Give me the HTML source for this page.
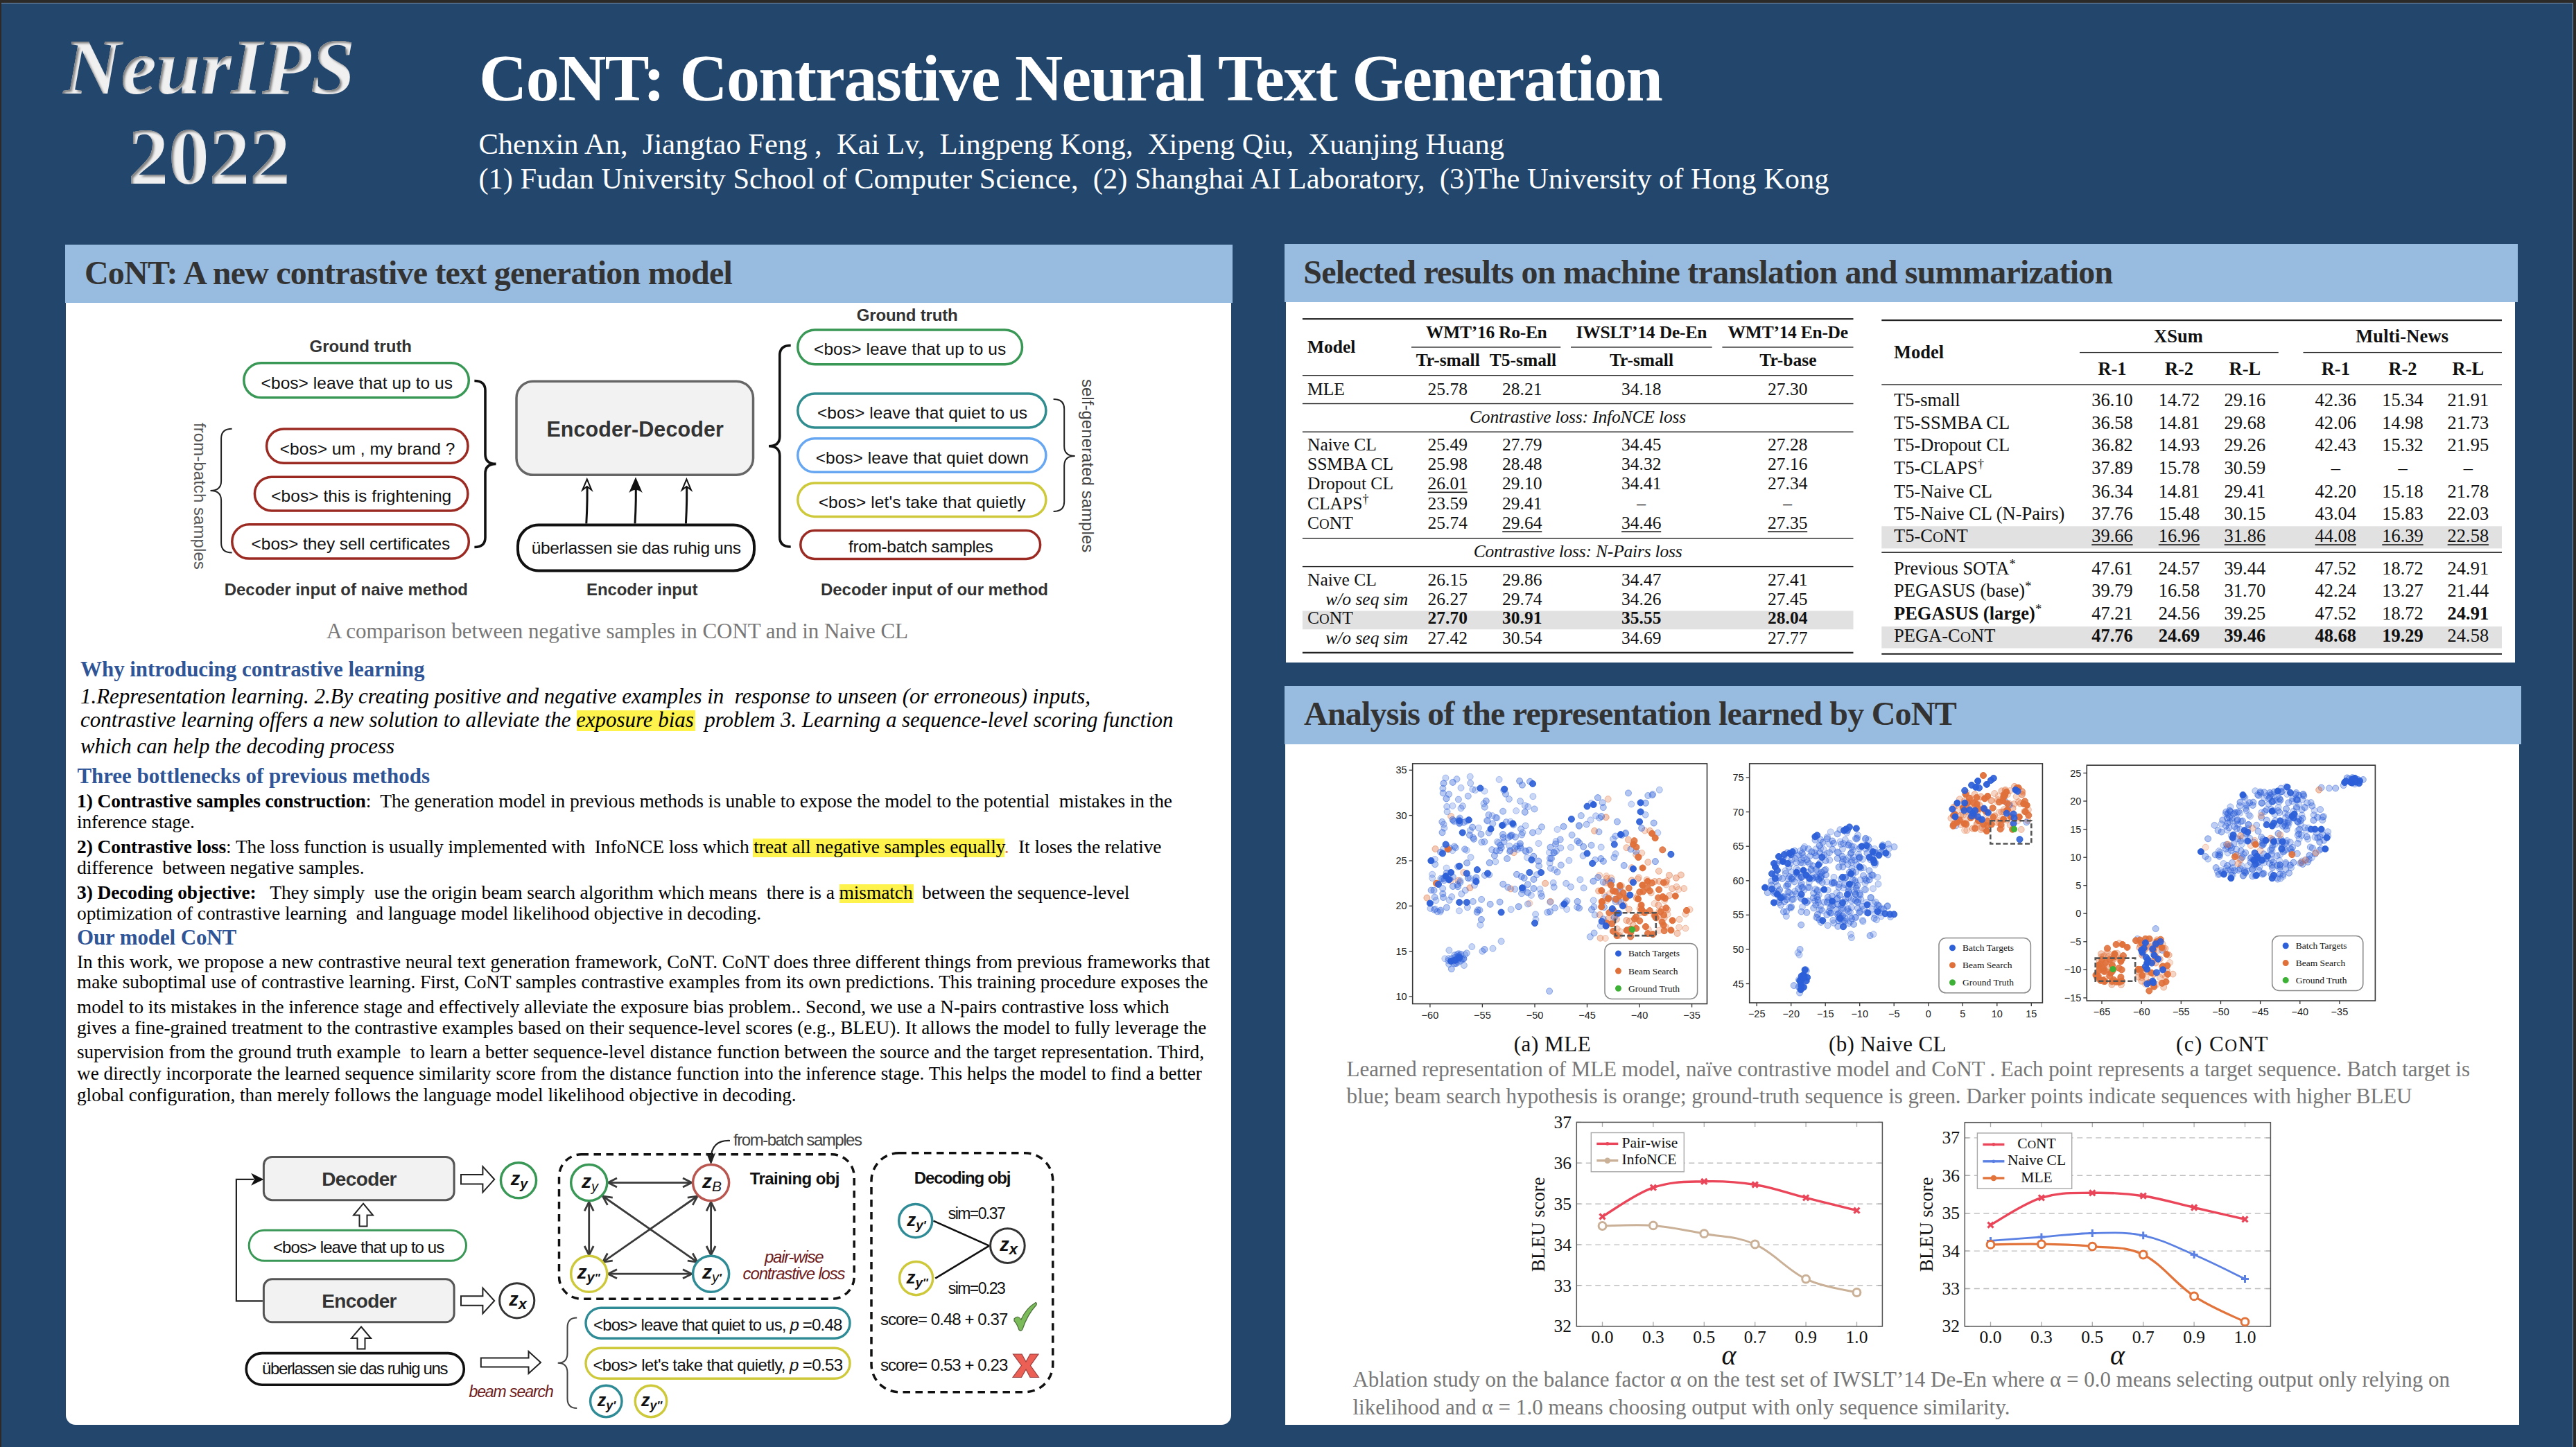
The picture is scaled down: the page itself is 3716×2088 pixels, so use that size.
<!DOCTYPE html><html><head><meta charset="utf-8"><style>
*{margin:0;padding:0;box-sizing:border-box}
html,body{width:3716px;height:2088px;overflow:hidden}
body{background:#22466c;position:relative;font-family:"Liberation Serif",serif}
.t{position:absolute;white-space:pre}
.a{position:absolute}
svg{position:absolute;left:0;top:0;overflow:visible}
</style></head><body>
<div class="a" style="left:0;top:0;width:3716px;height:4px;background:#2b2a29"></div>
<div class="a" style="left:2px;top:4px;width:3710px;height:1px;background:#7d93ab"></div>
<div class="a" style="left:0;top:0;width:2px;height:2088px;background:#2b2a29"></div>
<div class="a" style="left:3711px;top:4px;width:1px;height:2084px;background:#7d93ab"></div>
<div class="a" style="left:3712px;top:0;width:4px;height:2088px;background:#2b2a29"></div>
<svg width="600" height="300" style="left:0;top:0">
<defs><filter id="ins" x="-10%" y="-10%" width="120%" height="120%">
<feOffset dx="3" dy="3" in="SourceAlpha" result="o"/>
<feGaussianBlur in="o" stdDeviation="1.6" result="b"/>
<feComposite operator="out" in="SourceAlpha" in2="b" result="inv"/>
<feFlood flood-color="#000" flood-opacity="0.75"/>
<feComposite operator="in" in2="inv" result="sh"/>
<feMerge><feMergeNode in="SourceGraphic"/><feMergeNode in="sh"/></feMerge>
</filter></defs>
<g filter="url(#ins)" fill="#f0f0f0" font-family="Liberation Serif" font-weight="bold">
<text x="91.4" y="134.7" font-size="115" font-style="italic" letter-spacing="-0.2">NeurIPS</text>
<text x="184.6" y="264.6" font-size="117">2022</text>
</g></svg>
<div class="t" style="left:691.0px;top:65.2px;font-size:96px;line-height:96px;font-family:'Liberation Serif', serif;font-weight:bold;font-style:normal;color:#fff;letter-spacing:-1.693px;">CoNT: Contrastive Neural Text Generation</div>
<div class="t" style="left:690.4px;top:186.8px;font-size:42.5px;line-height:42.5px;font-family:'Liberation Serif', serif;font-weight:normal;font-style:normal;color:#fff;letter-spacing:0.026px;">Chenxin An,  Jiangtao Feng ,  Kai Lv,  Lingpeng Kong,  Xipeng Qiu,  Xuanjing Huang</div>
<div class="t" style="left:690.4px;top:237.4px;font-size:42.5px;line-height:42.5px;font-family:'Liberation Serif', serif;font-weight:normal;font-style:normal;color:#fff;letter-spacing:-0.001px;">(1) Fudan University School of Computer Science,  (2) Shanghai AI Laboratory,  (3)The University of Hong Kong</div>
<div class="a" style="left:95px;top:437px;width:1681px;height:1618.5px;background:#fff;border-radius:0 0 14px 14px"></div>
<div class="a" style="left:94px;top:353px;width:1684px;height:84px;background:#98bbe0"></div>
<div class="a" style="left:1855px;top:436px;width:1773px;height:520.4px;background:#fff"></div>
<div class="a" style="left:1853px;top:352px;width:1779px;height:84px;background:#98bbe0"></div>
<div class="a" style="left:1854px;top:1073.6px;width:1780px;height:982px;background:#fff"></div>
<div class="a" style="left:1853px;top:990px;width:1784px;height:83.6px;background:#98bbe0"></div>
<div class="t" style="left:122.0px;top:370.0px;font-size:48px;line-height:48px;font-family:'Liberation Serif', serif;font-weight:bold;font-style:normal;color:#333;letter-spacing:-0.791px;">CoNT: A new contrastive text generation model</div>
<div class="t" style="left:1880.2px;top:368.5px;font-size:48px;line-height:48px;font-family:'Liberation Serif', serif;font-weight:bold;font-style:normal;color:#333;letter-spacing:-0.746px;">Selected results on machine translation and summarization</div>
<div class="t" style="left:1881.0px;top:1006.0px;font-size:48px;line-height:48px;font-family:'Liberation Serif', serif;font-weight:bold;font-style:normal;color:#333;letter-spacing:-0.782px;">Analysis of the representation learned by CoNT</div>
<svg width="3716" height="2088" style="left:0;top:0">
<text x="446.6" y="507.7" font-family="Liberation Sans" font-size="24" font-weight="bold" font-style="normal" fill="#333" text-anchor="start" textLength="147.4" lengthAdjust="spacing" >Ground truth</text>
<rect x="351.8" y="523.8" width="324.5" height="50.0" rx="25.0" fill="none" stroke="#3a9856" stroke-width="3.5"/>
<text x="376.6" y="560.6" font-family="Liberation Sans" font-size="24.5" font-weight="normal" font-style="normal" fill="#111" text-anchor="start" textLength="276.4" lengthAdjust="spacing" >&lt;bos&gt; leave that up to us</text>
<rect x="384.6" y="619.0" width="290.4" height="49.3" rx="24.6" fill="none" stroke="#9b2a22" stroke-width="3.5"/>
<text x="403.7" y="656.4" font-family="Liberation Sans" font-size="24.5" font-weight="normal" font-style="normal" fill="#111" text-anchor="start" textLength="252.8" lengthAdjust="spacing" >&lt;bos&gt; um , my brand ?</text>
<rect x="367.4" y="688.2" width="307.5" height="48.8" rx="24.4" fill="none" stroke="#9b2a22" stroke-width="3.5"/>
<text x="391.2" y="723.8" font-family="Liberation Sans" font-size="24.5" font-weight="normal" font-style="normal" fill="#111" text-anchor="start" textLength="260.0" lengthAdjust="spacing" >&lt;bos&gt; this is frightening</text>
<rect x="334.8" y="756.8" width="341.5" height="49.3" rx="24.6" fill="none" stroke="#9b2a22" stroke-width="3.5"/>
<text x="362.6" y="793.2" font-family="Liberation Sans" font-size="24.5" font-weight="normal" font-style="normal" fill="#111" text-anchor="start" textLength="286.7" lengthAdjust="spacing" >&lt;bos&gt; they sell certificates</text>
<path d="M684.4,549.5 Q700.0,549.5 700.0,563.5 L700.0,655.4 Q700.0,669.4 715.5,669.4 Q700.0,669.4 700.0,683.4 L700.0,775.5 Q700.0,789.5 684.4,789.5" fill="none" stroke="#111" stroke-width="3.6"/>
<path d="M334.6,618.8 Q319.1,618.8 319.1,632.8 L319.1,694.0 Q319.1,708.0 303.5,708.0 Q319.1,708.0 319.1,722.0 L319.1,783.5 Q319.1,797.5 334.6,797.5" fill="none" stroke="#222" stroke-width="2"/>
<text transform="translate(280.3,610) rotate(90)" x="0" y="0" font-family="Liberation Sans" font-size="24" fill="#555" textLength="211.8" lengthAdjust="spacing">from-batch samples</text>
<rect x="745" y="550.3" width="341.5" height="135" rx="24" fill="#f2f2f2" stroke="#666" stroke-width="3.5"/>
<text x="788.4" y="630.3" font-family="Liberation Sans" font-size="30.5" font-weight="bold" font-style="normal" fill="#333" text-anchor="start" textLength="255.4" lengthAdjust="spacing" >Encoder-Decoder</text>
<path d="M845.8,755.5 Q847.8,720 846.8,693" fill="none" stroke="#111" stroke-width="3"/>
<path d="M840.3,707 L846.8,691.5 L853.3,707 L846.8,702 Z" fill="#fff" stroke="#111" stroke-width="2"/>
<path d="M916.0,755.5 Q918.0,720 917.0,693" fill="none" stroke="#111" stroke-width="3"/>
<path d="M917.0,690.4 L909.0,709 Q917.0,703 925.0,709 Z" fill="#111" stroke="#111" stroke-width="1.5"/>
<path d="M989.4,755.5 Q991.4,720 990.4,693" fill="none" stroke="#111" stroke-width="3"/>
<path d="M983.9,707 L990.4,691.5 L996.9,707 L990.4,702 Z" fill="#fff" stroke="#111" stroke-width="2"/>
<rect x="747" y="757.5" width="341" height="66" rx="30" fill="#fff" stroke="#111" stroke-width="4"/>
<text x="766.7" y="799.0" font-family="Liberation Sans" font-size="24.5" font-weight="normal" font-style="normal" fill="#111" text-anchor="start" textLength="302.2" lengthAdjust="spacing" >überlassen sie das ruhig uns</text>
<text x="323.7" y="859.0" font-family="Liberation Sans" font-size="24" font-weight="bold" font-style="normal" fill="#333" text-anchor="start" textLength="351.3" lengthAdjust="spacing" >Decoder input of naive method</text>
<text x="846.0" y="859.0" font-family="Liberation Sans" font-size="24" font-weight="bold" font-style="normal" fill="#333" text-anchor="start" textLength="160.4" lengthAdjust="spacing" >Encoder input</text>
<text x="1184.0" y="859.0" font-family="Liberation Sans" font-size="24" font-weight="bold" font-style="normal" fill="#333" text-anchor="start" textLength="328.0" lengthAdjust="spacing" >Decoder input of our method</text>
<path d="M1140.7,498.5 Q1124.8,498.5 1124.8,512.5 L1124.8,629.7 Q1124.8,643.7 1109.0,643.7 Q1124.8,643.7 1124.8,657.7 L1124.8,775.0 Q1124.8,789.0 1140.7,789.0" fill="none" stroke="#111" stroke-width="3.6"/>
<text x="1235.8" y="463.4" font-family="Liberation Sans" font-size="24" font-weight="bold" font-style="normal" fill="#333" text-anchor="start" textLength="145.9" lengthAdjust="spacing" >Ground truth</text>
<rect x="1150.8" y="476.1" width="323.7" height="49.6" rx="24.8" fill="none" stroke="#3a9856" stroke-width="3.5"/>
<text x="1174.0" y="511.8" font-family="Liberation Sans" font-size="24.5" font-weight="normal" font-style="normal" fill="#111" text-anchor="start" textLength="277.2" lengthAdjust="spacing" >&lt;bos&gt; leave that up to us</text>
<rect x="1150.8" y="568.0" width="358.1" height="48.9" rx="24.4" fill="none" stroke="#2f8c8f" stroke-width="3.5"/>
<text x="1179.0" y="603.6" font-family="Liberation Sans" font-size="24.5" font-weight="normal" font-style="normal" fill="#111" text-anchor="start" textLength="302.9" lengthAdjust="spacing" >&lt;bos&gt; leave that quiet to us</text>
<rect x="1150.8" y="632.8" width="358.1" height="48.5" rx="24.2" fill="none" stroke="#67a7f2" stroke-width="3.5"/>
<text x="1176.7" y="669.4" font-family="Liberation Sans" font-size="24.5" font-weight="normal" font-style="normal" fill="#111" text-anchor="start" textLength="307.2" lengthAdjust="spacing" >&lt;bos&gt; leave that quiet down</text>
<rect x="1150.8" y="697.1" width="358.1" height="48.3" rx="24.2" fill="none" stroke="#cdc93a" stroke-width="3.5"/>
<text x="1180.7" y="733.2" font-family="Liberation Sans" font-size="24.5" font-weight="normal" font-style="normal" fill="#111" text-anchor="start" textLength="298.9" lengthAdjust="spacing" >&lt;bos&gt; let's take that quietly</text>
<rect x="1154.8" y="765.6" width="345.8" height="40.9" rx="20.4" fill="none" stroke="#9b2a22" stroke-width="3.5"/>
<text x="1224.1" y="797.3" font-family="Liberation Sans" font-size="24.5" font-weight="normal" font-style="normal" fill="#111" text-anchor="start" textLength="208.7" lengthAdjust="spacing" >from-batch samples</text>
<path d="M1519.6,576.0 Q1535.2,576.0 1535.2,590.0 L1535.2,644.0 Q1535.2,658.0 1550.7,658.0 Q1535.2,658.0 1535.2,672.0 L1535.2,724.0 Q1535.2,738.0 1519.6,738.0" fill="none" stroke="#222" stroke-width="2"/>
<text transform="translate(1561,546.9) rotate(90)" x="0" y="0" font-family="Liberation Sans" font-size="24" fill="#444" textLength="250.4" lengthAdjust="spacing">self-generated samples</text>
</svg>
<div class="t" style="left:471.0px;top:895.4px;font-size:31px;line-height:31px;font-family:'Liberation Serif', serif;font-weight:normal;font-style:normal;color:#777;letter-spacing:-0.040px;">A comparison between negative samples in CONT and in Naive CL</div>
<div class="t" style="left:116.0px;top:949.7px;font-size:31px;line-height:31px;font-family:'Liberation Serif', serif;font-weight:bold;font-style:normal;color:#2f5597;letter-spacing:-0.047px;">Why introducing contrastive learning</div>
<div class="a" style="left:832.0px;top:1025.0px;width:170.5px;height:30.0px;background:#fdf34c"></div>
<div class="t" style="left:116.0px;top:988.5px;font-size:31px;line-height:31px;font-family:'Liberation Serif', serif;font-weight:normal;font-style:italic;color:#000;letter-spacing:-0.025px;">1.Representation learning. 2.By creating positive and negative examples in  response to unseen (or erroneous) inputs,</div>
<div class="t" style="left:116.0px;top:1022.7px;font-size:31px;line-height:31px;font-family:'Liberation Serif', serif;font-weight:normal;font-style:italic;color:#000;letter-spacing:-0.035px;">contrastive learning offers a new solution to alleviate the exposure bias  problem 3. Learning a sequence-level scoring function</div>
<div class="t" style="left:116.0px;top:1060.6px;font-size:31px;line-height:31px;font-family:'Liberation Serif', serif;font-weight:normal;font-style:italic;color:#000;letter-spacing:-0.088px;">which can help the decoding process</div>
<div class="t" style="left:111.4px;top:1104.0px;font-size:31px;line-height:31px;font-family:'Liberation Serif', serif;font-weight:bold;font-style:normal;color:#2f5597;letter-spacing:-0.049px;">Three bottlenecks of previous methods</div>
<div class="a" style="left:1085.5px;top:1210.0px;width:363.5px;height:27.0px;background:#fdf34c"></div>
<div class="a" style="left:1211.0px;top:1276.0px;width:106.5px;height:26.5px;background:#fdf34c"></div>
<div class="t" style="left:111.0px;top:1142.3px;font-size:27.5px;line-height:27.5px;font-family:'Liberation Serif', serif;font-weight:normal;font-style:normal;color:#000;letter-spacing:-0.117px;"><b>1) Contrastive samples construction</b>:  The generation model in previous methods is unable to expose the model to the potential  mistakes in the</div>
<div class="t" style="left:111.0px;top:1172.3px;font-size:27.5px;line-height:27.5px;font-family:'Liberation Serif', serif;font-weight:normal;font-style:normal;color:#000;letter-spacing:-0.170px;">inference stage.</div>
<div class="t" style="left:111.0px;top:1207.5px;font-size:27.5px;line-height:27.5px;font-family:'Liberation Serif', serif;font-weight:normal;font-style:normal;color:#000;letter-spacing:-0.098px;"><b>2) Contrastive loss</b>: The loss function is usually implemented with  InfoNCE loss which treat all negative samples equally<span style="color:#e07a3a">.</span>  It loses the relative</div>
<div class="t" style="left:111.0px;top:1238.2px;font-size:27.5px;line-height:27.5px;font-family:'Liberation Serif', serif;font-weight:normal;font-style:normal;color:#000;letter-spacing:-0.116px;">difference  between negative samples.</div>
<div class="t" style="left:111.0px;top:1274.0px;font-size:27.5px;line-height:27.5px;font-family:'Liberation Serif', serif;font-weight:normal;font-style:normal;color:#000;letter-spacing:-0.120px;"><b>3) Decoding objective:</b>   They simply  use the origin beam search algorithm which means  there is a mismatch  between the sequence-level</div>
<div class="t" style="left:111.0px;top:1304.4px;font-size:27.5px;line-height:27.5px;font-family:'Liberation Serif', serif;font-weight:normal;font-style:normal;color:#000;letter-spacing:-0.116px;">optimization of contrastive learning  and language model likelihood objective in decoding.</div>
<div class="t" style="left:111.0px;top:1336.7px;font-size:31px;line-height:31px;font-family:'Liberation Serif', serif;font-weight:bold;font-style:normal;color:#2f5597;letter-spacing:-0.127px;">Our model CoNT</div>
<div class="t" style="left:111.0px;top:1374.8px;font-size:27.2px;line-height:27.2px;font-family:'Liberation Serif', serif;font-weight:normal;font-style:normal;color:#000;letter-spacing:0.014px;">In this work, we propose a new contrastive neural text generation framework, CoNT. CoNT does three different things from previous frameworks that</div>
<div class="t" style="left:111.0px;top:1404.2px;font-size:27.2px;line-height:27.2px;font-family:'Liberation Serif', serif;font-weight:normal;font-style:normal;color:#000;letter-spacing:0.012px;">make suboptimal use of contrastive learning. First, CoNT samples contrastive examples from its own predictions. This training procedure exposes the</div>
<div class="t" style="left:111.0px;top:1440.0px;font-size:27.2px;line-height:27.2px;font-family:'Liberation Serif', serif;font-weight:normal;font-style:normal;color:#000;letter-spacing:0.014px;">model to its mistakes in the inference stage and effectively alleviate the exposure bias problem.. Second, we use a N-pairs contrastive loss which</div>
<div class="t" style="left:111.0px;top:1470.2px;font-size:27.2px;line-height:27.2px;font-family:'Liberation Serif', serif;font-weight:normal;font-style:normal;color:#000;letter-spacing:0.012px;">gives a fine-grained treatment to the contrastive examples based on their sequence-level scores (e.g., BLEU). It allows the model to fully leverage the</div>
<div class="t" style="left:111.0px;top:1505.2px;font-size:27.2px;line-height:27.2px;font-family:'Liberation Serif', serif;font-weight:normal;font-style:normal;color:#000;letter-spacing:0.031px;">supervision from the ground truth example  to learn a better sequence-level distance function between the source and the target representation. Third,</div>
<div class="t" style="left:111.0px;top:1536.2px;font-size:27.2px;line-height:27.2px;font-family:'Liberation Serif', serif;font-weight:normal;font-style:normal;color:#000;letter-spacing:0.022px;">we directly incorporate the learned sequence similarity score from the distance function into the inference stage. This helps the model to find a better</div>
<div class="t" style="left:111.0px;top:1567.2px;font-size:27.2px;line-height:27.2px;font-family:'Liberation Serif', serif;font-weight:normal;font-style:normal;color:#000;letter-spacing:0.011px;">global configuration, than merely follows the language model likelihood objective in decoding.</div>
<svg width="3716" height="2088" style="left:0;top:0">
<rect x="380.4" y="1669.4" width="274.7" height="62.3" rx="12" fill="#f2f2f2" stroke="#555" stroke-width="3"/>
<text x="464.2" y="1711.4" font-family="Liberation Sans" font-size="28" font-weight="bold" font-style="normal" fill="#333" text-anchor="start" textLength="108.3" lengthAdjust="spacing" >Decoder</text>
<path d="M665,1695.0 L696.4,1695.0 L696.4,1683.3 L713.2,1701.8 L696.4,1720.3 L696.4,1708.6 L665,1708.6 Z" fill="#fff" stroke="#222" stroke-width="2" stroke-linejoin="miter"/>
<circle cx="748" cy="1703.3" r="25.55" fill="#fff" stroke="#3a9856" stroke-width="3.5"/>
<text x="749" y="1710.3" text-anchor="middle" font-family="Liberation Sans" font-style="italic" fill="#111"><tspan font-size="27" font-weight="bold">z</tspan><tspan font-size="20" font-weight="bold" dy="5">y</tspan></text>
<path d="M378.9,1877.4 L340.9,1877.4 L340.9,1701.8 L366,1701.8" fill="none" stroke="#222" stroke-width="2.2"/>
<path d="M378.9,1701.8 L364,1694.5 L368,1701.8 L364,1709 Z" fill="#111" stroke="#111" stroke-width="1.5"/>
<path d="M524,1736.7 L538,1753.5 L529.5,1753.5 L529.5,1769.4 L518.5,1769.4 L518.5,1753.5 L510,1753.5 Z" fill="#fff" stroke="#222" stroke-width="2"/>
<rect x="359.2" y="1775.3" width="313.3" height="44" rx="22" fill="#fff" stroke="#3a9856" stroke-width="3"/>
<text x="394.0" y="1808.0" font-family="Liberation Sans" font-size="24" font-weight="normal" font-style="normal" fill="#111" text-anchor="start" textLength="247.2" lengthAdjust="spacing" >&lt;bos&gt; leave that up to us</text>
<rect x="380.4" y="1845.8" width="274.7" height="62" rx="12" fill="#f2f2f2" stroke="#555" stroke-width="3"/>
<text x="464.2" y="1887.0" font-family="Liberation Sans" font-size="28" font-weight="bold" font-style="normal" fill="#333" text-anchor="start" textLength="108.3" lengthAdjust="spacing" >Encoder</text>
<path d="M665,1870.2 L696.4,1870.2 L696.4,1858.5 L713.2,1877 L696.4,1895.5 L696.4,1883.8 L665,1883.8 Z" fill="#fff" stroke="#222" stroke-width="2" stroke-linejoin="miter"/>
<circle cx="745.7" cy="1876.8" r="25.1" fill="#fff" stroke="#333" stroke-width="3"/>
<text x="747" y="1883.8" text-anchor="middle" font-family="Liberation Sans" font-style="italic" fill="#111"><tspan font-size="27" font-weight="bold">z</tspan><tspan font-size="22" font-weight="bold" dy="5">x</tspan></text>
<path d="M521,1914.5 L535,1931 L526.5,1931 L526.5,1946.5 L515.5,1946.5 L515.5,1931 L507,1931 Z" fill="#fff" stroke="#222" stroke-width="2"/>
<rect x="355.2" y="1952.6" width="314.1" height="45.6" rx="22.8" fill="#fff" stroke="#111" stroke-width="3.6"/>
<text x="378.0" y="1982.7" font-family="Liberation Sans" font-size="24" font-weight="normal" font-style="normal" fill="#111" text-anchor="start" textLength="268.5" lengthAdjust="spacing" >überlassen sie das ruhig uns</text>
<path d="M693.8,1959.5 L762.5,1959.5 L762.5,1950 L780,1966 L762.5,1982 L762.5,1972.5 L693.8,1972.5 Z" fill="#fff" stroke="#222" stroke-width="2" stroke-linejoin="miter"/>
<text x="676.4" y="2016.0" font-family="Liberation Sans" font-size="23" font-weight="normal" font-style="italic" fill="#6e1c1c" text-anchor="start" textLength="122.4" lengthAdjust="spacing" >beam search</text>
<rect x="806.5" y="1665.8" width="425.7" height="208.4" rx="32" fill="none" stroke="#111" stroke-width="3.5" stroke-dasharray="10.5,7.5"/>
<text x="1058.0" y="1652.5" font-family="Liberation Sans" font-size="24" font-weight="normal" font-style="normal" fill="#444" text-anchor="start" textLength="186.0" lengthAdjust="spacing" >from-batch samples</text>
<path d="M1053,1646 Q1026,1645 1025.6,1672" fill="none" stroke="#222" stroke-width="2.2"/>
<path d="M1025.6,1679 L1020,1665 L1025.6,1669 L1031,1665 Z" fill="#222" stroke="#222" stroke-width="1.2"/>
<line x1="877.0" y1="1706.6" x2="998.0" y2="1706.6" stroke="#3a3a3a" stroke-width="2.8"/>
<path d="M985.0,1713.1 L998.0,1706.6 L985.0,1700.1" fill="none" stroke="#3a3a3a" stroke-width="2.8" stroke-linejoin="miter"/>
<path d="M890.0,1713.1 L877.0,1706.6 L890.0,1700.1" fill="none" stroke="#3a3a3a" stroke-width="2.8" stroke-linejoin="miter"/>
<line x1="877.0" y1="1838.2" x2="998.0" y2="1838.2" stroke="#3a3a3a" stroke-width="2.8"/>
<path d="M985.0,1844.7 L998.0,1838.2 L985.0,1831.7" fill="none" stroke="#3a3a3a" stroke-width="2.8" stroke-linejoin="miter"/>
<path d="M890.0,1844.7 L877.0,1838.2 L890.0,1831.7" fill="none" stroke="#3a3a3a" stroke-width="2.8" stroke-linejoin="miter"/>
<line x1="849.7" y1="1734.3" x2="849.7" y2="1811.0" stroke="#3a3a3a" stroke-width="2.8"/>
<path d="M843.2,1798.0 L849.7,1811.0 L856.2,1798.0" fill="none" stroke="#3a3a3a" stroke-width="2.8" stroke-linejoin="miter"/>
<path d="M843.2,1747.3 L849.7,1734.3 L856.2,1747.3" fill="none" stroke="#3a3a3a" stroke-width="2.8" stroke-linejoin="miter"/>
<line x1="1025.6" y1="1734.3" x2="1025.6" y2="1811.0" stroke="#3a3a3a" stroke-width="2.8"/>
<path d="M1019.1,1798.0 L1025.6,1811.0 L1032.1,1798.0" fill="none" stroke="#3a3a3a" stroke-width="2.8" stroke-linejoin="miter"/>
<path d="M1019.1,1747.3 L1025.6,1734.3 L1032.1,1747.3" fill="none" stroke="#3a3a3a" stroke-width="2.8" stroke-linejoin="miter"/>
<line x1="869.4" y1="1726.0" x2="1006.2" y2="1821.3" stroke="#3a3a3a" stroke-width="2.8"/>
<path d="M991.8,1819.2 L1006.2,1821.3 L999.2,1808.5" fill="none" stroke="#3a3a3a" stroke-width="2.8" stroke-linejoin="miter"/>
<path d="M876.4,1738.8 L869.4,1726.0 L883.8,1728.1" fill="none" stroke="#3a3a3a" stroke-width="2.8" stroke-linejoin="miter"/>
<line x1="1006.2" y1="1726.0" x2="869.4" y2="1821.3" stroke="#3a3a3a" stroke-width="2.8"/>
<path d="M876.4,1808.5 L869.4,1821.3 L883.8,1819.2" fill="none" stroke="#3a3a3a" stroke-width="2.8" stroke-linejoin="miter"/>
<path d="M991.8,1728.1 L1006.2,1726.0 L999.2,1738.8" fill="none" stroke="#3a3a3a" stroke-width="2.8" stroke-linejoin="miter"/>
<circle cx="849.7" cy="1706.6" r="26.05" fill="#fff" stroke="#3a9856" stroke-width="3.5"/>
<circle cx="1025.6" cy="1706.6" r="26.05" fill="#fff" stroke="#b9564f" stroke-width="3.5"/>
<circle cx="849.7" cy="1838.2" r="26.05" fill="#fff" stroke="#cdc93a" stroke-width="3.5"/>
<circle cx="1025.6" cy="1838.2" r="26.05" fill="#fff" stroke="#2f8c96" stroke-width="3.5"/>
<text x="851" y="1713.6" text-anchor="middle" font-family="Liberation Sans" font-style="italic" fill="#111"><tspan font-size="28" font-weight="bold">z</tspan><tspan font-size="20" font-weight="normal" dy="5">y</tspan></text>
<text x="1027" y="1713.6" text-anchor="middle" font-family="Liberation Sans" font-style="italic" fill="#111"><tspan font-size="28" font-weight="bold">z</tspan><tspan font-size="21" font-weight="normal" dy="5">B</tspan></text>
<text x="849" y="1845.2" text-anchor="middle" font-family="Liberation Sans" font-style="italic" fill="#111"><tspan font-size="28" font-weight="bold">z</tspan><tspan font-size="20" font-weight="bold" dy="5">y</tspan><tspan font-weight="bold">″</tspan></text>
<text x="1027" y="1845.2" text-anchor="middle" font-family="Liberation Sans" font-style="italic" fill="#111"><tspan font-size="28" font-weight="bold">z</tspan><tspan font-size="20" font-weight="normal" dy="5">y</tspan><tspan font-weight="bold">′</tspan></text>
<text x="1081.8" y="1708.5" font-family="Liberation Sans" font-size="24" font-weight="bold" font-style="normal" fill="#111" text-anchor="start" textLength="129.7" lengthAdjust="spacing" >Training obj</text>
<text x="1103.0" y="1821.7" font-family="Liberation Sans" font-size="24" font-weight="normal" font-style="italic" fill="#6e1c1c" text-anchor="start" textLength="85.6" lengthAdjust="spacing" >pair-wise</text>
<text x="1071.6" y="1846.4" font-family="Liberation Sans" font-size="24" font-weight="normal" font-style="italic" fill="#6e1c1c" text-anchor="start" textLength="148.0" lengthAdjust="spacing" >contrastive loss</text>
<rect x="845" y="1887.2" width="381" height="44" rx="22" fill="#fff" stroke="#2f8c96" stroke-width="3.4"/>
<text x="856.0" y="1919.5" font-family="Liberation Sans" font-size="24" font-weight="normal" font-style="normal" fill="#111" text-anchor="start" textLength="359.3" lengthAdjust="spacing" >&lt;bos&gt; leave that quiet to us, <tspan font-style="italic">p</tspan> =0.48</text>
<rect x="845" y="1945.3" width="381" height="44" rx="22" fill="#fff" stroke="#cdc93a" stroke-width="3.4"/>
<text x="855.4" y="1977.5" font-family="Liberation Sans" font-size="24" font-weight="normal" font-style="normal" fill="#111" text-anchor="start" textLength="360.8" lengthAdjust="spacing" >&lt;bos&gt; let's take that quietly,  <tspan font-style="italic">p</tspan> =0.53</text>
<circle cx="874.3" cy="2022" r="22.75" fill="#fff" stroke="#2f8c96" stroke-width="3.5"/>
<circle cx="939" cy="2022" r="22.75" fill="#fff" stroke="#cdc93a" stroke-width="3.5"/>
<text x="875" y="2029" text-anchor="middle" font-family="Liberation Sans" font-style="italic" fill="#111"><tspan font-size="25" font-weight="bold">z</tspan><tspan font-size="18" font-weight="bold" dy="5">y</tspan><tspan font-weight="bold">′</tspan></text>
<text x="940" y="2029" text-anchor="middle" font-family="Liberation Sans" font-style="italic" fill="#111"><tspan font-size="25" font-weight="bold">z</tspan><tspan font-size="18" font-weight="bold" dy="5">y</tspan><tspan font-weight="bold">″</tspan></text>
<path d="M832.2,1901.5 Q818.5,1901.5 818.5,1915.5 L818.5,1952.8 Q818.5,1966.8 804.7,1966.8 Q818.5,1966.8 818.5,1980.8 L818.5,2018.0 Q818.5,2032.0 832.2,2032.0" fill="none" stroke="#444" stroke-width="2"/>
<rect x="1257" y="1663.8" width="261.8" height="344.9" rx="40" fill="none" stroke="#111" stroke-width="3.5" stroke-dasharray="10.5,7.5"/>
<text x="1318.8" y="1707.7" font-family="Liberation Sans" font-size="24" font-weight="bold" font-style="normal" fill="#111" text-anchor="start" textLength="139.6" lengthAdjust="spacing" >Decoding obj</text>
<line x1="1346.4" y1="1761.6" x2="1427" y2="1797.6" stroke="#111" stroke-width="2.6"/>
<line x1="1349.2" y1="1844.6" x2="1427" y2="1797.6" stroke="#111" stroke-width="2.6"/>
<circle cx="1320.7" cy="1761.6" r="24.05" fill="#fff" stroke="#2f8c96" stroke-width="3.5"/>
<circle cx="1321.6" cy="1844.6" r="24.05" fill="#fff" stroke="#cdc93a" stroke-width="3.5"/>
<circle cx="1453.4" cy="1797.6" r="24.8" fill="#fff" stroke="#333" stroke-width="3"/>
<text x="1322" y="1768.6" text-anchor="middle" font-family="Liberation Sans" font-style="italic" fill="#111"><tspan font-size="26" font-weight="bold">z</tspan><tspan font-size="19" font-weight="bold" dy="5">y</tspan><tspan font-weight="bold">′</tspan></text>
<text x="1323" y="1851.6" text-anchor="middle" font-family="Liberation Sans" font-style="italic" fill="#111"><tspan font-size="26" font-weight="bold">z</tspan><tspan font-size="19" font-weight="bold" dy="5">y</tspan><tspan font-weight="bold">″</tspan></text>
<text x="1455" y="1804.6" text-anchor="middle" font-family="Liberation Sans" font-style="italic" fill="#111"><tspan font-size="27" font-weight="bold">z</tspan><tspan font-size="22" font-weight="bold" dy="5">x</tspan></text>
<text x="1367.7" y="1759.4" font-family="Liberation Sans" font-size="23" font-weight="normal" font-style="normal" fill="#111" text-anchor="start" textLength="83.0" lengthAdjust="spacing" >sim=0.37</text>
<text x="1367.7" y="1866.7" font-family="Liberation Sans" font-size="23" font-weight="normal" font-style="normal" fill="#111" text-anchor="start" textLength="83.0" lengthAdjust="spacing" >sim=0.23</text>
<text x="1269.9" y="1912.3" font-family="Liberation Sans" font-size="24" font-weight="normal" font-style="normal" fill="#111" text-anchor="start" textLength="184.4" lengthAdjust="spacing" >score= 0.48 + 0.37</text>
<text x="1269.9" y="1977.8" font-family="Liberation Sans" font-size="24" font-weight="normal" font-style="normal" fill="#111" text-anchor="start" textLength="184.4" lengthAdjust="spacing" >score= 0.53 + 0.23</text>
<path d="M1463,1903 Q1468,1897 1473,1904 Q1480,1888 1494,1879.5 Q1496,1880 1495,1883 Q1482,1897 1475,1918 Q1473,1922 1470,1919 Q1467,1910 1463,1906 Z" fill="#7cbb5a" stroke="#4a6e3a" stroke-width="1.2"/>
<path d="M1461.5,1954 L1474,1954 L1480,1965 L1486,1954 L1498,1954 L1486.5,1970.5 L1498.5,1987.5 L1486,1987.5 L1480,1976 L1473.5,1987.5 L1461,1987.5 L1473.5,1970.5 Z" fill="#ec5f55" stroke="#9a4040" stroke-width="1.2"/>
</svg>
<svg width="3716" height="2088" style="left:0;top:0">
<rect x="1878.9" y="881.5" width="794.6" height="26.7" fill="#e1e1e1"/>
<rect x="1878.9" y="459.10" width="794.6" height="2.2" fill="#222"/>
<text x="2057.1" y="488.3" font-family="Liberation Serif" font-size="25.5" font-weight="bold" font-style="normal" fill="#111" text-anchor="start" textLength="174.7" lengthAdjust="spacing" >WMT’16 Ro-En</text>
<text x="2273.4" y="488.3" font-family="Liberation Serif" font-size="25.5" font-weight="bold" font-style="normal" fill="#111" text-anchor="start" textLength="189.1" lengthAdjust="spacing" >IWSLT’14 De-En</text>
<text x="2492.6" y="488.3" font-family="Liberation Serif" font-size="25.5" font-weight="bold" font-style="normal" fill="#111" text-anchor="start" textLength="173.5" lengthAdjust="spacing" >WMT’14 En-De</text>
<rect x="2036" y="500.35" width="215.3" height="1.3" fill="#222"/>
<rect x="2266" y="500.35" width="203.7" height="1.3" fill="#222"/>
<rect x="2484.4" y="500.35" width="189.1" height="1.3" fill="#222"/>
<text x="1886.0" y="509.0" font-family="Liberation Serif" font-size="25.5" font-weight="bold" font-style="normal" fill="#111" text-anchor="start" >Model</text>
<text x="2088.7" y="528" font-family="Liberation Serif" font-size="25.5" font-weight="bold" text-anchor="middle" fill="#111">Tr-small</text>
<text x="2197" y="528" font-family="Liberation Serif" font-size="25.5" font-weight="bold" text-anchor="middle" fill="#111">T5-small</text>
<text x="2368" y="528" font-family="Liberation Serif" font-size="25.5" font-weight="bold" text-anchor="middle" fill="#111">Tr-small</text>
<text x="2579.4" y="528" font-family="Liberation Serif" font-size="25.5" font-weight="bold" text-anchor="middle" fill="#111">Tr-base</text>
<rect x="1878.9" y="541.00" width="794.6" height="1.4" fill="#222"/>
<text x="1886" y="569.8" font-family="Liberation Serif" font-size="25.5" fill="#111">MLE</text>
<text x="2088.3" y="569.8" font-family="Liberation Serif" font-size="25.5" font-weight="normal" text-anchor="middle" fill="#111">25.78</text>
<text x="2195.8" y="569.8" font-family="Liberation Serif" font-size="25.5" font-weight="normal" text-anchor="middle" fill="#111">28.21</text>
<text x="2367.7" y="569.8" font-family="Liberation Serif" font-size="25.5" font-weight="normal" text-anchor="middle" fill="#111">34.18</text>
<text x="2578.7" y="569.8" font-family="Liberation Serif" font-size="25.5" font-weight="normal" text-anchor="middle" fill="#111">27.30</text>
<text x="1886" y="650.3" font-family="Liberation Serif" font-size="25.5" fill="#111">Naive CL</text>
<text x="2088.3" y="650.3" font-family="Liberation Serif" font-size="25.5" font-weight="normal" text-anchor="middle" fill="#111">25.49</text>
<text x="2195.8" y="650.3" font-family="Liberation Serif" font-size="25.5" font-weight="normal" text-anchor="middle" fill="#111">27.79</text>
<text x="2367.7" y="650.3" font-family="Liberation Serif" font-size="25.5" font-weight="normal" text-anchor="middle" fill="#111">34.45</text>
<text x="2578.7" y="650.3" font-family="Liberation Serif" font-size="25.5" font-weight="normal" text-anchor="middle" fill="#111">27.28</text>
<text x="1886" y="678.0" font-family="Liberation Serif" font-size="25.5" fill="#111">SSMBA CL</text>
<text x="2088.3" y="678.0" font-family="Liberation Serif" font-size="25.5" font-weight="normal" text-anchor="middle" fill="#111">25.98</text>
<text x="2195.8" y="678.0" font-family="Liberation Serif" font-size="25.5" font-weight="normal" text-anchor="middle" fill="#111">28.48</text>
<text x="2367.7" y="678.0" font-family="Liberation Serif" font-size="25.5" font-weight="normal" text-anchor="middle" fill="#111">34.32</text>
<text x="2578.7" y="678.0" font-family="Liberation Serif" font-size="25.5" font-weight="normal" text-anchor="middle" fill="#111">27.16</text>
<text x="1886" y="706.0" font-family="Liberation Serif" font-size="25.5" fill="#111">Dropout CL</text>
<text x="2088.3" y="706.0" font-family="Liberation Serif" font-size="25.5" font-weight="normal" text-anchor="middle" fill="#111">26.01</text>
<rect x="2059.7" y="709.5" width="57.1" height="1.6" fill="#111"/>
<text x="2195.8" y="706.0" font-family="Liberation Serif" font-size="25.5" font-weight="normal" text-anchor="middle" fill="#111">29.10</text>
<text x="2367.7" y="706.0" font-family="Liberation Serif" font-size="25.5" font-weight="normal" text-anchor="middle" fill="#111">34.41</text>
<text x="2578.7" y="706.0" font-family="Liberation Serif" font-size="25.5" font-weight="normal" text-anchor="middle" fill="#111">27.34</text>
<text x="1886" y="734.5" font-family="Liberation Serif" font-size="25.5" fill="#111">CLAPS<tspan font-size="0.7em" dy="-9">†</tspan></text>
<text x="2088.3" y="734.5" font-family="Liberation Serif" font-size="25.5" font-weight="normal" text-anchor="middle" fill="#111">23.59</text>
<text x="2195.8" y="734.5" font-family="Liberation Serif" font-size="25.5" font-weight="normal" text-anchor="middle" fill="#111">29.41</text>
<text x="2367.7" y="734.5" font-family="Liberation Serif" font-size="25.5" font-weight="normal" text-anchor="middle" fill="#111">–</text>
<text x="2578.7" y="734.5" font-family="Liberation Serif" font-size="25.5" font-weight="normal" text-anchor="middle" fill="#111">–</text>
<text x="1886" y="763.0" font-family="Liberation Serif" font-size="25.5" fill="#111">C<tspan font-size="0.8em">O</tspan>NT</text>
<text x="2088.3" y="763.0" font-family="Liberation Serif" font-size="25.5" font-weight="normal" text-anchor="middle" fill="#111">25.74</text>
<text x="2195.8" y="763.0" font-family="Liberation Serif" font-size="25.5" font-weight="normal" text-anchor="middle" fill="#111">29.64</text>
<rect x="2167.2" y="766.5" width="57.1" height="1.6" fill="#111"/>
<text x="2367.7" y="763.0" font-family="Liberation Serif" font-size="25.5" font-weight="normal" text-anchor="middle" fill="#111">34.46</text>
<rect x="2339.1" y="766.5" width="57.1" height="1.6" fill="#111"/>
<text x="2578.7" y="763.0" font-family="Liberation Serif" font-size="25.5" font-weight="normal" text-anchor="middle" fill="#111">27.35</text>
<rect x="2550.1" y="766.5" width="57.1" height="1.6" fill="#111"/>
<text x="1886" y="844.7" font-family="Liberation Serif" font-size="25.5" fill="#111">Naive CL</text>
<text x="2088.3" y="844.7" font-family="Liberation Serif" font-size="25.5" font-weight="normal" text-anchor="middle" fill="#111">26.15</text>
<text x="2195.8" y="844.7" font-family="Liberation Serif" font-size="25.5" font-weight="normal" text-anchor="middle" fill="#111">29.86</text>
<text x="2367.7" y="844.7" font-family="Liberation Serif" font-size="25.5" font-weight="normal" text-anchor="middle" fill="#111">34.47</text>
<text x="2578.7" y="844.7" font-family="Liberation Serif" font-size="25.5" font-weight="normal" text-anchor="middle" fill="#111">27.41</text>
<text x="1886" y="873.0" font-family="Liberation Serif" font-size="25.5" fill="#111"><tspan font-style="italic" x="1912.2">w/o seq sim</tspan></text>
<text x="2088.3" y="873.0" font-family="Liberation Serif" font-size="25.5" font-weight="normal" text-anchor="middle" fill="#111">26.27</text>
<text x="2195.8" y="873.0" font-family="Liberation Serif" font-size="25.5" font-weight="normal" text-anchor="middle" fill="#111">29.74</text>
<text x="2367.7" y="873.0" font-family="Liberation Serif" font-size="25.5" font-weight="normal" text-anchor="middle" fill="#111">34.26</text>
<text x="2578.7" y="873.0" font-family="Liberation Serif" font-size="25.5" font-weight="normal" text-anchor="middle" fill="#111">27.45</text>
<text x="1886" y="900.0" font-family="Liberation Serif" font-size="25.5" fill="#111">C<tspan font-size="0.8em">O</tspan>NT</text>
<text x="2088.3" y="900.0" font-family="Liberation Serif" font-size="25.5" font-weight="bold" text-anchor="middle" fill="#111">27.70</text>
<text x="2195.8" y="900.0" font-family="Liberation Serif" font-size="25.5" font-weight="bold" text-anchor="middle" fill="#111">30.91</text>
<text x="2367.7" y="900.0" font-family="Liberation Serif" font-size="25.5" font-weight="bold" text-anchor="middle" fill="#111">35.55</text>
<text x="2578.7" y="900.0" font-family="Liberation Serif" font-size="25.5" font-weight="bold" text-anchor="middle" fill="#111">28.04</text>
<text x="1886" y="928.5" font-family="Liberation Serif" font-size="25.5" fill="#111"><tspan font-style="italic" x="1912.2">w/o seq sim</tspan></text>
<text x="2088.3" y="928.5" font-family="Liberation Serif" font-size="25.5" font-weight="normal" text-anchor="middle" fill="#111">27.42</text>
<text x="2195.8" y="928.5" font-family="Liberation Serif" font-size="25.5" font-weight="normal" text-anchor="middle" fill="#111">30.54</text>
<text x="2367.7" y="928.5" font-family="Liberation Serif" font-size="25.5" font-weight="normal" text-anchor="middle" fill="#111">34.69</text>
<text x="2578.7" y="928.5" font-family="Liberation Serif" font-size="25.5" font-weight="normal" text-anchor="middle" fill="#111">27.77</text>
<rect x="1878.9" y="581.80" width="794.6" height="1.4" fill="#222"/>
<text x="2120.0" y="610.2" font-family="Liberation Serif" font-size="25.5" font-weight="normal" font-style="italic" fill="#111" text-anchor="start" textLength="312.2" lengthAdjust="spacing" >Contrastive loss: InfoNCE loss</text>
<rect x="1878.9" y="622.50" width="794.6" height="1.4" fill="#222"/>
<rect x="1878.9" y="776.10" width="794.6" height="1.4" fill="#222"/>
<text x="2125.7" y="803.9" font-family="Liberation Serif" font-size="25.5" font-weight="normal" font-style="italic" fill="#111" text-anchor="start" textLength="301.0" lengthAdjust="spacing" >Contrastive loss: N-Pairs loss</text>
<rect x="1878.9" y="816.90" width="794.6" height="1.4" fill="#222"/>
<rect x="1878.9" y="940.70" width="794.6" height="2.2" fill="#222"/>
<rect x="2714.3" y="759.3" width="894.7" height="32.1" fill="#e1e1e1"/>
<rect x="2714.3" y="904" width="894.7" height="31.4" fill="#e1e1e1"/>
<rect x="2714.3" y="461.00" width="894.7" height="2.2" fill="#222"/>
<text x="3107.0" y="494.3" font-family="Liberation Serif" font-size="26.5" font-weight="bold" font-style="normal" fill="#111" text-anchor="start" textLength="70.9" lengthAdjust="spacing" >XSum</text>
<text x="3398.2" y="494.3" font-family="Liberation Serif" font-size="26.5" font-weight="bold" font-style="normal" fill="#111" text-anchor="start" textLength="133.9" lengthAdjust="spacing" >Multi-News</text>
<rect x="3000" y="507.95" width="286.8" height="1.3" fill="#222"/>
<rect x="3322.5" y="507.95" width="286.5" height="1.3" fill="#222"/>
<text x="2732.0" y="516.8" font-family="Liberation Serif" font-size="26.5" font-weight="bold" font-style="normal" fill="#111" text-anchor="start" >Model</text>
<text x="3047" y="540.7" font-family="Liberation Serif" font-size="26.5" font-weight="bold" text-anchor="middle" fill="#111">R-1</text>
<text x="3143.5" y="540.7" font-family="Liberation Serif" font-size="26.5" font-weight="bold" text-anchor="middle" fill="#111">R-2</text>
<text x="3238.4" y="540.7" font-family="Liberation Serif" font-size="26.5" font-weight="bold" text-anchor="middle" fill="#111">R-L</text>
<text x="3369.3" y="540.7" font-family="Liberation Serif" font-size="26.5" font-weight="bold" text-anchor="middle" fill="#111">R-1</text>
<text x="3466" y="540.7" font-family="Liberation Serif" font-size="26.5" font-weight="bold" text-anchor="middle" fill="#111">R-2</text>
<text x="3560.4" y="540.7" font-family="Liberation Serif" font-size="26.5" font-weight="bold" text-anchor="middle" fill="#111">R-L</text>
<rect x="2714.3" y="554.30" width="894.7" height="1.4" fill="#222"/>
<text x="2732" y="585.7" font-family="Liberation Serif" font-size="26.5" fill="#111">T5-small</text>
<text x="3047" y="585.7" font-family="Liberation Serif" font-size="26.5" font-weight="normal" text-anchor="middle" fill="#111">36.10</text>
<text x="3143.5" y="585.7" font-family="Liberation Serif" font-size="26.5" font-weight="normal" text-anchor="middle" fill="#111">14.72</text>
<text x="3238.4" y="585.7" font-family="Liberation Serif" font-size="26.5" font-weight="normal" text-anchor="middle" fill="#111">29.16</text>
<text x="3369.3" y="585.7" font-family="Liberation Serif" font-size="26.5" font-weight="normal" text-anchor="middle" fill="#111">42.36</text>
<text x="3466" y="585.7" font-family="Liberation Serif" font-size="26.5" font-weight="normal" text-anchor="middle" fill="#111">15.34</text>
<text x="3560.4" y="585.7" font-family="Liberation Serif" font-size="26.5" font-weight="normal" text-anchor="middle" fill="#111">21.91</text>
<text x="2732" y="618.6" font-family="Liberation Serif" font-size="26.5" fill="#111">T5-SSMBA CL</text>
<text x="3047" y="618.6" font-family="Liberation Serif" font-size="26.5" font-weight="normal" text-anchor="middle" fill="#111">36.58</text>
<text x="3143.5" y="618.6" font-family="Liberation Serif" font-size="26.5" font-weight="normal" text-anchor="middle" fill="#111">14.81</text>
<text x="3238.4" y="618.6" font-family="Liberation Serif" font-size="26.5" font-weight="normal" text-anchor="middle" fill="#111">29.68</text>
<text x="3369.3" y="618.6" font-family="Liberation Serif" font-size="26.5" font-weight="normal" text-anchor="middle" fill="#111">42.06</text>
<text x="3466" y="618.6" font-family="Liberation Serif" font-size="26.5" font-weight="normal" text-anchor="middle" fill="#111">14.98</text>
<text x="3560.4" y="618.6" font-family="Liberation Serif" font-size="26.5" font-weight="normal" text-anchor="middle" fill="#111">21.73</text>
<text x="2732" y="650.7" font-family="Liberation Serif" font-size="26.5" fill="#111">T5-Dropout CL</text>
<text x="3047" y="650.7" font-family="Liberation Serif" font-size="26.5" font-weight="normal" text-anchor="middle" fill="#111">36.82</text>
<text x="3143.5" y="650.7" font-family="Liberation Serif" font-size="26.5" font-weight="normal" text-anchor="middle" fill="#111">14.93</text>
<text x="3238.4" y="650.7" font-family="Liberation Serif" font-size="26.5" font-weight="normal" text-anchor="middle" fill="#111">29.26</text>
<text x="3369.3" y="650.7" font-family="Liberation Serif" font-size="26.5" font-weight="normal" text-anchor="middle" fill="#111">42.43</text>
<text x="3466" y="650.7" font-family="Liberation Serif" font-size="26.5" font-weight="normal" text-anchor="middle" fill="#111">15.32</text>
<text x="3560.4" y="650.7" font-family="Liberation Serif" font-size="26.5" font-weight="normal" text-anchor="middle" fill="#111">21.95</text>
<text x="2732" y="683.6" font-family="Liberation Serif" font-size="26.5" fill="#111">T5-CLAPS<tspan font-size="0.7em" dy="-9">†</tspan></text>
<text x="3047" y="683.6" font-family="Liberation Serif" font-size="26.5" font-weight="normal" text-anchor="middle" fill="#111">37.89</text>
<text x="3143.5" y="683.6" font-family="Liberation Serif" font-size="26.5" font-weight="normal" text-anchor="middle" fill="#111">15.78</text>
<text x="3238.4" y="683.6" font-family="Liberation Serif" font-size="26.5" font-weight="normal" text-anchor="middle" fill="#111">30.59</text>
<text x="3369.3" y="683.6" font-family="Liberation Serif" font-size="26.5" font-weight="normal" text-anchor="middle" fill="#111">–</text>
<text x="3466" y="683.6" font-family="Liberation Serif" font-size="26.5" font-weight="normal" text-anchor="middle" fill="#111">–</text>
<text x="3560.4" y="683.6" font-family="Liberation Serif" font-size="26.5" font-weight="normal" text-anchor="middle" fill="#111">–</text>
<text x="2732" y="717.5" font-family="Liberation Serif" font-size="26.5" fill="#111">T5-Naive CL</text>
<text x="3047" y="717.5" font-family="Liberation Serif" font-size="26.5" font-weight="normal" text-anchor="middle" fill="#111">36.34</text>
<text x="3143.5" y="717.5" font-family="Liberation Serif" font-size="26.5" font-weight="normal" text-anchor="middle" fill="#111">14.81</text>
<text x="3238.4" y="717.5" font-family="Liberation Serif" font-size="26.5" font-weight="normal" text-anchor="middle" fill="#111">29.41</text>
<text x="3369.3" y="717.5" font-family="Liberation Serif" font-size="26.5" font-weight="normal" text-anchor="middle" fill="#111">42.20</text>
<text x="3466" y="717.5" font-family="Liberation Serif" font-size="26.5" font-weight="normal" text-anchor="middle" fill="#111">15.18</text>
<text x="3560.4" y="717.5" font-family="Liberation Serif" font-size="26.5" font-weight="normal" text-anchor="middle" fill="#111">21.78</text>
<text x="2732" y="749.6" font-family="Liberation Serif" font-size="26.5" fill="#111">T5-Naive CL (N-Pairs)</text>
<text x="3047" y="749.6" font-family="Liberation Serif" font-size="26.5" font-weight="normal" text-anchor="middle" fill="#111">37.76</text>
<text x="3143.5" y="749.6" font-family="Liberation Serif" font-size="26.5" font-weight="normal" text-anchor="middle" fill="#111">15.48</text>
<text x="3238.4" y="749.6" font-family="Liberation Serif" font-size="26.5" font-weight="normal" text-anchor="middle" fill="#111">30.15</text>
<text x="3369.3" y="749.6" font-family="Liberation Serif" font-size="26.5" font-weight="normal" text-anchor="middle" fill="#111">43.04</text>
<text x="3466" y="749.6" font-family="Liberation Serif" font-size="26.5" font-weight="normal" text-anchor="middle" fill="#111">15.83</text>
<text x="3560.4" y="749.6" font-family="Liberation Serif" font-size="26.5" font-weight="normal" text-anchor="middle" fill="#111">22.03</text>
<text x="2732" y="781.8" font-family="Liberation Serif" font-size="26.5" fill="#111">T5-C<tspan font-size="0.8em">O</tspan>NT</text>
<text x="3047" y="781.8" font-family="Liberation Serif" font-size="26.5" font-weight="normal" text-anchor="middle" fill="#111">39.66</text>
<rect x="3017.3" y="785.3" width="59.4" height="1.6" fill="#111"/>
<text x="3143.5" y="781.8" font-family="Liberation Serif" font-size="26.5" font-weight="normal" text-anchor="middle" fill="#111">16.96</text>
<rect x="3113.8" y="785.3" width="59.4" height="1.6" fill="#111"/>
<text x="3238.4" y="781.8" font-family="Liberation Serif" font-size="26.5" font-weight="normal" text-anchor="middle" fill="#111">31.86</text>
<rect x="3208.7" y="785.3" width="59.4" height="1.6" fill="#111"/>
<text x="3369.3" y="781.8" font-family="Liberation Serif" font-size="26.5" font-weight="normal" text-anchor="middle" fill="#111">44.08</text>
<rect x="3339.6" y="785.3" width="59.4" height="1.6" fill="#111"/>
<text x="3466" y="781.8" font-family="Liberation Serif" font-size="26.5" font-weight="normal" text-anchor="middle" fill="#111">16.39</text>
<rect x="3436.3" y="785.3" width="59.4" height="1.6" fill="#111"/>
<text x="3560.4" y="781.8" font-family="Liberation Serif" font-size="26.5" font-weight="normal" text-anchor="middle" fill="#111">22.58</text>
<rect x="3530.7" y="785.3" width="59.4" height="1.6" fill="#111"/>
<text x="2732" y="829.3" font-family="Liberation Serif" font-size="26.5" fill="#111">Previous SOTA<tspan font-size="0.7em" dy="-9">*</tspan></text>
<text x="3047" y="829.3" font-family="Liberation Serif" font-size="26.5" font-weight="normal" text-anchor="middle" fill="#111">47.61</text>
<text x="3143.5" y="829.3" font-family="Liberation Serif" font-size="26.5" font-weight="normal" text-anchor="middle" fill="#111">24.57</text>
<text x="3238.4" y="829.3" font-family="Liberation Serif" font-size="26.5" font-weight="normal" text-anchor="middle" fill="#111">39.44</text>
<text x="3369.3" y="829.3" font-family="Liberation Serif" font-size="26.5" font-weight="normal" text-anchor="middle" fill="#111">47.52</text>
<text x="3466" y="829.3" font-family="Liberation Serif" font-size="26.5" font-weight="normal" text-anchor="middle" fill="#111">18.72</text>
<text x="3560.4" y="829.3" font-family="Liberation Serif" font-size="26.5" font-weight="normal" text-anchor="middle" fill="#111">24.91</text>
<text x="2732" y="861.4" font-family="Liberation Serif" font-size="26.5" fill="#111">PEGASUS (base)<tspan font-size="0.7em" dy="-9">*</tspan></text>
<text x="3047" y="861.4" font-family="Liberation Serif" font-size="26.5" font-weight="normal" text-anchor="middle" fill="#111">39.79</text>
<text x="3143.5" y="861.4" font-family="Liberation Serif" font-size="26.5" font-weight="normal" text-anchor="middle" fill="#111">16.58</text>
<text x="3238.4" y="861.4" font-family="Liberation Serif" font-size="26.5" font-weight="normal" text-anchor="middle" fill="#111">31.70</text>
<text x="3369.3" y="861.4" font-family="Liberation Serif" font-size="26.5" font-weight="normal" text-anchor="middle" fill="#111">42.24</text>
<text x="3466" y="861.4" font-family="Liberation Serif" font-size="26.5" font-weight="normal" text-anchor="middle" fill="#111">13.27</text>
<text x="3560.4" y="861.4" font-family="Liberation Serif" font-size="26.5" font-weight="normal" text-anchor="middle" fill="#111">21.44</text>
<text x="2732" y="893.6" font-family="Liberation Serif" font-size="26.5" fill="#111"><tspan font-weight="bold">PEGASUS (large)</tspan><tspan font-size="0.7em" dy="-9">*</tspan></text>
<text x="3047" y="893.6" font-family="Liberation Serif" font-size="26.5" font-weight="normal" text-anchor="middle" fill="#111">47.21</text>
<text x="3143.5" y="893.6" font-family="Liberation Serif" font-size="26.5" font-weight="normal" text-anchor="middle" fill="#111">24.56</text>
<text x="3238.4" y="893.6" font-family="Liberation Serif" font-size="26.5" font-weight="normal" text-anchor="middle" fill="#111">39.25</text>
<text x="3369.3" y="893.6" font-family="Liberation Serif" font-size="26.5" font-weight="normal" text-anchor="middle" fill="#111">47.52</text>
<text x="3466" y="893.6" font-family="Liberation Serif" font-size="26.5" font-weight="normal" text-anchor="middle" fill="#111">18.72</text>
<text x="3560.4" y="893.6" font-family="Liberation Serif" font-size="26.5" font-weight="bold" text-anchor="middle" fill="#111">24.91</text>
<text x="2732" y="925.7" font-family="Liberation Serif" font-size="26.5" fill="#111">PEGA-C<tspan font-size="0.8em">O</tspan>NT</text>
<text x="3047" y="925.7" font-family="Liberation Serif" font-size="26.5" font-weight="bold" text-anchor="middle" fill="#111">47.76</text>
<text x="3143.5" y="925.7" font-family="Liberation Serif" font-size="26.5" font-weight="bold" text-anchor="middle" fill="#111">24.69</text>
<text x="3238.4" y="925.7" font-family="Liberation Serif" font-size="26.5" font-weight="bold" text-anchor="middle" fill="#111">39.46</text>
<text x="3369.3" y="925.7" font-family="Liberation Serif" font-size="26.5" font-weight="bold" text-anchor="middle" fill="#111">48.68</text>
<text x="3466" y="925.7" font-family="Liberation Serif" font-size="26.5" font-weight="bold" text-anchor="middle" fill="#111">19.29</text>
<text x="3560.4" y="925.7" font-family="Liberation Serif" font-size="26.5" font-weight="normal" text-anchor="middle" fill="#111">24.58</text>
<rect x="2714.3" y="796.30" width="894.7" height="1.6" fill="#222"/>
<rect x="2714.3" y="942.50" width="894.7" height="2.2" fill="#222"/>
</svg>
<svg width="3716" height="2088" style="left:0;top:0">
<g fill="#e0703a" stroke="#e0703a" stroke-width="1"><circle cx="2375.7" cy="1269.4" r="4.5" fill-opacity="0.31" stroke-opacity="0.42"/><circle cx="2342.7" cy="1306.4" r="4.5" fill-opacity="0.39" stroke-opacity="0.52"/><circle cx="2332.7" cy="1340.3" r="4.5" fill-opacity="0.30" stroke-opacity="0.41"/><circle cx="2355.9" cy="1335.2" r="4.5" fill-opacity="0.38" stroke-opacity="0.51"/><circle cx="2393.2" cy="1342.5" r="4.5" fill-opacity="0.24" stroke-opacity="0.32"/><circle cx="2321.9" cy="1289.7" r="4.5" fill-opacity="0.26" stroke-opacity="0.35"/><circle cx="2386.3" cy="1321.5" r="4.5" fill-opacity="0.25" stroke-opacity="0.34"/><circle cx="2307.3" cy="1263.2" r="4.5" fill-opacity="0.25" stroke-opacity="0.34"/><circle cx="2328.2" cy="1323.6" r="4.5" fill-opacity="0.33" stroke-opacity="0.44"/><circle cx="2390.6" cy="1324.6" r="4.5" fill-opacity="0.24" stroke-opacity="0.32"/><circle cx="2408.4" cy="1292.0" r="4.5" fill-opacity="0.34" stroke-opacity="0.46"/><circle cx="2403.2" cy="1273.0" r="4.5" fill-opacity="0.38" stroke-opacity="0.51"/><circle cx="2392.4" cy="1306.1" r="4.5" fill-opacity="0.39" stroke-opacity="0.52"/><circle cx="2337.3" cy="1344.2" r="4.5" fill-opacity="0.23" stroke-opacity="0.31"/><circle cx="2431.5" cy="1339.6" r="4.5" fill-opacity="0.26" stroke-opacity="0.36"/><circle cx="2381.8" cy="1288.4" r="4.5" fill-opacity="0.30" stroke-opacity="0.40"/><circle cx="2421.5" cy="1283.6" r="4.5" fill-opacity="0.22" stroke-opacity="0.30"/><circle cx="2424.9" cy="1262.5" r="4.5" fill-opacity="0.34" stroke-opacity="0.46"/><circle cx="2335.3" cy="1301.7" r="4.5" fill-opacity="0.30" stroke-opacity="0.41"/><circle cx="2429.2" cy="1282.1" r="4.5" fill-opacity="0.30" stroke-opacity="0.40"/><circle cx="2315.1" cy="1292.2" r="4.5" fill-opacity="0.25" stroke-opacity="0.33"/><circle cx="2386.5" cy="1303.9" r="4.5" fill-opacity="0.23" stroke-opacity="0.31"/><circle cx="2337.6" cy="1279.6" r="4.5" fill-opacity="0.38" stroke-opacity="0.51"/><circle cx="2316.7" cy="1336.5" r="4.5" fill-opacity="0.33" stroke-opacity="0.44"/><circle cx="2377.8" cy="1341.3" r="4.5" fill-opacity="0.28" stroke-opacity="0.38"/><circle cx="2331.9" cy="1326.5" r="4.5" fill-opacity="0.38" stroke-opacity="0.51"/><circle cx="2405.6" cy="1319.4" r="4.5" fill-opacity="0.24" stroke-opacity="0.33"/><circle cx="2363.9" cy="1266.3" r="4.5" fill-opacity="0.29" stroke-opacity="0.39"/><circle cx="2339.3" cy="1278.1" r="4.5" fill-opacity="0.23" stroke-opacity="0.31"/><circle cx="2306.1" cy="1285.6" r="4.5" fill-opacity="0.36" stroke-opacity="0.49"/><circle cx="2393.5" cy="1271.8" r="4.5" fill-opacity="0.38" stroke-opacity="0.51"/><circle cx="2386.4" cy="1319.6" r="4.5" fill-opacity="0.27" stroke-opacity="0.37"/><circle cx="2408.0" cy="1263.0" r="4.5" fill-opacity="0.37" stroke-opacity="0.50"/><circle cx="2353.8" cy="1270.3" r="4.5" fill-opacity="0.39" stroke-opacity="0.53"/><circle cx="2422.1" cy="1338.2" r="4.5" fill-opacity="0.26" stroke-opacity="0.35"/><circle cx="2307.7" cy="1320.1" r="4.5" fill-opacity="0.39" stroke-opacity="0.53"/><circle cx="2422.6" cy="1326.7" r="4.5" fill-opacity="0.28" stroke-opacity="0.38"/><circle cx="2402.8" cy="1337.5" r="4.5" fill-opacity="0.35" stroke-opacity="0.47"/><circle cx="2317.8" cy="1267.5" r="4.5" fill-opacity="0.32" stroke-opacity="0.43"/><circle cx="2431.4" cy="1318.9" r="4.5" fill-opacity="0.28" stroke-opacity="0.38"/><circle cx="2316.2" cy="1273.9" r="4.5" fill-opacity="0.33" stroke-opacity="0.44"/><circle cx="2401.1" cy="1299.5" r="4.5" fill-opacity="0.22" stroke-opacity="0.30"/><circle cx="2336.0" cy="1350.0" r="4.5" fill-opacity="0.31" stroke-opacity="0.42"/><circle cx="2393.4" cy="1314.9" r="4.5" fill-opacity="0.31" stroke-opacity="0.42"/><circle cx="2412.1" cy="1282.3" r="4.5" fill-opacity="0.33" stroke-opacity="0.45"/><circle cx="2319.8" cy="1325.7" r="4.5" fill-opacity="0.36" stroke-opacity="0.48"/><circle cx="2346.3" cy="1328.1" r="4.5" fill-opacity="0.38" stroke-opacity="0.51"/><circle cx="2419.6" cy="1346.9" r="4.5" fill-opacity="0.36" stroke-opacity="0.49"/><circle cx="2365.9" cy="1311.1" r="4.5" fill-opacity="0.38" stroke-opacity="0.51"/><circle cx="2324.3" cy="1267.0" r="4.5" fill-opacity="0.29" stroke-opacity="0.39"/><circle cx="2315.8" cy="1353.9" r="4.5" fill-opacity="0.24" stroke-opacity="0.32"/><circle cx="2320.4" cy="1272.2" r="4.5" fill-opacity="0.34" stroke-opacity="0.46"/><circle cx="2318.2" cy="1299.2" r="4.5" fill-opacity="0.23" stroke-opacity="0.31"/><circle cx="2350.5" cy="1329.3" r="4.5" fill-opacity="0.39" stroke-opacity="0.53"/><circle cx="2404.4" cy="1271.1" r="4.5" fill-opacity="0.31" stroke-opacity="0.41"/><circle cx="2362.8" cy="1268.4" r="4.5" fill-opacity="0.27" stroke-opacity="0.36"/><circle cx="2317.3" cy="1264.1" r="4.5" fill-opacity="0.23" stroke-opacity="0.30"/><circle cx="2349.9" cy="1312.1" r="4.5" fill-opacity="0.37" stroke-opacity="0.50"/><circle cx="2366.7" cy="1316.7" r="4.5" fill-opacity="0.37" stroke-opacity="0.50"/><circle cx="2362.2" cy="1293.1" r="4.5" fill-opacity="0.24" stroke-opacity="0.33"/><circle cx="2387.0" cy="1272.0" r="4.5" fill-opacity="0.36" stroke-opacity="0.48"/><circle cx="2392.0" cy="1322.7" r="4.5" fill-opacity="0.24" stroke-opacity="0.32"/><circle cx="2400.7" cy="1324.4" r="4.5" fill-opacity="0.35" stroke-opacity="0.47"/><circle cx="2373.4" cy="1317.2" r="4.5" fill-opacity="0.32" stroke-opacity="0.43"/><circle cx="2308.5" cy="1353.7" r="4.5" fill-opacity="0.34" stroke-opacity="0.45"/><circle cx="2403.5" cy="1276.6" r="4.5" fill-opacity="0.24" stroke-opacity="0.33"/><circle cx="2405.2" cy="1312.6" r="4.5" fill-opacity="0.36" stroke-opacity="0.49"/><circle cx="2398.3" cy="1311.8" r="4.5" fill-opacity="0.36" stroke-opacity="0.49"/><circle cx="2360.8" cy="1296.1" r="4.5" fill-opacity="0.37" stroke-opacity="0.50"/><circle cx="2418.5" cy="1279.6" r="4.5" fill-opacity="0.29" stroke-opacity="0.39"/><circle cx="2372.7" cy="1198.6" r="4.5" fill-opacity="0.27" stroke-opacity="0.36"/><circle cx="2346.4" cy="1223.2" r="4.5" fill-opacity="0.32" stroke-opacity="0.43"/><circle cx="2380.1" cy="1198.9" r="4.5" fill-opacity="0.35" stroke-opacity="0.47"/><circle cx="2363.3" cy="1237.2" r="4.5" fill-opacity="0.36" stroke-opacity="0.48"/><circle cx="2353.9" cy="1252.1" r="4.5" fill-opacity="0.30" stroke-opacity="0.41"/><circle cx="2392.9" cy="1257.0" r="4.5" fill-opacity="0.33" stroke-opacity="0.44"/><circle cx="2377.3" cy="1244.1" r="4.5" fill-opacity="0.34" stroke-opacity="0.45"/><circle cx="2360.2" cy="1233.3" r="4.5" fill-opacity="0.33" stroke-opacity="0.44"/><circle cx="2348.9" cy="1211.7" r="4.5" fill-opacity="0.35" stroke-opacity="0.47"/><circle cx="2368.3" cy="1230.9" r="4.5" fill-opacity="0.28" stroke-opacity="0.37"/><circle cx="2073.5" cy="1274.7" r="4.5" fill-opacity="0.26" stroke-opacity="0.35"/><circle cx="2093.1" cy="1270.7" r="4.5" fill-opacity="0.27" stroke-opacity="0.37"/><circle cx="2103.7" cy="1270.7" r="4.5" fill-opacity="0.36" stroke-opacity="0.49"/><circle cx="2120.3" cy="1281.2" r="4.5" fill-opacity="0.39" stroke-opacity="0.53"/><circle cx="2111.2" cy="1259.0" r="4.5" fill-opacity="0.28" stroke-opacity="0.37"/><circle cx="2179.2" cy="1282.5" r="4.5" fill-opacity="0.34" stroke-opacity="0.46"/><circle cx="2183.8" cy="1230.2" r="4.5" fill-opacity="0.32" stroke-opacity="0.44"/><circle cx="2229.1" cy="1274.7" r="4.5" fill-opacity="0.38" stroke-opacity="0.51"/><circle cx="2206.4" cy="1303.4" r="4.5" fill-opacity="0.22" stroke-opacity="0.30"/><circle cx="2236.6" cy="1300.8" r="4.5" fill-opacity="0.33" stroke-opacity="0.45"/><circle cx="2300.1" cy="1198.9" r="4.5" fill-opacity="0.38" stroke-opacity="0.51"/><circle cx="2316.7" cy="1179.3" r="4.5" fill-opacity="0.39" stroke-opacity="0.53"/><circle cx="2319.7" cy="1153.1" r="4.5" fill-opacity="0.29" stroke-opacity="0.40"/><circle cx="2093.1" cy="1177.9" r="4.5" fill-opacity="0.31" stroke-opacity="0.41"/><circle cx="2070.5" cy="1225.0" r="4.5" fill-opacity="0.37" stroke-opacity="0.50"/><circle cx="2417.9" cy="1266.8" r="4.5" fill-opacity="0.39" stroke-opacity="0.52"/><circle cx="2437.6" cy="1312.5" r="4.5" fill-opacity="0.26" stroke-opacity="0.35"/><circle cx="2058.4" cy="1295.6" r="4.5" fill-opacity="0.38" stroke-opacity="0.51"/></g>
<g fill="#2c5fd8" stroke="#2c5fd8" stroke-width="1"><circle cx="2095.5" cy="1162.9" r="4.5" fill-opacity="0.24" stroke-opacity="0.33"/><circle cx="2145.9" cy="1184.6" r="4.5" fill-opacity="0.23" stroke-opacity="0.31"/><circle cx="2159.8" cy="1214.8" r="4.5" fill-opacity="0.23" stroke-opacity="0.30"/><circle cx="2081.9" cy="1225.3" r="4.5" fill-opacity="0.23" stroke-opacity="0.32"/><circle cx="2098.1" cy="1185.4" r="4.5" fill-opacity="0.24" stroke-opacity="0.32"/><circle cx="2204.2" cy="1164.1" r="4.5" fill-opacity="0.26" stroke-opacity="0.35"/><circle cx="2087.6" cy="1171.3" r="4.5" fill-opacity="0.27" stroke-opacity="0.37"/><circle cx="2095.7" cy="1128.9" r="4.5" fill-opacity="0.39" stroke-opacity="0.53"/><circle cx="2207.0" cy="1127.7" r="4.5" fill-opacity="0.36" stroke-opacity="0.49"/><circle cx="2162.6" cy="1124.9" r="4.5" fill-opacity="0.24" stroke-opacity="0.32"/><circle cx="2128.2" cy="1140.1" r="4.5" fill-opacity="0.25" stroke-opacity="0.34"/><circle cx="2147.5" cy="1175.9" r="4.5" fill-opacity="0.34" stroke-opacity="0.47"/><circle cx="2168.1" cy="1170.7" r="4.5" fill-opacity="0.33" stroke-opacity="0.44"/><circle cx="2115.4" cy="1184.8" r="4.5" fill-opacity="0.30" stroke-opacity="0.41"/><circle cx="2096.8" cy="1184.5" r="4.5" fill-opacity="0.30" stroke-opacity="0.40"/><circle cx="2185.2" cy="1224.3" r="4.5" fill-opacity="0.35" stroke-opacity="0.48"/><circle cx="2169.2" cy="1140.2" r="4.5" fill-opacity="0.31" stroke-opacity="0.42"/><circle cx="2147.7" cy="1201.6" r="4.5" fill-opacity="0.35" stroke-opacity="0.47"/><circle cx="2189.1" cy="1225.7" r="4.5" fill-opacity="0.22" stroke-opacity="0.30"/><circle cx="2152.7" cy="1177.1" r="4.5" fill-opacity="0.24" stroke-opacity="0.32"/><circle cx="2211.4" cy="1149.2" r="4.5" fill-opacity="0.25" stroke-opacity="0.34"/><circle cx="2105.8" cy="1180.5" r="4.5" fill-opacity="0.33" stroke-opacity="0.44"/><circle cx="2153.3" cy="1188.5" r="4.5" fill-opacity="0.32" stroke-opacity="0.44"/><circle cx="2143.8" cy="1155.8" r="4.5" fill-opacity="0.38" stroke-opacity="0.51"/><circle cx="2126.0" cy="1210.8" r="4.5" fill-opacity="0.38" stroke-opacity="0.51"/><circle cx="2158.4" cy="1227.7" r="4.5" fill-opacity="0.37" stroke-opacity="0.49"/><circle cx="2110.0" cy="1163.1" r="4.5" fill-opacity="0.28" stroke-opacity="0.38"/><circle cx="2187.1" cy="1170.0" r="4.5" fill-opacity="0.23" stroke-opacity="0.31"/><circle cx="2195.9" cy="1132.7" r="4.5" fill-opacity="0.38" stroke-opacity="0.51"/><circle cx="2095.5" cy="1182.7" r="4.5" fill-opacity="0.39" stroke-opacity="0.52"/><circle cx="2141.5" cy="1141.6" r="4.5" fill-opacity="0.22" stroke-opacity="0.30"/><circle cx="2115.7" cy="1226.9" r="4.5" fill-opacity="0.22" stroke-opacity="0.30"/><circle cx="2089.3" cy="1225.9" r="4.5" fill-opacity="0.25" stroke-opacity="0.34"/><circle cx="2199.8" cy="1162.4" r="4.5" fill-opacity="0.28" stroke-opacity="0.38"/><circle cx="2136.5" cy="1203.8" r="4.5" fill-opacity="0.35" stroke-opacity="0.47"/><circle cx="2098.1" cy="1221.4" r="4.5" fill-opacity="0.30" stroke-opacity="0.41"/><circle cx="2169.6" cy="1214.7" r="4.5" fill-opacity="0.34" stroke-opacity="0.46"/><circle cx="2105.5" cy="1187.3" r="4.5" fill-opacity="0.37" stroke-opacity="0.49"/><circle cx="2200.6" cy="1191.5" r="4.5" fill-opacity="0.25" stroke-opacity="0.34"/><circle cx="2107.5" cy="1166.3" r="4.5" fill-opacity="0.28" stroke-opacity="0.37"/><circle cx="2082.5" cy="1130.3" r="4.5" fill-opacity="0.39" stroke-opacity="0.53"/><circle cx="2105.3" cy="1188.3" r="4.5" fill-opacity="0.32" stroke-opacity="0.43"/><circle cx="2125.0" cy="1208.5" r="4.5" fill-opacity="0.31" stroke-opacity="0.42"/><circle cx="2141.8" cy="1164.7" r="4.5" fill-opacity="0.32" stroke-opacity="0.43"/><circle cx="2201.2" cy="1228.7" r="4.5" fill-opacity="0.32" stroke-opacity="0.43"/><circle cx="2172.8" cy="1186.2" r="4.5" fill-opacity="0.35" stroke-opacity="0.47"/><circle cx="2124.1" cy="1193.7" r="4.5" fill-opacity="0.38" stroke-opacity="0.51"/><circle cx="2080.3" cy="1185.9" r="4.5" fill-opacity="0.33" stroke-opacity="0.45"/><circle cx="2099.7" cy="1223.3" r="4.5" fill-opacity="0.33" stroke-opacity="0.45"/><circle cx="2213.5" cy="1167.4" r="4.5" fill-opacity="0.32" stroke-opacity="0.44"/><circle cx="2140.5" cy="1159.6" r="4.5" fill-opacity="0.26" stroke-opacity="0.36"/><circle cx="2172.0" cy="1145.7" r="4.5" fill-opacity="0.36" stroke-opacity="0.48"/><circle cx="2085.4" cy="1122.6" r="4.5" fill-opacity="0.26" stroke-opacity="0.35"/><circle cx="2082.6" cy="1189.5" r="4.5" fill-opacity="0.27" stroke-opacity="0.36"/><circle cx="2193.0" cy="1156.0" r="4.5" fill-opacity="0.28" stroke-opacity="0.38"/><circle cx="2157.9" cy="1179.8" r="4.5" fill-opacity="0.31" stroke-opacity="0.42"/><circle cx="2120.0" cy="1205.0" r="4.5" fill-opacity="0.37" stroke-opacity="0.50"/><circle cx="2121.2" cy="1130.1" r="4.5" fill-opacity="0.28" stroke-opacity="0.38"/><circle cx="2090.1" cy="1146.1" r="4.5" fill-opacity="0.33" stroke-opacity="0.44"/><circle cx="2101.5" cy="1124.2" r="4.5" fill-opacity="0.30" stroke-opacity="0.40"/><circle cx="2081.4" cy="1137.7" r="4.5" fill-opacity="0.30" stroke-opacity="0.41"/><circle cx="2192.1" cy="1127.0" r="4.5" fill-opacity="0.39" stroke-opacity="0.53"/><circle cx="2141.4" cy="1214.7" r="4.5" fill-opacity="0.34" stroke-opacity="0.45"/><circle cx="2095.3" cy="1227.2" r="4.5" fill-opacity="0.22" stroke-opacity="0.30"/><circle cx="2178.5" cy="1206.9" r="4.5" fill-opacity="0.38" stroke-opacity="0.51"/><circle cx="2104.6" cy="1183.1" r="4.5" fill-opacity="0.31" stroke-opacity="0.42"/><circle cx="2086.4" cy="1152.5" r="4.5" fill-opacity="0.39" stroke-opacity="0.53"/><circle cx="2159.4" cy="1180.2" r="4.5" fill-opacity="0.24" stroke-opacity="0.33"/><circle cx="2199.8" cy="1171.9" r="4.5" fill-opacity="0.39" stroke-opacity="0.53"/><circle cx="2081.7" cy="1144.4" r="4.5" fill-opacity="0.34" stroke-opacity="0.46"/><circle cx="2187.5" cy="1221.1" r="4.5" fill-opacity="0.33" stroke-opacity="0.45"/><circle cx="2103.9" cy="1153.6" r="4.5" fill-opacity="0.31" stroke-opacity="0.42"/><circle cx="2090.6" cy="1223.5" r="4.5" fill-opacity="0.39" stroke-opacity="0.53"/><circle cx="2080.5" cy="1201.3" r="4.5" fill-opacity="0.37" stroke-opacity="0.50"/><circle cx="2117.8" cy="1148.7" r="4.5" fill-opacity="0.31" stroke-opacity="0.42"/><circle cx="2176.9" cy="1153.0" r="4.5" fill-opacity="0.29" stroke-opacity="0.39"/><circle cx="2145.1" cy="1183.9" r="4.5" fill-opacity="0.29" stroke-opacity="0.39"/><circle cx="2194.0" cy="1196.2" r="4.5" fill-opacity="0.31" stroke-opacity="0.41"/><circle cx="2107.5" cy="1136.9" r="4.5" fill-opacity="0.25" stroke-opacity="0.34"/><circle cx="2120.9" cy="1198.4" r="4.5" fill-opacity="0.26" stroke-opacity="0.35"/><circle cx="2113.1" cy="1225.4" r="4.5" fill-opacity="0.34" stroke-opacity="0.46"/><circle cx="2211.0" cy="1201.4" r="4.5" fill-opacity="0.36" stroke-opacity="0.48"/><circle cx="2206.0" cy="1226.6" r="4.5" fill-opacity="0.38" stroke-opacity="0.52"/><circle cx="2124.3" cy="1138.9" r="4.5" fill-opacity="0.25" stroke-opacity="0.34"/><circle cx="2137.3" cy="1215.3" r="4.5" fill-opacity="0.28" stroke-opacity="0.37"/><circle cx="2120.7" cy="1120.7" r="4.5" fill-opacity="0.25" stroke-opacity="0.34"/><circle cx="2179.5" cy="1205.3" r="4.5" fill-opacity="0.33" stroke-opacity="0.45"/><circle cx="2083.4" cy="1194.9" r="4.5" fill-opacity="0.27" stroke-opacity="0.37"/><circle cx="2087.2" cy="1163.9" r="4.5" fill-opacity="0.28" stroke-opacity="0.37"/><circle cx="2132.9" cy="1194.7" r="4.5" fill-opacity="0.23" stroke-opacity="0.31"/><circle cx="2111.3" cy="1186.8" r="4.5" fill-opacity="0.36" stroke-opacity="0.48"/><circle cx="2192.9" cy="1217.3" r="4.5" fill-opacity="0.39" stroke-opacity="0.52"/><circle cx="2178.9" cy="1185.7" r="4.5" fill-opacity="0.24" stroke-opacity="0.33"/><circle cx="2152.2" cy="1226.1" r="4.5" fill-opacity="0.31" stroke-opacity="0.42"/><circle cx="2168.0" cy="1204.0" r="4.5" fill-opacity="0.36" stroke-opacity="0.49"/><circle cx="2091.2" cy="1268.7" r="4.5" fill-opacity="0.38" stroke-opacity="0.51"/><circle cx="2108.3" cy="1289.9" r="4.5" fill-opacity="0.28" stroke-opacity="0.38"/><circle cx="2066.1" cy="1267.1" r="4.5" fill-opacity="0.23" stroke-opacity="0.31"/><circle cx="2064.6" cy="1284.6" r="4.5" fill-opacity="0.36" stroke-opacity="0.48"/><circle cx="2086.9" cy="1309.5" r="4.5" fill-opacity="0.35" stroke-opacity="0.47"/><circle cx="2116.9" cy="1309.2" r="4.5" fill-opacity="0.29" stroke-opacity="0.39"/><circle cx="2130.8" cy="1316.2" r="4.5" fill-opacity="0.40" stroke-opacity="0.54"/><circle cx="2149.7" cy="1304.8" r="4.5" fill-opacity="0.35" stroke-opacity="0.47"/><circle cx="2137.1" cy="1297.9" r="4.5" fill-opacity="0.32" stroke-opacity="0.44"/><circle cx="2148.2" cy="1262.3" r="4.5" fill-opacity="0.33" stroke-opacity="0.44"/><circle cx="2120.6" cy="1267.3" r="4.5" fill-opacity="0.23" stroke-opacity="0.32"/><circle cx="2129.4" cy="1266.4" r="4.5" fill-opacity="0.39" stroke-opacity="0.53"/><circle cx="2116.1" cy="1245.2" r="4.5" fill-opacity="0.40" stroke-opacity="0.54"/><circle cx="2070.3" cy="1311.7" r="4.5" fill-opacity="0.25" stroke-opacity="0.34"/><circle cx="2068.5" cy="1284.8" r="4.5" fill-opacity="0.36" stroke-opacity="0.48"/><circle cx="2131.8" cy="1313.1" r="4.5" fill-opacity="0.32" stroke-opacity="0.44"/><circle cx="2081.2" cy="1282.1" r="4.5" fill-opacity="0.29" stroke-opacity="0.39"/><circle cx="2134.5" cy="1313.2" r="4.5" fill-opacity="0.33" stroke-opacity="0.44"/><circle cx="2105.0" cy="1314.3" r="4.5" fill-opacity="0.24" stroke-opacity="0.33"/><circle cx="2063.5" cy="1310.9" r="4.5" fill-opacity="0.28" stroke-opacity="0.38"/><circle cx="2113.8" cy="1284.7" r="4.5" fill-opacity="0.28" stroke-opacity="0.38"/><circle cx="2103.1" cy="1250.6" r="4.5" fill-opacity="0.34" stroke-opacity="0.46"/><circle cx="2069.6" cy="1294.6" r="4.5" fill-opacity="0.32" stroke-opacity="0.43"/><circle cx="2086.6" cy="1252.5" r="4.5" fill-opacity="0.22" stroke-opacity="0.30"/><circle cx="2090.7" cy="1299.0" r="4.5" fill-opacity="0.27" stroke-opacity="0.37"/><circle cx="2094.2" cy="1294.1" r="4.5" fill-opacity="0.29" stroke-opacity="0.39"/><circle cx="2127.0" cy="1277.3" r="4.5" fill-opacity="0.29" stroke-opacity="0.39"/><circle cx="2078.1" cy="1313.5" r="4.5" fill-opacity="0.36" stroke-opacity="0.49"/><circle cx="2103.1" cy="1279.3" r="4.5" fill-opacity="0.37" stroke-opacity="0.50"/><circle cx="2117.9" cy="1267.0" r="4.5" fill-opacity="0.39" stroke-opacity="0.53"/><circle cx="2148.7" cy="1245.0" r="4.5" fill-opacity="0.39" stroke-opacity="0.53"/><circle cx="2073.3" cy="1315.3" r="4.5" fill-opacity="0.31" stroke-opacity="0.42"/><circle cx="2070.1" cy="1247.2" r="4.5" fill-opacity="0.32" stroke-opacity="0.43"/><circle cx="2080.3" cy="1268.3" r="4.5" fill-opacity="0.33" stroke-opacity="0.44"/><circle cx="2082.9" cy="1267.5" r="4.5" fill-opacity="0.31" stroke-opacity="0.42"/><circle cx="2077.7" cy="1315.7" r="4.5" fill-opacity="0.23" stroke-opacity="0.31"/><circle cx="2069.8" cy="1239.9" r="4.5" fill-opacity="0.24" stroke-opacity="0.32"/><circle cx="2081.9" cy="1295.0" r="4.5" fill-opacity="0.36" stroke-opacity="0.49"/><circle cx="2083.1" cy="1270.4" r="4.5" fill-opacity="0.36" stroke-opacity="0.48"/><circle cx="2106.4" cy="1271.1" r="4.5" fill-opacity="0.28" stroke-opacity="0.37"/><circle cx="2121.6" cy="1237.1" r="4.5" fill-opacity="0.26" stroke-opacity="0.35"/><circle cx="2095.9" cy="1265.4" r="4.5" fill-opacity="0.32" stroke-opacity="0.44"/><circle cx="2078.1" cy="1229.7" r="4.5" fill-opacity="0.37" stroke-opacity="0.50"/><circle cx="2071.5" cy="1299.2" r="4.5" fill-opacity="0.23" stroke-opacity="0.31"/><circle cx="2086.7" cy="1259.8" r="4.5" fill-opacity="0.34" stroke-opacity="0.46"/><circle cx="2078.4" cy="1267.6" r="4.5" fill-opacity="0.26" stroke-opacity="0.35"/><circle cx="2106.5" cy="1273.4" r="4.5" fill-opacity="0.27" stroke-opacity="0.36"/><circle cx="2141.9" cy="1263.0" r="4.5" fill-opacity="0.30" stroke-opacity="0.40"/><circle cx="2127.8" cy="1270.0" r="4.5" fill-opacity="0.25" stroke-opacity="0.34"/><circle cx="2081.3" cy="1289.6" r="4.5" fill-opacity="0.35" stroke-opacity="0.48"/><circle cx="2066.1" cy="1261.7" r="4.5" fill-opacity="0.24" stroke-opacity="0.32"/><circle cx="2069.0" cy="1312.8" r="4.5" fill-opacity="0.31" stroke-opacity="0.42"/><circle cx="2102.4" cy="1276.6" r="4.5" fill-opacity="0.34" stroke-opacity="0.46"/><circle cx="2095.9" cy="1279.0" r="4.5" fill-opacity="0.37" stroke-opacity="0.50"/><circle cx="2124.8" cy="1300.9" r="4.5" fill-opacity="0.32" stroke-opacity="0.43"/><circle cx="2219.5" cy="1217.0" r="4.5" fill-opacity="0.24" stroke-opacity="0.33"/><circle cx="2174.1" cy="1239.0" r="4.5" fill-opacity="0.37" stroke-opacity="0.49"/><circle cx="2244.0" cy="1217.9" r="4.5" fill-opacity="0.39" stroke-opacity="0.53"/><circle cx="2169.0" cy="1190.2" r="4.5" fill-opacity="0.23" stroke-opacity="0.30"/><circle cx="2178.6" cy="1227.2" r="4.5" fill-opacity="0.38" stroke-opacity="0.52"/><circle cx="2186.0" cy="1207.8" r="4.5" fill-opacity="0.33" stroke-opacity="0.45"/><circle cx="2224.0" cy="1193.3" r="4.5" fill-opacity="0.33" stroke-opacity="0.44"/><circle cx="2251.3" cy="1223.6" r="4.5" fill-opacity="0.29" stroke-opacity="0.39"/><circle cx="2244.6" cy="1214.1" r="4.5" fill-opacity="0.25" stroke-opacity="0.34"/><circle cx="2243.1" cy="1310.1" r="4.5" fill-opacity="0.33" stroke-opacity="0.44"/><circle cx="2235.9" cy="1315.6" r="4.5" fill-opacity="0.38" stroke-opacity="0.51"/><circle cx="2219.2" cy="1199.7" r="4.5" fill-opacity="0.22" stroke-opacity="0.30"/><circle cx="2195.0" cy="1289.3" r="4.5" fill-opacity="0.32" stroke-opacity="0.43"/><circle cx="2175.3" cy="1280.5" r="4.5" fill-opacity="0.33" stroke-opacity="0.45"/><circle cx="2257.9" cy="1302.7" r="4.5" fill-opacity="0.39" stroke-opacity="0.52"/><circle cx="2203.0" cy="1237.5" r="4.5" fill-opacity="0.22" stroke-opacity="0.30"/><circle cx="2232.1" cy="1316.5" r="4.5" fill-opacity="0.29" stroke-opacity="0.39"/><circle cx="2161.8" cy="1216.0" r="4.5" fill-opacity="0.24" stroke-opacity="0.33"/><circle cx="2197.2" cy="1281.4" r="4.5" fill-opacity="0.28" stroke-opacity="0.37"/><circle cx="2165.7" cy="1223.2" r="4.5" fill-opacity="0.38" stroke-opacity="0.52"/><circle cx="2196.4" cy="1201.4" r="4.5" fill-opacity="0.25" stroke-opacity="0.34"/><circle cx="2242.2" cy="1230.2" r="4.5" fill-opacity="0.28" stroke-opacity="0.38"/><circle cx="2194.8" cy="1264.9" r="4.5" fill-opacity="0.37" stroke-opacity="0.50"/><circle cx="2236.0" cy="1238.7" r="4.5" fill-opacity="0.35" stroke-opacity="0.48"/><circle cx="2168.4" cy="1208.6" r="4.5" fill-opacity="0.39" stroke-opacity="0.52"/><circle cx="2200.1" cy="1227.4" r="4.5" fill-opacity="0.24" stroke-opacity="0.33"/><circle cx="2203.1" cy="1287.4" r="4.5" fill-opacity="0.23" stroke-opacity="0.31"/><circle cx="2215.1" cy="1319.4" r="4.5" fill-opacity="0.26" stroke-opacity="0.35"/><circle cx="2181.2" cy="1205.4" r="4.5" fill-opacity="0.31" stroke-opacity="0.42"/><circle cx="2238.0" cy="1238.9" r="4.5" fill-opacity="0.34" stroke-opacity="0.46"/><circle cx="2260.2" cy="1312.1" r="4.5" fill-opacity="0.24" stroke-opacity="0.33"/><circle cx="2251.8" cy="1248.4" r="4.5" fill-opacity="0.33" stroke-opacity="0.45"/><circle cx="2157.3" cy="1243.4" r="4.5" fill-opacity="0.26" stroke-opacity="0.35"/><circle cx="2212.5" cy="1282.1" r="4.5" fill-opacity="0.39" stroke-opacity="0.53"/><circle cx="2195.1" cy="1204.6" r="4.5" fill-opacity="0.32" stroke-opacity="0.43"/><circle cx="2222.8" cy="1289.1" r="4.5" fill-opacity="0.25" stroke-opacity="0.33"/><circle cx="2163.6" cy="1301.6" r="4.5" fill-opacity="0.37" stroke-opacity="0.50"/><circle cx="2241.7" cy="1280.0" r="4.5" fill-opacity="0.31" stroke-opacity="0.42"/><circle cx="2203.9" cy="1276.2" r="4.5" fill-opacity="0.36" stroke-opacity="0.48"/><circle cx="2267.6" cy="1204.9" r="4.5" fill-opacity="0.32" stroke-opacity="0.43"/><circle cx="2155.9" cy="1234.5" r="4.5" fill-opacity="0.38" stroke-opacity="0.51"/><circle cx="2204.0" cy="1304.5" r="4.5" fill-opacity="0.27" stroke-opacity="0.37"/><circle cx="2212.4" cy="1268.9" r="4.5" fill-opacity="0.39" stroke-opacity="0.53"/><circle cx="2254.0" cy="1307.0" r="4.5" fill-opacity="0.22" stroke-opacity="0.30"/><circle cx="2245.0" cy="1228.2" r="4.5" fill-opacity="0.29" stroke-opacity="0.39"/><circle cx="2175.5" cy="1208.7" r="4.5" fill-opacity="0.25" stroke-opacity="0.34"/><circle cx="2190.7" cy="1308.2" r="4.5" fill-opacity="0.40" stroke-opacity="0.54"/><circle cx="2242.5" cy="1255.1" r="4.5" fill-opacity="0.22" stroke-opacity="0.30"/><circle cx="2204.3" cy="1288.4" r="4.5" fill-opacity="0.27" stroke-opacity="0.37"/><circle cx="2185.3" cy="1283.1" r="4.5" fill-opacity="0.29" stroke-opacity="0.39"/><circle cx="2266.0" cy="1222.8" r="4.5" fill-opacity="0.23" stroke-opacity="0.32"/><circle cx="2255.5" cy="1192.7" r="4.5" fill-opacity="0.39" stroke-opacity="0.52"/><circle cx="2196.5" cy="1283.9" r="4.5" fill-opacity="0.36" stroke-opacity="0.48"/><circle cx="2220.0" cy="1249.5" r="4.5" fill-opacity="0.32" stroke-opacity="0.43"/><circle cx="2265.9" cy="1279.8" r="4.5" fill-opacity="0.29" stroke-opacity="0.40"/><circle cx="2179.7" cy="1312.3" r="4.5" fill-opacity="0.25" stroke-opacity="0.34"/><circle cx="2263.4" cy="1241.7" r="4.5" fill-opacity="0.25" stroke-opacity="0.34"/><circle cx="2260.4" cy="1300.1" r="4.5" fill-opacity="0.29" stroke-opacity="0.40"/><circle cx="2241.4" cy="1230.5" r="4.5" fill-opacity="0.33" stroke-opacity="0.45"/><circle cx="2236.5" cy="1222.7" r="4.5" fill-opacity="0.37" stroke-opacity="0.50"/><circle cx="2236.3" cy="1301.8" r="4.5" fill-opacity="0.26" stroke-opacity="0.36"/><circle cx="2219.3" cy="1242.5" r="4.5" fill-opacity="0.38" stroke-opacity="0.51"/><circle cx="2223.9" cy="1293.2" r="4.5" fill-opacity="0.34" stroke-opacity="0.46"/><circle cx="2177.4" cy="1220.7" r="4.5" fill-opacity="0.25" stroke-opacity="0.34"/><circle cx="2221.5" cy="1283.0" r="4.5" fill-opacity="0.23" stroke-opacity="0.30"/><circle cx="2234.9" cy="1230.3" r="4.5" fill-opacity="0.22" stroke-opacity="0.30"/><circle cx="2212.2" cy="1235.7" r="4.5" fill-opacity="0.39" stroke-opacity="0.53"/><circle cx="2235.6" cy="1245.2" r="4.5" fill-opacity="0.26" stroke-opacity="0.36"/><circle cx="2208.9" cy="1291.9" r="4.5" fill-opacity="0.23" stroke-opacity="0.31"/><circle cx="2250.7" cy="1211.4" r="4.5" fill-opacity="0.34" stroke-opacity="0.46"/><circle cx="2240.7" cy="1274.0" r="4.5" fill-opacity="0.27" stroke-opacity="0.36"/><circle cx="2164.3" cy="1219.7" r="4.5" fill-opacity="0.39" stroke-opacity="0.53"/><circle cx="2246.5" cy="1258.3" r="4.5" fill-opacity="0.34" stroke-opacity="0.46"/><circle cx="2188.0" cy="1261.8" r="4.5" fill-opacity="0.38" stroke-opacity="0.51"/><circle cx="2163.4" cy="1227.3" r="4.5" fill-opacity="0.34" stroke-opacity="0.46"/><circle cx="2168.2" cy="1275.8" r="4.5" fill-opacity="0.35" stroke-opacity="0.47"/><circle cx="2192.7" cy="1220.6" r="4.5" fill-opacity="0.30" stroke-opacity="0.41"/><circle cx="2217.0" cy="1262.2" r="4.5" fill-opacity="0.30" stroke-opacity="0.40"/><circle cx="2193.5" cy="1223.6" r="4.5" fill-opacity="0.36" stroke-opacity="0.49"/><circle cx="2178.1" cy="1229.2" r="4.5" fill-opacity="0.25" stroke-opacity="0.34"/><circle cx="2246.5" cy="1196.9" r="4.5" fill-opacity="0.23" stroke-opacity="0.31"/><circle cx="2198.7" cy="1267.0" r="4.5" fill-opacity="0.38" stroke-opacity="0.52"/><circle cx="2259.2" cy="1274.8" r="4.5" fill-opacity="0.29" stroke-opacity="0.39"/><circle cx="2183.1" cy="1190.4" r="4.5" fill-opacity="0.32" stroke-opacity="0.43"/><circle cx="2236.9" cy="1252.9" r="4.5" fill-opacity="0.29" stroke-opacity="0.39"/><circle cx="2352.5" cy="1225.4" r="4.5" fill-opacity="0.35" stroke-opacity="0.48"/><circle cx="2310.1" cy="1178.1" r="4.5" fill-opacity="0.36" stroke-opacity="0.49"/><circle cx="2302.1" cy="1177.3" r="4.5" fill-opacity="0.25" stroke-opacity="0.34"/><circle cx="2332.9" cy="1185.7" r="4.5" fill-opacity="0.36" stroke-opacity="0.48"/><circle cx="2327.1" cy="1210.7" r="4.5" fill-opacity="0.28" stroke-opacity="0.37"/><circle cx="2328.4" cy="1237.2" r="4.5" fill-opacity="0.32" stroke-opacity="0.44"/><circle cx="2288.6" cy="1189.6" r="4.5" fill-opacity="0.31" stroke-opacity="0.41"/><circle cx="2342.7" cy="1248.9" r="4.5" fill-opacity="0.37" stroke-opacity="0.50"/><circle cx="2383.4" cy="1147.3" r="4.5" fill-opacity="0.30" stroke-opacity="0.40"/><circle cx="2275.5" cy="1213.6" r="4.5" fill-opacity="0.37" stroke-opacity="0.50"/><circle cx="2284.2" cy="1221.8" r="4.5" fill-opacity="0.39" stroke-opacity="0.53"/><circle cx="2345.2" cy="1202.0" r="4.5" fill-opacity="0.32" stroke-opacity="0.44"/><circle cx="2312.9" cy="1242.8" r="4.5" fill-opacity="0.37" stroke-opacity="0.50"/><circle cx="2304.9" cy="1151.1" r="4.5" fill-opacity="0.38" stroke-opacity="0.51"/><circle cx="2393.8" cy="1139.8" r="4.5" fill-opacity="0.26" stroke-opacity="0.35"/><circle cx="2311.7" cy="1158.2" r="4.5" fill-opacity="0.30" stroke-opacity="0.41"/><circle cx="2385.7" cy="1187.6" r="4.5" fill-opacity="0.38" stroke-opacity="0.52"/><circle cx="2349.0" cy="1144.4" r="4.5" fill-opacity="0.36" stroke-opacity="0.48"/><circle cx="2278.1" cy="1216.2" r="4.5" fill-opacity="0.37" stroke-opacity="0.50"/><circle cx="2306.5" cy="1200.3" r="4.5" fill-opacity="0.33" stroke-opacity="0.44"/><circle cx="2283.6" cy="1234.9" r="4.5" fill-opacity="0.29" stroke-opacity="0.39"/><circle cx="2339.4" cy="1205.1" r="4.5" fill-opacity="0.36" stroke-opacity="0.49"/><circle cx="2384.2" cy="1146.0" r="4.5" fill-opacity="0.28" stroke-opacity="0.38"/><circle cx="2280.8" cy="1177.0" r="4.5" fill-opacity="0.32" stroke-opacity="0.44"/><circle cx="2277.8" cy="1190.9" r="4.5" fill-opacity="0.26" stroke-opacity="0.35"/><circle cx="2278.0" cy="1192.0" r="4.5" fill-opacity="0.29" stroke-opacity="0.39"/><circle cx="2307.4" cy="1180.4" r="4.5" fill-opacity="0.30" stroke-opacity="0.41"/><circle cx="2294.5" cy="1183.3" r="4.5" fill-opacity="0.24" stroke-opacity="0.32"/><circle cx="2391.4" cy="1201.8" r="4.5" fill-opacity="0.24" stroke-opacity="0.32"/><circle cx="2368.1" cy="1195.0" r="4.5" fill-opacity="0.38" stroke-opacity="0.51"/><circle cx="2387.9" cy="1243.1" r="4.5" fill-opacity="0.40" stroke-opacity="0.54"/><circle cx="2344.5" cy="1202.9" r="4.5" fill-opacity="0.25" stroke-opacity="0.34"/><circle cx="2373.6" cy="1175.7" r="4.5" fill-opacity="0.29" stroke-opacity="0.39"/><circle cx="2360.1" cy="1228.8" r="4.5" fill-opacity="0.34" stroke-opacity="0.46"/><circle cx="2309.7" cy="1222.5" r="4.5" fill-opacity="0.25" stroke-opacity="0.33"/><circle cx="2353.3" cy="1160.4" r="4.5" fill-opacity="0.23" stroke-opacity="0.31"/><circle cx="2309.4" cy="1239.1" r="4.5" fill-opacity="0.38" stroke-opacity="0.52"/><circle cx="2330.5" cy="1232.1" r="4.5" fill-opacity="0.27" stroke-opacity="0.37"/><circle cx="2373.8" cy="1158.8" r="4.5" fill-opacity="0.39" stroke-opacity="0.53"/><circle cx="2301.1" cy="1240.8" r="4.5" fill-opacity="0.31" stroke-opacity="0.42"/><circle cx="2295.6" cy="1219.7" r="4.5" fill-opacity="0.33" stroke-opacity="0.44"/><circle cx="2377.3" cy="1148.0" r="4.5" fill-opacity="0.32" stroke-opacity="0.43"/><circle cx="2330.4" cy="1206.5" r="4.5" fill-opacity="0.31" stroke-opacity="0.42"/><circle cx="2295.4" cy="1158.9" r="4.5" fill-opacity="0.27" stroke-opacity="0.36"/><circle cx="2312.8" cy="1165.1" r="4.5" fill-opacity="0.33" stroke-opacity="0.45"/><circle cx="2293.8" cy="1351.8" r="4.5" fill-opacity="0.30" stroke-opacity="0.40"/><circle cx="2278.0" cy="1310.4" r="4.5" fill-opacity="0.37" stroke-opacity="0.50"/><circle cx="2330.5" cy="1301.2" r="4.5" fill-opacity="0.27" stroke-opacity="0.37"/><circle cx="2298.6" cy="1299.3" r="4.5" fill-opacity="0.25" stroke-opacity="0.34"/><circle cx="2305.2" cy="1266.0" r="4.5" fill-opacity="0.37" stroke-opacity="0.51"/><circle cx="2299.6" cy="1346.4" r="4.5" fill-opacity="0.32" stroke-opacity="0.43"/><circle cx="2279.4" cy="1269.3" r="4.5" fill-opacity="0.26" stroke-opacity="0.35"/><circle cx="2338.2" cy="1301.9" r="4.5" fill-opacity="0.36" stroke-opacity="0.49"/><circle cx="2284.6" cy="1281.3" r="4.5" fill-opacity="0.27" stroke-opacity="0.37"/><circle cx="2296.0" cy="1312.5" r="4.5" fill-opacity="0.35" stroke-opacity="0.47"/><circle cx="2328.9" cy="1324.0" r="4.5" fill-opacity="0.34" stroke-opacity="0.46"/><circle cx="2300.7" cy="1320.2" r="4.5" fill-opacity="0.27" stroke-opacity="0.37"/><circle cx="2312.7" cy="1326.2" r="4.5" fill-opacity="0.34" stroke-opacity="0.45"/><circle cx="2299.4" cy="1308.6" r="4.5" fill-opacity="0.31" stroke-opacity="0.42"/><circle cx="2316.7" cy="1294.5" r="4.5" fill-opacity="0.23" stroke-opacity="0.30"/><circle cx="2298.4" cy="1271.6" r="4.5" fill-opacity="0.40" stroke-opacity="0.53"/><circle cx="2308.9" cy="1336.0" r="4.5" fill-opacity="0.27" stroke-opacity="0.36"/><circle cx="2275.1" cy="1308.9" r="4.5" fill-opacity="0.29" stroke-opacity="0.39"/><circle cx="2275.6" cy="1300.9" r="4.5" fill-opacity="0.38" stroke-opacity="0.51"/><circle cx="2312.7" cy="1272.9" r="4.5" fill-opacity="0.34" stroke-opacity="0.46"/><circle cx="2336.1" cy="1283.5" r="4.5" fill-opacity="0.25" stroke-opacity="0.34"/><circle cx="2349.8" cy="1292.0" r="4.5" fill-opacity="0.34" stroke-opacity="0.45"/><circle cx="2335.1" cy="1287.0" r="4.5" fill-opacity="0.22" stroke-opacity="0.30"/><circle cx="2314.0" cy="1309.1" r="4.5" fill-opacity="0.35" stroke-opacity="0.48"/><circle cx="2323.1" cy="1274.0" r="4.5" fill-opacity="0.33" stroke-opacity="0.44"/><circle cx="2325.1" cy="1271.0" r="4.5" fill-opacity="0.34" stroke-opacity="0.46"/><circle cx="2329.5" cy="1297.6" r="4.5" fill-opacity="0.32" stroke-opacity="0.43"/><circle cx="2349.3" cy="1341.6" r="4.5" fill-opacity="0.28" stroke-opacity="0.38"/><circle cx="2093.8" cy="1398.2" r="4.5" fill-opacity="0.34" stroke-opacity="0.46"/><circle cx="2090.2" cy="1391.3" r="4.5" fill-opacity="0.30" stroke-opacity="0.41"/><circle cx="2098.7" cy="1381.8" r="4.5" fill-opacity="0.35" stroke-opacity="0.48"/><circle cx="2111.6" cy="1383.6" r="4.5" fill-opacity="0.23" stroke-opacity="0.31"/><circle cx="2090.4" cy="1371.2" r="4.5" fill-opacity="0.27" stroke-opacity="0.36"/><circle cx="2102.6" cy="1384.9" r="4.5" fill-opacity="0.25" stroke-opacity="0.33"/><circle cx="2097.9" cy="1390.6" r="4.5" fill-opacity="0.31" stroke-opacity="0.42"/><circle cx="2105.3" cy="1381.5" r="4.5" fill-opacity="0.33" stroke-opacity="0.45"/><circle cx="2113.3" cy="1377.7" r="4.5" fill-opacity="0.26" stroke-opacity="0.35"/><circle cx="2107.3" cy="1376.9" r="4.5" fill-opacity="0.39" stroke-opacity="0.53"/><circle cx="2097.7" cy="1385.8" r="4.5" fill-opacity="0.29" stroke-opacity="0.39"/><circle cx="2099.7" cy="1390.0" r="4.5" fill-opacity="0.22" stroke-opacity="0.30"/><circle cx="2098.9" cy="1385.2" r="4.5" fill-opacity="0.35" stroke-opacity="0.47"/><circle cx="2105.7" cy="1383.5" r="4.5" fill-opacity="0.24" stroke-opacity="0.32"/><circle cx="2084.3" cy="1383.3" r="4.5" fill-opacity="0.22" stroke-opacity="0.30"/><circle cx="2111.9" cy="1393.0" r="4.5" fill-opacity="0.27" stroke-opacity="0.37"/><circle cx="2093.9" cy="1383.3" r="4.5" fill-opacity="0.30" stroke-opacity="0.41"/><circle cx="2089.2" cy="1386.3" r="4.5" fill-opacity="0.26" stroke-opacity="0.36"/><circle cx="2100.7" cy="1390.3" r="4.5" fill-opacity="0.28" stroke-opacity="0.38"/><circle cx="2102.7" cy="1381.2" r="4.5" fill-opacity="0.24" stroke-opacity="0.33"/><circle cx="2089.7" cy="1383.2" r="4.5" fill-opacity="0.28" stroke-opacity="0.38"/><circle cx="2109.2" cy="1384.3" r="4.5" fill-opacity="0.36" stroke-opacity="0.49"/><circle cx="2103.9" cy="1380.0" r="4.5" fill-opacity="0.28" stroke-opacity="0.37"/><circle cx="2098.3" cy="1378.2" r="4.5" fill-opacity="0.32" stroke-opacity="0.44"/><circle cx="2103.5" cy="1388.5" r="4.5" fill-opacity="0.26" stroke-opacity="0.35"/><circle cx="2104.7" cy="1378.8" r="4.5" fill-opacity="0.24" stroke-opacity="0.33"/><circle cx="2107.0" cy="1386.7" r="4.5" fill-opacity="0.28" stroke-opacity="0.37"/><circle cx="2104.2" cy="1376.1" r="4.5" fill-opacity="0.23" stroke-opacity="0.31"/><circle cx="2102.3" cy="1377.1" r="4.5" fill-opacity="0.31" stroke-opacity="0.41"/><circle cx="2111.2" cy="1383.5" r="4.5" fill-opacity="0.35" stroke-opacity="0.47"/><circle cx="2115.8" cy="1375.3" r="4.5" fill-opacity="0.30" stroke-opacity="0.40"/><circle cx="2123.3" cy="1366.1" r="4.5" fill-opacity="0.26" stroke-opacity="0.35"/><circle cx="2138.4" cy="1372.7" r="4.5" fill-opacity="0.28" stroke-opacity="0.38"/><circle cx="2141.5" cy="1370.0" r="4.5" fill-opacity="0.37" stroke-opacity="0.50"/><circle cx="2153.5" cy="1368.7" r="4.5" fill-opacity="0.26" stroke-opacity="0.36"/><circle cx="2165.6" cy="1358.3" r="4.5" fill-opacity="0.28" stroke-opacity="0.38"/><circle cx="2235.1" cy="1430.2" r="4.5" fill-opacity="0.34" stroke-opacity="0.46"/><circle cx="2135.4" cy="1334.8" r="4.5" fill-opacity="0.26" stroke-opacity="0.36"/><circle cx="2136.9" cy="1326.9" r="4.5" fill-opacity="0.39" stroke-opacity="0.52"/><circle cx="2215.5" cy="1326.9" r="4.5" fill-opacity="0.25" stroke-opacity="0.34"/></g>
<g fill="#e0703a" stroke="#e0703a" stroke-width="1"><circle cx="2379.8" cy="1314.1" r="4.5" fill-opacity="0.85" stroke-opacity="1.00"/><circle cx="2331.1" cy="1297.6" r="4.5" fill-opacity="0.91" stroke-opacity="1.00"/><circle cx="2401.9" cy="1296.3" r="4.5" fill-opacity="0.93" stroke-opacity="1.00"/><circle cx="2373.9" cy="1337.1" r="4.5" fill-opacity="0.94" stroke-opacity="1.00"/><circle cx="2372.1" cy="1316.9" r="4.5" fill-opacity="0.90" stroke-opacity="1.00"/><circle cx="2412.6" cy="1328.3" r="4.5" fill-opacity="0.97" stroke-opacity="1.00"/><circle cx="2368.0" cy="1312.0" r="4.5" fill-opacity="0.98" stroke-opacity="1.00"/><circle cx="2341.5" cy="1288.3" r="4.5" fill-opacity="0.92" stroke-opacity="1.00"/><circle cx="2352.5" cy="1340.7" r="4.5" fill-opacity="0.97" stroke-opacity="1.00"/><circle cx="2367.6" cy="1306.1" r="4.5" fill-opacity="0.97" stroke-opacity="1.00"/><circle cx="2403.4" cy="1310.2" r="4.5" fill-opacity="0.88" stroke-opacity="1.00"/><circle cx="2400.1" cy="1320.4" r="4.5" fill-opacity="0.87" stroke-opacity="1.00"/><circle cx="2349.7" cy="1281.6" r="4.5" fill-opacity="0.87" stroke-opacity="1.00"/><circle cx="2360.0" cy="1323.3" r="4.5" fill-opacity="0.86" stroke-opacity="1.00"/><circle cx="2310.3" cy="1285.1" r="4.5" fill-opacity="0.97" stroke-opacity="1.00"/><circle cx="2377.0" cy="1347.1" r="4.5" fill-opacity="0.91" stroke-opacity="1.00"/><circle cx="2395.6" cy="1315.7" r="4.5" fill-opacity="0.87" stroke-opacity="1.00"/><circle cx="2327.0" cy="1343.8" r="4.5" fill-opacity="0.93" stroke-opacity="1.00"/><circle cx="2376.7" cy="1281.1" r="4.5" fill-opacity="0.89" stroke-opacity="1.00"/><circle cx="2320.5" cy="1296.6" r="4.5" fill-opacity="0.86" stroke-opacity="1.00"/><circle cx="2399.7" cy="1335.0" r="4.5" fill-opacity="0.91" stroke-opacity="1.00"/><circle cx="2387.4" cy="1321.4" r="4.5" fill-opacity="0.97" stroke-opacity="1.00"/><circle cx="2410.5" cy="1342.3" r="4.5" fill-opacity="0.96" stroke-opacity="1.00"/><circle cx="2336.8" cy="1277.9" r="4.5" fill-opacity="1.00" stroke-opacity="1.00"/><circle cx="2323.9" cy="1277.2" r="4.5" fill-opacity="0.92" stroke-opacity="1.00"/><circle cx="2369.3" cy="1277.3" r="4.5" fill-opacity="0.99" stroke-opacity="1.00"/><circle cx="2311.2" cy="1301.6" r="4.5" fill-opacity="0.91" stroke-opacity="1.00"/><circle cx="2397.6" cy="1330.6" r="4.5" fill-opacity="0.92" stroke-opacity="1.00"/><circle cx="2327.8" cy="1314.3" r="4.5" fill-opacity="0.96" stroke-opacity="1.00"/><circle cx="2319.7" cy="1296.6" r="4.5" fill-opacity="0.92" stroke-opacity="1.00"/><circle cx="2321.4" cy="1316.9" r="4.5" fill-opacity="0.88" stroke-opacity="1.00"/><circle cx="2384.3" cy="1348.1" r="4.5" fill-opacity="0.96" stroke-opacity="1.00"/><circle cx="2310.2" cy="1308.5" r="4.5" fill-opacity="0.99" stroke-opacity="1.00"/><circle cx="2352.4" cy="1345.6" r="4.5" fill-opacity="0.90" stroke-opacity="1.00"/><circle cx="2325.2" cy="1333.1" r="4.5" fill-opacity="0.91" stroke-opacity="1.00"/><circle cx="2393.1" cy="1283.7" r="4.5" fill-opacity="0.90" stroke-opacity="1.00"/><circle cx="2310.8" cy="1300.9" r="4.5" fill-opacity="0.95" stroke-opacity="1.00"/><circle cx="2326.9" cy="1285.4" r="4.5" fill-opacity="0.92" stroke-opacity="1.00"/><circle cx="2392.1" cy="1295.4" r="4.5" fill-opacity="0.88" stroke-opacity="1.00"/><circle cx="2363.1" cy="1297.2" r="4.5" fill-opacity="0.98" stroke-opacity="1.00"/><circle cx="2317.7" cy="1332.1" r="4.5" fill-opacity="0.85" stroke-opacity="1.00"/><circle cx="2416.8" cy="1292.9" r="4.5" fill-opacity="0.98" stroke-opacity="1.00"/><circle cx="2346.7" cy="1342.3" r="4.5" fill-opacity="0.98" stroke-opacity="1.00"/><circle cx="2352.2" cy="1351.5" r="4.5" fill-opacity="0.86" stroke-opacity="1.00"/><circle cx="2388.7" cy="1324.3" r="4.5" fill-opacity="0.85" stroke-opacity="1.00"/><circle cx="2360.4" cy="1339.7" r="4.5" fill-opacity="0.95" stroke-opacity="1.00"/><circle cx="2398.6" cy="1294.0" r="4.5" fill-opacity="0.94" stroke-opacity="1.00"/><circle cx="2365.3" cy="1328.8" r="4.5" fill-opacity="0.88" stroke-opacity="1.00"/><circle cx="2332.5" cy="1350.1" r="4.5" fill-opacity="0.91" stroke-opacity="1.00"/><circle cx="2365.3" cy="1287.2" r="4.5" fill-opacity="0.86" stroke-opacity="1.00"/><circle cx="2399.7" cy="1273.6" r="4.5" fill-opacity="0.91" stroke-opacity="1.00"/><circle cx="2336.4" cy="1292.7" r="4.5" fill-opacity="0.93" stroke-opacity="1.00"/><circle cx="2376.7" cy="1271.9" r="4.5" fill-opacity="0.98" stroke-opacity="1.00"/><circle cx="2370.3" cy="1286.5" r="4.5" fill-opacity="0.91" stroke-opacity="1.00"/><circle cx="2383.1" cy="1274.1" r="4.5" fill-opacity="0.87" stroke-opacity="1.00"/><circle cx="2345.4" cy="1295.9" r="4.5" fill-opacity="0.99" stroke-opacity="1.00"/><circle cx="2330.3" cy="1286.4" r="4.5" fill-opacity="0.95" stroke-opacity="1.00"/><circle cx="2379.9" cy="1285.5" r="4.5" fill-opacity="0.87" stroke-opacity="1.00"/><circle cx="2400.7" cy="1343.1" r="4.5" fill-opacity="0.86" stroke-opacity="1.00"/><circle cx="2358.0" cy="1325.9" r="4.5" fill-opacity="0.91" stroke-opacity="1.00"/><circle cx="2357.5" cy="1213.2" r="4.5" fill-opacity="0.89" stroke-opacity="1.00"/><circle cx="2360.5" cy="1222.4" r="4.5" fill-opacity="0.91" stroke-opacity="1.00"/><circle cx="2363.5" cy="1236.8" r="4.5" fill-opacity="0.89" stroke-opacity="1.00"/><circle cx="2369.6" cy="1252.4" r="4.5" fill-opacity="0.99" stroke-opacity="1.00"/><circle cx="2383.2" cy="1202.8" r="4.5" fill-opacity="0.97" stroke-opacity="1.00"/><circle cx="2387.7" cy="1209.3" r="4.5" fill-opacity="0.95" stroke-opacity="1.00"/><circle cx="2398.3" cy="1226.3" r="4.5" fill-opacity="0.86" stroke-opacity="1.00"/><circle cx="2356.0" cy="1218.5" r="4.5" fill-opacity="0.97" stroke-opacity="1.00"/><circle cx="2433.0" cy="1313.9" r="4.5" fill-opacity="0.91" stroke-opacity="1.00"/><circle cx="2088.6" cy="1225.0" r="4.5" fill-opacity="0.98" stroke-opacity="1.00"/><circle cx="2072.0" cy="1274.7" r="4.5" fill-opacity="0.86" stroke-opacity="1.00"/></g>
<g fill="#2c5fd8" stroke="#2c5fd8" stroke-width="1"><circle cx="2085.6" cy="1218.5" r="4.5" fill-opacity="0.90" stroke-opacity="1.00"/><circle cx="2081.0" cy="1231.5" r="4.5" fill-opacity="0.90" stroke-opacity="1.00"/><circle cx="2064.4" cy="1242.0" r="4.5" fill-opacity="0.98" stroke-opacity="1.00"/><circle cx="2085.6" cy="1264.2" r="4.5" fill-opacity="0.99" stroke-opacity="1.00"/><circle cx="2093.1" cy="1259.0" r="4.5" fill-opacity="0.97" stroke-opacity="1.00"/><circle cx="2105.2" cy="1249.8" r="4.5" fill-opacity="0.92" stroke-opacity="1.00"/><circle cx="2115.8" cy="1260.3" r="4.5" fill-opacity="0.89" stroke-opacity="1.00"/><circle cx="2090.1" cy="1269.4" r="4.5" fill-opacity="1.00" stroke-opacity="1.00"/><circle cx="2075.0" cy="1276.0" r="4.5" fill-opacity="0.90" stroke-opacity="1.00"/><circle cx="2062.9" cy="1303.4" r="4.5" fill-opacity="0.98" stroke-opacity="1.00"/><circle cx="2105.2" cy="1302.1" r="4.5" fill-opacity="0.94" stroke-opacity="1.00"/><circle cx="2115.8" cy="1302.1" r="4.5" fill-opacity="0.92" stroke-opacity="1.00"/><circle cx="2129.4" cy="1272.0" r="4.5" fill-opacity="0.93" stroke-opacity="1.00"/><circle cx="2146.0" cy="1260.3" r="4.5" fill-opacity="0.89" stroke-opacity="1.00"/><circle cx="2206.4" cy="1259.0" r="4.5" fill-opacity="0.89" stroke-opacity="1.00"/><circle cx="2195.9" cy="1281.2" r="4.5" fill-opacity="0.98" stroke-opacity="1.00"/><circle cx="2223.0" cy="1259.0" r="4.5" fill-opacity="0.93" stroke-opacity="1.00"/><circle cx="2256.3" cy="1304.7" r="4.5" fill-opacity="0.96" stroke-opacity="1.00"/><circle cx="2214.0" cy="1332.1" r="4.5" fill-opacity="0.92" stroke-opacity="1.00"/><circle cx="2165.6" cy="1316.5" r="4.5" fill-opacity="0.94" stroke-opacity="1.00"/><circle cx="2298.6" cy="1161.0" r="4.5" fill-opacity="0.98" stroke-opacity="1.00"/><circle cx="2366.6" cy="1158.3" r="4.5" fill-opacity="0.96" stroke-opacity="1.00"/><circle cx="2366.6" cy="1171.4" r="4.5" fill-opacity="0.93" stroke-opacity="1.00"/><circle cx="2365.1" cy="1185.8" r="4.5" fill-opacity="0.94" stroke-opacity="1.00"/><circle cx="2337.9" cy="1204.1" r="4.5" fill-opacity="1.00" stroke-opacity="1.00"/><circle cx="2328.8" cy="1218.5" r="4.5" fill-opacity="0.88" stroke-opacity="1.00"/><circle cx="2289.5" cy="1231.5" r="4.5" fill-opacity="0.93" stroke-opacity="1.00"/><circle cx="2297.1" cy="1245.9" r="4.5" fill-opacity="0.90" stroke-opacity="1.00"/><circle cx="2410.4" cy="1232.8" r="4.5" fill-opacity="0.89" stroke-opacity="1.00"/><circle cx="2310.7" cy="1329.5" r="4.5" fill-opacity="0.89" stroke-opacity="1.00"/><circle cx="2316.7" cy="1336.1" r="4.5" fill-opacity="0.97" stroke-opacity="1.00"/><circle cx="2325.8" cy="1311.2" r="4.5" fill-opacity="0.93" stroke-opacity="1.00"/><circle cx="2340.9" cy="1307.3" r="4.5" fill-opacity="0.95" stroke-opacity="1.00"/><circle cx="2351.5" cy="1291.6" r="4.5" fill-opacity="0.92" stroke-opacity="1.00"/><circle cx="2356.0" cy="1273.3" r="4.5" fill-opacity="0.93" stroke-opacity="1.00"/><circle cx="2334.8" cy="1317.8" r="4.5" fill-opacity="0.93" stroke-opacity="1.00"/><circle cx="2356.0" cy="1253.7" r="4.5" fill-opacity="0.98" stroke-opacity="1.00"/><circle cx="2135.4" cy="1137.4" r="4.5" fill-opacity="0.89" stroke-opacity="1.00"/><circle cx="2170.2" cy="1138.7" r="4.5" fill-opacity="0.90" stroke-opacity="1.00"/><circle cx="2211.0" cy="1130.9" r="4.5" fill-opacity="0.90" stroke-opacity="1.00"/><circle cx="2105.2" cy="1184.5" r="4.5" fill-opacity="0.94" stroke-opacity="1.00"/><circle cx="2109.7" cy="1201.5" r="4.5" fill-opacity="0.94" stroke-opacity="1.00"/><circle cx="2150.5" cy="1196.2" r="4.5" fill-opacity="0.96" stroke-opacity="1.00"/><circle cx="2167.1" cy="1191.0" r="4.5" fill-opacity="1.00" stroke-opacity="1.00"/><circle cx="2182.3" cy="1188.4" r="4.5" fill-opacity="0.99" stroke-opacity="1.00"/><circle cx="2266.9" cy="1181.9" r="4.5" fill-opacity="0.91" stroke-opacity="1.00"/><circle cx="2099.2" cy="1385.7" r="4.5" fill-opacity="0.93" stroke-opacity="1.00"/><circle cx="2105.2" cy="1381.8" r="4.5" fill-opacity="0.94" stroke-opacity="1.00"/><circle cx="2093.1" cy="1387.0" r="4.5" fill-opacity="0.97" stroke-opacity="1.00"/><circle cx="2118.8" cy="1183.2" r="4.5" fill-opacity="0.94" stroke-opacity="1.00"/><circle cx="2130.9" cy="1255.0" r="4.5" fill-opacity="0.90" stroke-opacity="1.00"/><circle cx="2209.4" cy="1240.7" r="4.5" fill-opacity="0.89" stroke-opacity="1.00"/><circle cx="2289.5" cy="1163.6" r="4.5" fill-opacity="0.92" stroke-opacity="1.00"/></g>
<circle cx="2354.5" cy="1341.3" r="4.6" fill="#3db135"/>
<rect x="2037.7" y="1101.9" width="424.8" height="346.6" fill="none" stroke="#333" stroke-width="1.6"/>
<line x1="2062.9" y1="1448.5" x2="2062.9" y2="1453.5" stroke="#333" stroke-width="1.3"/>
<text x="2062.9" y="1469.5" font-family="Liberation Sans" font-size="14.5" text-anchor="middle" fill="#222">−60</text>
<line x1="2138.4" y1="1448.5" x2="2138.4" y2="1453.5" stroke="#333" stroke-width="1.3"/>
<text x="2138.4" y="1469.5" font-family="Liberation Sans" font-size="14.5" text-anchor="middle" fill="#222">−55</text>
<line x1="2214.0" y1="1448.5" x2="2214.0" y2="1453.5" stroke="#333" stroke-width="1.3"/>
<text x="2214.0" y="1469.5" font-family="Liberation Sans" font-size="14.5" text-anchor="middle" fill="#222">−50</text>
<line x1="2289.5" y1="1448.5" x2="2289.5" y2="1453.5" stroke="#333" stroke-width="1.3"/>
<text x="2289.5" y="1469.5" font-family="Liberation Sans" font-size="14.5" text-anchor="middle" fill="#222">−45</text>
<line x1="2365.1" y1="1448.5" x2="2365.1" y2="1453.5" stroke="#333" stroke-width="1.3"/>
<text x="2365.1" y="1469.5" font-family="Liberation Sans" font-size="14.5" text-anchor="middle" fill="#222">−40</text>
<line x1="2440.6" y1="1448.5" x2="2440.6" y2="1453.5" stroke="#333" stroke-width="1.3"/>
<text x="2440.6" y="1469.5" font-family="Liberation Sans" font-size="14.5" text-anchor="middle" fill="#222">−35</text>
<line x1="2032.7" y1="1438.0" x2="2037.7" y2="1438.0" stroke="#333" stroke-width="1.3"/>
<text x="2029.7" y="1443.0" font-family="Liberation Sans" font-size="14.5" text-anchor="end" fill="#222">10</text>
<line x1="2032.7" y1="1372.7" x2="2037.7" y2="1372.7" stroke="#333" stroke-width="1.3"/>
<text x="2029.7" y="1377.7" font-family="Liberation Sans" font-size="14.5" text-anchor="end" fill="#222">15</text>
<line x1="2032.7" y1="1307.3" x2="2037.7" y2="1307.3" stroke="#333" stroke-width="1.3"/>
<text x="2029.7" y="1312.3" font-family="Liberation Sans" font-size="14.5" text-anchor="end" fill="#222">20</text>
<line x1="2032.7" y1="1242.0" x2="2037.7" y2="1242.0" stroke="#333" stroke-width="1.3"/>
<text x="2029.7" y="1247.0" font-family="Liberation Sans" font-size="14.5" text-anchor="end" fill="#222">25</text>
<line x1="2032.7" y1="1176.6" x2="2037.7" y2="1176.6" stroke="#333" stroke-width="1.3"/>
<text x="2029.7" y="1181.6" font-family="Liberation Sans" font-size="14.5" text-anchor="end" fill="#222">30</text>
<line x1="2032.7" y1="1111.3" x2="2037.7" y2="1111.3" stroke="#333" stroke-width="1.3"/>
<text x="2029.7" y="1116.3" font-family="Liberation Sans" font-size="14.5" text-anchor="end" fill="#222">35</text>
<rect x="2315" y="1361.5" width="133.6" height="79.9" rx="10" fill="#fff" fill-opacity="0.85" stroke="#888" stroke-width="1.5"/>
<circle cx="2334.5" cy="1375.9" r="4.5" fill="#2c5fd8"/>
<text x="2349.0" y="1380.4" font-family="Liberation Serif" font-size="13.5" fill="#111">Batch Targets</text>
<circle cx="2334.5" cy="1401.1" r="4.5" fill="#e0703a"/>
<text x="2349.0" y="1405.6" font-family="Liberation Serif" font-size="13.5" fill="#111">Beam Search</text>
<circle cx="2334.5" cy="1426.2" r="4.5" fill="#3db135"/>
<text x="2349.0" y="1430.7" font-family="Liberation Serif" font-size="13.5" fill="#111">Ground Truth</text>
<rect x="2330" y="1317.3" width="58.8" height="32.8" fill="none" stroke="#555" stroke-width="2.6" stroke-dasharray="7,3.5"/>
<g fill="#e0703a" stroke="#e0703a" stroke-width="1"><circle cx="2850.1" cy="1170.3" r="4.5" fill-opacity="0.25" stroke-opacity="0.33"/><circle cx="2828.5" cy="1190.2" r="4.5" fill-opacity="0.28" stroke-opacity="0.38"/><circle cx="2916.4" cy="1141.5" r="4.5" fill-opacity="0.36" stroke-opacity="0.49"/><circle cx="2836.5" cy="1143.7" r="4.5" fill-opacity="0.32" stroke-opacity="0.43"/><circle cx="2814.4" cy="1180.7" r="4.5" fill-opacity="0.31" stroke-opacity="0.41"/><circle cx="2892.9" cy="1139.8" r="4.5" fill-opacity="0.32" stroke-opacity="0.44"/><circle cx="2848.6" cy="1146.1" r="4.5" fill-opacity="0.35" stroke-opacity="0.47"/><circle cx="2877.2" cy="1177.3" r="4.5" fill-opacity="0.40" stroke-opacity="0.53"/><circle cx="2866.2" cy="1175.3" r="4.5" fill-opacity="0.25" stroke-opacity="0.33"/><circle cx="2903.5" cy="1166.6" r="4.5" fill-opacity="0.39" stroke-opacity="0.52"/><circle cx="2836.5" cy="1166.6" r="4.5" fill-opacity="0.30" stroke-opacity="0.41"/><circle cx="2835.1" cy="1171.7" r="4.5" fill-opacity="0.33" stroke-opacity="0.45"/><circle cx="2857.5" cy="1197.1" r="4.5" fill-opacity="0.30" stroke-opacity="0.40"/><circle cx="2912.4" cy="1178.8" r="4.5" fill-opacity="0.30" stroke-opacity="0.41"/><circle cx="2925.9" cy="1168.5" r="4.5" fill-opacity="0.29" stroke-opacity="0.39"/><circle cx="2833.6" cy="1168.3" r="4.5" fill-opacity="0.36" stroke-opacity="0.48"/><circle cx="2835.8" cy="1187.8" r="4.5" fill-opacity="0.31" stroke-opacity="0.41"/><circle cx="2845.6" cy="1195.4" r="4.5" fill-opacity="0.36" stroke-opacity="0.48"/><circle cx="2881.6" cy="1157.3" r="4.5" fill-opacity="0.24" stroke-opacity="0.32"/><circle cx="2910.7" cy="1184.5" r="4.5" fill-opacity="0.22" stroke-opacity="0.30"/><circle cx="2871.9" cy="1155.3" r="4.5" fill-opacity="0.26" stroke-opacity="0.36"/><circle cx="2892.5" cy="1141.0" r="4.5" fill-opacity="0.26" stroke-opacity="0.35"/><circle cx="2885.1" cy="1183.1" r="4.5" fill-opacity="0.27" stroke-opacity="0.36"/><circle cx="2840.0" cy="1167.0" r="4.5" fill-opacity="0.30" stroke-opacity="0.40"/><circle cx="2847.1" cy="1177.2" r="4.5" fill-opacity="0.34" stroke-opacity="0.46"/><circle cx="2881.2" cy="1186.8" r="4.5" fill-opacity="0.38" stroke-opacity="0.52"/><circle cx="2855.5" cy="1161.9" r="4.5" fill-opacity="0.40" stroke-opacity="0.54"/><circle cx="2852.1" cy="1188.5" r="4.5" fill-opacity="0.34" stroke-opacity="0.45"/><circle cx="2828.5" cy="1176.7" r="4.5" fill-opacity="0.38" stroke-opacity="0.52"/><circle cx="2915.7" cy="1196.9" r="4.5" fill-opacity="0.31" stroke-opacity="0.42"/><circle cx="2872.9" cy="1155.0" r="4.5" fill-opacity="0.35" stroke-opacity="0.48"/><circle cx="2914.2" cy="1159.6" r="4.5" fill-opacity="0.38" stroke-opacity="0.51"/><circle cx="2881.9" cy="1154.1" r="4.5" fill-opacity="0.34" stroke-opacity="0.47"/><circle cx="2832.3" cy="1175.5" r="4.5" fill-opacity="0.29" stroke-opacity="0.40"/><circle cx="2855.4" cy="1183.9" r="4.5" fill-opacity="0.37" stroke-opacity="0.50"/><circle cx="2831.8" cy="1165.1" r="4.5" fill-opacity="0.36" stroke-opacity="0.48"/><circle cx="2853.1" cy="1171.0" r="4.5" fill-opacity="0.40" stroke-opacity="0.53"/><circle cx="2920.4" cy="1170.9" r="4.5" fill-opacity="0.37" stroke-opacity="0.50"/><circle cx="2820.4" cy="1187.7" r="4.5" fill-opacity="0.33" stroke-opacity="0.44"/><circle cx="2896.1" cy="1146.2" r="4.5" fill-opacity="0.26" stroke-opacity="0.35"/><circle cx="2842.0" cy="1154.9" r="4.5" fill-opacity="0.22" stroke-opacity="0.30"/><circle cx="2851.7" cy="1189.5" r="4.5" fill-opacity="0.26" stroke-opacity="0.35"/><circle cx="2894.0" cy="1170.4" r="4.5" fill-opacity="0.35" stroke-opacity="0.47"/><circle cx="2863.3" cy="1196.2" r="4.5" fill-opacity="0.25" stroke-opacity="0.33"/><circle cx="2917.6" cy="1142.9" r="4.5" fill-opacity="0.35" stroke-opacity="0.47"/><circle cx="2884.7" cy="1186.3" r="4.5" fill-opacity="0.27" stroke-opacity="0.36"/><circle cx="2858.3" cy="1185.7" r="4.5" fill-opacity="0.25" stroke-opacity="0.34"/><circle cx="2906.0" cy="1134.9" r="4.5" fill-opacity="0.38" stroke-opacity="0.51"/><circle cx="2834.1" cy="1198.1" r="4.5" fill-opacity="0.24" stroke-opacity="0.33"/><circle cx="2850.1" cy="1164.3" r="4.5" fill-opacity="0.37" stroke-opacity="0.50"/><circle cx="2890.3" cy="1171.4" r="4.5" fill-opacity="0.33" stroke-opacity="0.44"/><circle cx="2899.5" cy="1141.0" r="4.5" fill-opacity="0.27" stroke-opacity="0.36"/><circle cx="2898.5" cy="1159.6" r="4.5" fill-opacity="0.26" stroke-opacity="0.35"/><circle cx="2835.8" cy="1165.6" r="4.5" fill-opacity="0.33" stroke-opacity="0.44"/><circle cx="2836.6" cy="1183.1" r="4.5" fill-opacity="0.27" stroke-opacity="0.36"/><circle cx="2925.2" cy="1183.9" r="4.5" fill-opacity="0.33" stroke-opacity="0.44"/><circle cx="2847.9" cy="1165.4" r="4.5" fill-opacity="0.33" stroke-opacity="0.45"/><circle cx="2882.8" cy="1148.5" r="4.5" fill-opacity="0.22" stroke-opacity="0.30"/><circle cx="2837.3" cy="1198.1" r="4.5" fill-opacity="0.27" stroke-opacity="0.36"/><circle cx="2842.1" cy="1175.4" r="4.5" fill-opacity="0.35" stroke-opacity="0.48"/><circle cx="2920.3" cy="1160.1" r="4.5" fill-opacity="0.24" stroke-opacity="0.33"/><circle cx="2887.5" cy="1141.3" r="4.5" fill-opacity="0.35" stroke-opacity="0.48"/><circle cx="2833.9" cy="1155.5" r="4.5" fill-opacity="0.36" stroke-opacity="0.49"/><circle cx="2912.1" cy="1157.1" r="4.5" fill-opacity="0.37" stroke-opacity="0.50"/><circle cx="2857.6" cy="1149.6" r="4.5" fill-opacity="0.38" stroke-opacity="0.51"/><circle cx="2877.2" cy="1145.0" r="4.5" fill-opacity="0.29" stroke-opacity="0.39"/><circle cx="2859.4" cy="1194.7" r="4.5" fill-opacity="0.39" stroke-opacity="0.53"/><circle cx="2891.2" cy="1151.0" r="4.5" fill-opacity="0.23" stroke-opacity="0.31"/><circle cx="2822.6" cy="1170.7" r="4.5" fill-opacity="0.23" stroke-opacity="0.31"/><circle cx="2822.6" cy="1161.9" r="4.5" fill-opacity="0.33" stroke-opacity="0.44"/><circle cx="2887.3" cy="1194.5" r="4.5" fill-opacity="0.23" stroke-opacity="0.31"/><circle cx="2837.9" cy="1161.5" r="4.5" fill-opacity="0.31" stroke-opacity="0.42"/><circle cx="2908.6" cy="1149.4" r="4.5" fill-opacity="0.28" stroke-opacity="0.37"/><circle cx="2905.4" cy="1160.1" r="4.5" fill-opacity="0.34" stroke-opacity="0.46"/><circle cx="2826.8" cy="1153.2" r="4.5" fill-opacity="0.30" stroke-opacity="0.40"/><circle cx="2890.8" cy="1168.1" r="4.5" fill-opacity="0.28" stroke-opacity="0.38"/><circle cx="2894.6" cy="1183.4" r="4.5" fill-opacity="0.34" stroke-opacity="0.46"/><circle cx="2916.9" cy="1146.6" r="4.5" fill-opacity="0.39" stroke-opacity="0.53"/><circle cx="2853.0" cy="1166.0" r="4.5" fill-opacity="0.26" stroke-opacity="0.35"/><circle cx="2901.2" cy="1174.4" r="4.5" fill-opacity="0.23" stroke-opacity="0.31"/><circle cx="2924.8" cy="1173.9" r="4.5" fill-opacity="0.25" stroke-opacity="0.34"/><circle cx="2847.6" cy="1159.7" r="4.5" fill-opacity="0.38" stroke-opacity="0.52"/><circle cx="2818.2" cy="1164.6" r="4.5" fill-opacity="0.35" stroke-opacity="0.47"/><circle cx="2916.6" cy="1146.2" r="4.5" fill-opacity="0.22" stroke-opacity="0.30"/><circle cx="2853.5" cy="1182.7" r="4.5" fill-opacity="0.26" stroke-opacity="0.35"/><circle cx="2887.4" cy="1171.7" r="4.5" fill-opacity="0.36" stroke-opacity="0.48"/><circle cx="2854.3" cy="1152.6" r="4.5" fill-opacity="0.25" stroke-opacity="0.33"/><circle cx="2899.7" cy="1190.7" r="4.5" fill-opacity="0.31" stroke-opacity="0.42"/><circle cx="2883.7" cy="1172.2" r="4.5" fill-opacity="0.25" stroke-opacity="0.34"/><circle cx="2838.9" cy="1157.6" r="4.5" fill-opacity="0.27" stroke-opacity="0.37"/></g>
<g fill="#2c5fd8" stroke="#2c5fd8" stroke-width="1"><circle cx="2661.3" cy="1324.4" r="4.5" fill-opacity="0.30" stroke-opacity="0.41"/><circle cx="2578.8" cy="1294.0" r="4.5" fill-opacity="0.31" stroke-opacity="0.41"/><circle cx="2631.9" cy="1256.0" r="4.5" fill-opacity="0.38" stroke-opacity="0.51"/><circle cx="2618.2" cy="1300.1" r="4.5" fill-opacity="0.31" stroke-opacity="0.41"/><circle cx="2679.2" cy="1277.8" r="4.5" fill-opacity="0.39" stroke-opacity="0.53"/><circle cx="2732.5" cy="1222.0" r="4.5" fill-opacity="0.31" stroke-opacity="0.42"/><circle cx="2644.3" cy="1327.9" r="4.5" fill-opacity="0.30" stroke-opacity="0.41"/><circle cx="2639.0" cy="1217.8" r="4.5" fill-opacity="0.27" stroke-opacity="0.37"/><circle cx="2622.8" cy="1302.4" r="4.5" fill-opacity="0.29" stroke-opacity="0.39"/><circle cx="2650.9" cy="1304.8" r="4.5" fill-opacity="0.40" stroke-opacity="0.53"/><circle cx="2576.7" cy="1278.6" r="4.5" fill-opacity="0.32" stroke-opacity="0.43"/><circle cx="2599.5" cy="1281.0" r="4.5" fill-opacity="0.25" stroke-opacity="0.34"/><circle cx="2591.4" cy="1253.2" r="4.5" fill-opacity="0.24" stroke-opacity="0.33"/><circle cx="2627.8" cy="1258.5" r="4.5" fill-opacity="0.33" stroke-opacity="0.45"/><circle cx="2715.8" cy="1219.3" r="4.5" fill-opacity="0.32" stroke-opacity="0.43"/><circle cx="2584.6" cy="1240.5" r="4.5" fill-opacity="0.31" stroke-opacity="0.42"/><circle cx="2652.7" cy="1276.1" r="4.5" fill-opacity="0.33" stroke-opacity="0.45"/><circle cx="2614.3" cy="1263.8" r="4.5" fill-opacity="0.23" stroke-opacity="0.32"/><circle cx="2690.9" cy="1211.3" r="4.5" fill-opacity="0.23" stroke-opacity="0.31"/><circle cx="2688.0" cy="1252.2" r="4.5" fill-opacity="0.27" stroke-opacity="0.37"/><circle cx="2698.5" cy="1295.1" r="4.5" fill-opacity="0.27" stroke-opacity="0.37"/><circle cx="2690.5" cy="1268.7" r="4.5" fill-opacity="0.35" stroke-opacity="0.47"/><circle cx="2571.1" cy="1267.9" r="4.5" fill-opacity="0.38" stroke-opacity="0.51"/><circle cx="2679.6" cy="1301.8" r="4.5" fill-opacity="0.32" stroke-opacity="0.44"/><circle cx="2650.7" cy="1238.7" r="4.5" fill-opacity="0.36" stroke-opacity="0.49"/><circle cx="2671.2" cy="1325.6" r="4.5" fill-opacity="0.36" stroke-opacity="0.49"/><circle cx="2591.6" cy="1244.9" r="4.5" fill-opacity="0.29" stroke-opacity="0.39"/><circle cx="2608.7" cy="1224.9" r="4.5" fill-opacity="0.32" stroke-opacity="0.44"/><circle cx="2573.0" cy="1315.5" r="4.5" fill-opacity="0.36" stroke-opacity="0.49"/><circle cx="2621.9" cy="1319.5" r="4.5" fill-opacity="0.39" stroke-opacity="0.53"/><circle cx="2703.7" cy="1325.1" r="4.5" fill-opacity="0.37" stroke-opacity="0.49"/><circle cx="2610.0" cy="1246.1" r="4.5" fill-opacity="0.29" stroke-opacity="0.40"/><circle cx="2669.0" cy="1322.8" r="4.5" fill-opacity="0.24" stroke-opacity="0.32"/><circle cx="2589.3" cy="1286.1" r="4.5" fill-opacity="0.26" stroke-opacity="0.36"/><circle cx="2667.0" cy="1332.4" r="4.5" fill-opacity="0.32" stroke-opacity="0.43"/><circle cx="2695.9" cy="1222.2" r="4.5" fill-opacity="0.26" stroke-opacity="0.35"/><circle cx="2713.7" cy="1311.4" r="4.5" fill-opacity="0.35" stroke-opacity="0.48"/><circle cx="2691.3" cy="1219.6" r="4.5" fill-opacity="0.27" stroke-opacity="0.36"/><circle cx="2676.4" cy="1289.9" r="4.5" fill-opacity="0.30" stroke-opacity="0.40"/><circle cx="2641.8" cy="1317.6" r="4.5" fill-opacity="0.29" stroke-opacity="0.39"/><circle cx="2629.5" cy="1215.6" r="4.5" fill-opacity="0.40" stroke-opacity="0.54"/><circle cx="2671.2" cy="1221.6" r="4.5" fill-opacity="0.30" stroke-opacity="0.40"/><circle cx="2566.2" cy="1266.3" r="4.5" fill-opacity="0.34" stroke-opacity="0.46"/><circle cx="2657.8" cy="1321.4" r="4.5" fill-opacity="0.39" stroke-opacity="0.53"/><circle cx="2645.8" cy="1274.1" r="4.5" fill-opacity="0.35" stroke-opacity="0.48"/><circle cx="2584.0" cy="1308.4" r="4.5" fill-opacity="0.35" stroke-opacity="0.47"/><circle cx="2633.7" cy="1241.9" r="4.5" fill-opacity="0.37" stroke-opacity="0.50"/><circle cx="2620.3" cy="1235.0" r="4.5" fill-opacity="0.29" stroke-opacity="0.40"/><circle cx="2678.1" cy="1210.7" r="4.5" fill-opacity="0.26" stroke-opacity="0.35"/><circle cx="2687.1" cy="1239.9" r="4.5" fill-opacity="0.26" stroke-opacity="0.35"/><circle cx="2678.8" cy="1284.4" r="4.5" fill-opacity="0.24" stroke-opacity="0.32"/><circle cx="2690.5" cy="1274.4" r="4.5" fill-opacity="0.23" stroke-opacity="0.32"/><circle cx="2696.7" cy="1269.5" r="4.5" fill-opacity="0.38" stroke-opacity="0.51"/><circle cx="2684.2" cy="1252.6" r="4.5" fill-opacity="0.39" stroke-opacity="0.52"/><circle cx="2592.4" cy="1261.0" r="4.5" fill-opacity="0.37" stroke-opacity="0.50"/><circle cx="2655.6" cy="1324.9" r="4.5" fill-opacity="0.26" stroke-opacity="0.35"/><circle cx="2619.6" cy="1225.2" r="4.5" fill-opacity="0.23" stroke-opacity="0.31"/><circle cx="2559.0" cy="1286.0" r="4.5" fill-opacity="0.35" stroke-opacity="0.48"/><circle cx="2665.6" cy="1247.2" r="4.5" fill-opacity="0.32" stroke-opacity="0.43"/><circle cx="2571.5" cy="1293.9" r="4.5" fill-opacity="0.33" stroke-opacity="0.44"/><circle cx="2676.5" cy="1273.6" r="4.5" fill-opacity="0.29" stroke-opacity="0.39"/><circle cx="2625.4" cy="1245.0" r="4.5" fill-opacity="0.33" stroke-opacity="0.44"/><circle cx="2649.7" cy="1312.1" r="4.5" fill-opacity="0.35" stroke-opacity="0.48"/><circle cx="2723.9" cy="1218.1" r="4.5" fill-opacity="0.31" stroke-opacity="0.41"/><circle cx="2682.7" cy="1289.0" r="4.5" fill-opacity="0.30" stroke-opacity="0.40"/><circle cx="2626.7" cy="1264.9" r="4.5" fill-opacity="0.30" stroke-opacity="0.40"/><circle cx="2640.8" cy="1200.4" r="4.5" fill-opacity="0.23" stroke-opacity="0.31"/><circle cx="2666.6" cy="1219.1" r="4.5" fill-opacity="0.29" stroke-opacity="0.39"/><circle cx="2615.0" cy="1267.5" r="4.5" fill-opacity="0.29" stroke-opacity="0.39"/><circle cx="2672.7" cy="1261.8" r="4.5" fill-opacity="0.27" stroke-opacity="0.36"/><circle cx="2608.3" cy="1300.2" r="4.5" fill-opacity="0.35" stroke-opacity="0.47"/><circle cx="2549.8" cy="1288.1" r="4.5" fill-opacity="0.36" stroke-opacity="0.49"/><circle cx="2676.9" cy="1209.9" r="4.5" fill-opacity="0.29" stroke-opacity="0.39"/><circle cx="2656.1" cy="1268.1" r="4.5" fill-opacity="0.35" stroke-opacity="0.48"/><circle cx="2622.1" cy="1257.1" r="4.5" fill-opacity="0.31" stroke-opacity="0.42"/><circle cx="2704.2" cy="1230.3" r="4.5" fill-opacity="0.28" stroke-opacity="0.37"/><circle cx="2594.8" cy="1233.5" r="4.5" fill-opacity="0.23" stroke-opacity="0.30"/><circle cx="2576.8" cy="1322.0" r="4.5" fill-opacity="0.28" stroke-opacity="0.37"/><circle cx="2625.3" cy="1230.2" r="4.5" fill-opacity="0.38" stroke-opacity="0.51"/><circle cx="2686.3" cy="1307.6" r="4.5" fill-opacity="0.37" stroke-opacity="0.50"/><circle cx="2662.7" cy="1266.4" r="4.5" fill-opacity="0.39" stroke-opacity="0.53"/><circle cx="2658.7" cy="1310.7" r="4.5" fill-opacity="0.36" stroke-opacity="0.49"/><circle cx="2651.3" cy="1336.8" r="4.5" fill-opacity="0.34" stroke-opacity="0.45"/><circle cx="2665.2" cy="1197.4" r="4.5" fill-opacity="0.23" stroke-opacity="0.31"/><circle cx="2597.9" cy="1277.9" r="4.5" fill-opacity="0.23" stroke-opacity="0.31"/><circle cx="2586.8" cy="1297.7" r="4.5" fill-opacity="0.37" stroke-opacity="0.50"/><circle cx="2704.6" cy="1248.1" r="4.5" fill-opacity="0.24" stroke-opacity="0.33"/><circle cx="2618.8" cy="1235.1" r="4.5" fill-opacity="0.24" stroke-opacity="0.33"/><circle cx="2585.6" cy="1268.6" r="4.5" fill-opacity="0.38" stroke-opacity="0.52"/><circle cx="2639.0" cy="1230.3" r="4.5" fill-opacity="0.29" stroke-opacity="0.40"/><circle cx="2641.6" cy="1306.7" r="4.5" fill-opacity="0.24" stroke-opacity="0.32"/><circle cx="2571.1" cy="1239.8" r="4.5" fill-opacity="0.26" stroke-opacity="0.35"/><circle cx="2636.7" cy="1284.5" r="4.5" fill-opacity="0.26" stroke-opacity="0.35"/><circle cx="2598.4" cy="1315.5" r="4.5" fill-opacity="0.31" stroke-opacity="0.42"/><circle cx="2704.4" cy="1224.9" r="4.5" fill-opacity="0.23" stroke-opacity="0.32"/><circle cx="2675.3" cy="1287.0" r="4.5" fill-opacity="0.31" stroke-opacity="0.42"/><circle cx="2614.5" cy="1267.0" r="4.5" fill-opacity="0.28" stroke-opacity="0.37"/><circle cx="2669.5" cy="1329.8" r="4.5" fill-opacity="0.23" stroke-opacity="0.32"/><circle cx="2577.0" cy="1315.3" r="4.5" fill-opacity="0.30" stroke-opacity="0.40"/><circle cx="2671.5" cy="1241.1" r="4.5" fill-opacity="0.33" stroke-opacity="0.44"/><circle cx="2602.0" cy="1237.8" r="4.5" fill-opacity="0.28" stroke-opacity="0.37"/><circle cx="2677.2" cy="1324.1" r="4.5" fill-opacity="0.28" stroke-opacity="0.38"/><circle cx="2662.9" cy="1240.7" r="4.5" fill-opacity="0.28" stroke-opacity="0.38"/><circle cx="2662.3" cy="1296.8" r="4.5" fill-opacity="0.39" stroke-opacity="0.53"/><circle cx="2674.0" cy="1333.8" r="4.5" fill-opacity="0.38" stroke-opacity="0.51"/><circle cx="2599.2" cy="1265.9" r="4.5" fill-opacity="0.28" stroke-opacity="0.38"/><circle cx="2559.0" cy="1288.8" r="4.5" fill-opacity="0.35" stroke-opacity="0.48"/><circle cx="2574.1" cy="1301.2" r="4.5" fill-opacity="0.37" stroke-opacity="0.50"/><circle cx="2698.0" cy="1240.3" r="4.5" fill-opacity="0.34" stroke-opacity="0.46"/><circle cx="2606.3" cy="1316.8" r="4.5" fill-opacity="0.35" stroke-opacity="0.47"/><circle cx="2686.9" cy="1327.9" r="4.5" fill-opacity="0.23" stroke-opacity="0.32"/><circle cx="2657.4" cy="1235.6" r="4.5" fill-opacity="0.37" stroke-opacity="0.49"/><circle cx="2624.8" cy="1313.1" r="4.5" fill-opacity="0.23" stroke-opacity="0.31"/><circle cx="2579.1" cy="1275.7" r="4.5" fill-opacity="0.40" stroke-opacity="0.54"/><circle cx="2609.7" cy="1273.3" r="4.5" fill-opacity="0.26" stroke-opacity="0.35"/><circle cx="2695.3" cy="1211.7" r="4.5" fill-opacity="0.26" stroke-opacity="0.35"/><circle cx="2705.4" cy="1245.3" r="4.5" fill-opacity="0.30" stroke-opacity="0.41"/><circle cx="2628.1" cy="1263.4" r="4.5" fill-opacity="0.29" stroke-opacity="0.39"/><circle cx="2627.0" cy="1312.5" r="4.5" fill-opacity="0.24" stroke-opacity="0.33"/><circle cx="2674.1" cy="1297.5" r="4.5" fill-opacity="0.25" stroke-opacity="0.34"/><circle cx="2640.4" cy="1317.5" r="4.5" fill-opacity="0.39" stroke-opacity="0.53"/><circle cx="2635.8" cy="1302.4" r="4.5" fill-opacity="0.26" stroke-opacity="0.35"/><circle cx="2654.5" cy="1214.5" r="4.5" fill-opacity="0.23" stroke-opacity="0.31"/><circle cx="2665.7" cy="1311.0" r="4.5" fill-opacity="0.28" stroke-opacity="0.37"/><circle cx="2655.8" cy="1218.2" r="4.5" fill-opacity="0.31" stroke-opacity="0.41"/><circle cx="2702.8" cy="1241.4" r="4.5" fill-opacity="0.23" stroke-opacity="0.31"/><circle cx="2635.3" cy="1320.1" r="4.5" fill-opacity="0.34" stroke-opacity="0.46"/><circle cx="2631.6" cy="1301.7" r="4.5" fill-opacity="0.31" stroke-opacity="0.41"/><circle cx="2599.0" cy="1265.0" r="4.5" fill-opacity="0.37" stroke-opacity="0.50"/><circle cx="2649.7" cy="1288.2" r="4.5" fill-opacity="0.26" stroke-opacity="0.36"/><circle cx="2565.6" cy="1286.5" r="4.5" fill-opacity="0.23" stroke-opacity="0.31"/><circle cx="2575.9" cy="1260.2" r="4.5" fill-opacity="0.32" stroke-opacity="0.43"/><circle cx="2643.8" cy="1306.2" r="4.5" fill-opacity="0.40" stroke-opacity="0.54"/><circle cx="2667.8" cy="1216.6" r="4.5" fill-opacity="0.23" stroke-opacity="0.31"/><circle cx="2677.0" cy="1290.9" r="4.5" fill-opacity="0.35" stroke-opacity="0.48"/><circle cx="2717.1" cy="1226.4" r="4.5" fill-opacity="0.30" stroke-opacity="0.40"/><circle cx="2601.6" cy="1224.4" r="4.5" fill-opacity="0.35" stroke-opacity="0.47"/><circle cx="2675.6" cy="1241.2" r="4.5" fill-opacity="0.28" stroke-opacity="0.38"/><circle cx="2667.9" cy="1258.8" r="4.5" fill-opacity="0.37" stroke-opacity="0.50"/><circle cx="2672.0" cy="1277.0" r="4.5" fill-opacity="0.32" stroke-opacity="0.43"/><circle cx="2727.1" cy="1323.0" r="4.5" fill-opacity="0.28" stroke-opacity="0.38"/><circle cx="2600.7" cy="1245.6" r="4.5" fill-opacity="0.28" stroke-opacity="0.38"/><circle cx="2688.0" cy="1263.6" r="4.5" fill-opacity="0.34" stroke-opacity="0.46"/><circle cx="2658.0" cy="1330.3" r="4.5" fill-opacity="0.27" stroke-opacity="0.37"/><circle cx="2620.1" cy="1323.7" r="4.5" fill-opacity="0.28" stroke-opacity="0.37"/><circle cx="2683.3" cy="1291.4" r="4.5" fill-opacity="0.39" stroke-opacity="0.53"/><circle cx="2707.4" cy="1311.0" r="4.5" fill-opacity="0.26" stroke-opacity="0.35"/><circle cx="2656.0" cy="1310.9" r="4.5" fill-opacity="0.34" stroke-opacity="0.46"/><circle cx="2682.3" cy="1225.0" r="4.5" fill-opacity="0.25" stroke-opacity="0.34"/><circle cx="2623.7" cy="1291.4" r="4.5" fill-opacity="0.26" stroke-opacity="0.34"/><circle cx="2664.5" cy="1198.3" r="4.5" fill-opacity="0.34" stroke-opacity="0.47"/><circle cx="2659.2" cy="1217.2" r="4.5" fill-opacity="0.29" stroke-opacity="0.39"/><circle cx="2643.2" cy="1272.9" r="4.5" fill-opacity="0.30" stroke-opacity="0.41"/><circle cx="2680.0" cy="1205.1" r="4.5" fill-opacity="0.26" stroke-opacity="0.35"/><circle cx="2657.9" cy="1243.8" r="4.5" fill-opacity="0.38" stroke-opacity="0.52"/><circle cx="2681.8" cy="1236.5" r="4.5" fill-opacity="0.35" stroke-opacity="0.47"/><circle cx="2681.0" cy="1232.8" r="4.5" fill-opacity="0.26" stroke-opacity="0.36"/><circle cx="2608.0" cy="1258.7" r="4.5" fill-opacity="0.28" stroke-opacity="0.38"/><circle cx="2661.8" cy="1211.7" r="4.5" fill-opacity="0.27" stroke-opacity="0.36"/><circle cx="2700.6" cy="1234.9" r="4.5" fill-opacity="0.36" stroke-opacity="0.49"/><circle cx="2692.6" cy="1270.9" r="4.5" fill-opacity="0.33" stroke-opacity="0.45"/><circle cx="2667.9" cy="1290.0" r="4.5" fill-opacity="0.28" stroke-opacity="0.38"/><circle cx="2710.5" cy="1307.1" r="4.5" fill-opacity="0.32" stroke-opacity="0.43"/><circle cx="2683.0" cy="1315.5" r="4.5" fill-opacity="0.36" stroke-opacity="0.48"/><circle cx="2652.0" cy="1230.5" r="4.5" fill-opacity="0.26" stroke-opacity="0.36"/><circle cx="2598.8" cy="1240.9" r="4.5" fill-opacity="0.29" stroke-opacity="0.39"/><circle cx="2579.0" cy="1278.3" r="4.5" fill-opacity="0.29" stroke-opacity="0.40"/><circle cx="2701.8" cy="1263.1" r="4.5" fill-opacity="0.32" stroke-opacity="0.43"/><circle cx="2664.1" cy="1201.9" r="4.5" fill-opacity="0.23" stroke-opacity="0.31"/><circle cx="2589.8" cy="1238.9" r="4.5" fill-opacity="0.28" stroke-opacity="0.38"/><circle cx="2584.4" cy="1258.3" r="4.5" fill-opacity="0.26" stroke-opacity="0.35"/><circle cx="2638.1" cy="1298.4" r="4.5" fill-opacity="0.24" stroke-opacity="0.33"/><circle cx="2666.7" cy="1315.0" r="4.5" fill-opacity="0.28" stroke-opacity="0.38"/><circle cx="2691.2" cy="1283.7" r="4.5" fill-opacity="0.26" stroke-opacity="0.35"/><circle cx="2636.8" cy="1294.8" r="4.5" fill-opacity="0.34" stroke-opacity="0.46"/><circle cx="2592.4" cy="1235.0" r="4.5" fill-opacity="0.24" stroke-opacity="0.32"/><circle cx="2577.3" cy="1298.2" r="4.5" fill-opacity="0.37" stroke-opacity="0.50"/><circle cx="2615.9" cy="1295.4" r="4.5" fill-opacity="0.38" stroke-opacity="0.51"/><circle cx="2652.6" cy="1251.2" r="4.5" fill-opacity="0.39" stroke-opacity="0.53"/><circle cx="2570.3" cy="1294.8" r="4.5" fill-opacity="0.24" stroke-opacity="0.32"/><circle cx="2680.8" cy="1298.4" r="4.5" fill-opacity="0.23" stroke-opacity="0.31"/><circle cx="2623.5" cy="1269.0" r="4.5" fill-opacity="0.39" stroke-opacity="0.53"/><circle cx="2630.4" cy="1225.4" r="4.5" fill-opacity="0.24" stroke-opacity="0.32"/><circle cx="2635.2" cy="1272.5" r="4.5" fill-opacity="0.24" stroke-opacity="0.33"/><circle cx="2666.6" cy="1237.2" r="4.5" fill-opacity="0.26" stroke-opacity="0.35"/><circle cx="2676.8" cy="1299.8" r="4.5" fill-opacity="0.33" stroke-opacity="0.45"/><circle cx="2700.3" cy="1262.3" r="4.5" fill-opacity="0.36" stroke-opacity="0.49"/><circle cx="2608.8" cy="1266.3" r="4.5" fill-opacity="0.23" stroke-opacity="0.31"/><circle cx="2684.4" cy="1297.8" r="4.5" fill-opacity="0.28" stroke-opacity="0.38"/><circle cx="2666.8" cy="1279.9" r="4.5" fill-opacity="0.29" stroke-opacity="0.39"/><circle cx="2619.9" cy="1265.3" r="4.5" fill-opacity="0.39" stroke-opacity="0.53"/><circle cx="2723.4" cy="1233.5" r="4.5" fill-opacity="0.33" stroke-opacity="0.45"/><circle cx="2560.9" cy="1261.6" r="4.5" fill-opacity="0.30" stroke-opacity="0.41"/><circle cx="2636.6" cy="1335.4" r="4.5" fill-opacity="0.29" stroke-opacity="0.39"/><circle cx="2657.9" cy="1225.0" r="4.5" fill-opacity="0.28" stroke-opacity="0.38"/><circle cx="2593.5" cy="1255.9" r="4.5" fill-opacity="0.27" stroke-opacity="0.36"/><circle cx="2658.8" cy="1239.7" r="4.5" fill-opacity="0.35" stroke-opacity="0.47"/><circle cx="2560.5" cy="1263.7" r="4.5" fill-opacity="0.25" stroke-opacity="0.34"/><circle cx="2619.4" cy="1254.8" r="4.5" fill-opacity="0.32" stroke-opacity="0.43"/><circle cx="2681.7" cy="1238.7" r="4.5" fill-opacity="0.36" stroke-opacity="0.49"/><circle cx="2582.7" cy="1246.0" r="4.5" fill-opacity="0.31" stroke-opacity="0.42"/><circle cx="2626.9" cy="1330.9" r="4.5" fill-opacity="0.30" stroke-opacity="0.40"/><circle cx="2555.2" cy="1277.3" r="4.5" fill-opacity="0.33" stroke-opacity="0.45"/><circle cx="2626.2" cy="1224.2" r="4.5" fill-opacity="0.23" stroke-opacity="0.31"/><circle cx="2596.7" cy="1227.9" r="4.5" fill-opacity="0.23" stroke-opacity="0.32"/><circle cx="2702.0" cy="1282.3" r="4.5" fill-opacity="0.24" stroke-opacity="0.32"/><circle cx="2713.9" cy="1229.1" r="4.5" fill-opacity="0.27" stroke-opacity="0.37"/><circle cx="2691.2" cy="1224.8" r="4.5" fill-opacity="0.29" stroke-opacity="0.40"/><circle cx="2674.2" cy="1221.9" r="4.5" fill-opacity="0.28" stroke-opacity="0.37"/><circle cx="2654.4" cy="1197.2" r="4.5" fill-opacity="0.28" stroke-opacity="0.38"/><circle cx="2555.3" cy="1271.4" r="4.5" fill-opacity="0.34" stroke-opacity="0.47"/><circle cx="2669.8" cy="1231.6" r="4.5" fill-opacity="0.36" stroke-opacity="0.49"/><circle cx="2598.5" cy="1296.9" r="4.5" fill-opacity="0.35" stroke-opacity="0.47"/><circle cx="2590.8" cy="1289.9" r="4.5" fill-opacity="0.35" stroke-opacity="0.47"/><circle cx="2659.6" cy="1319.6" r="4.5" fill-opacity="0.23" stroke-opacity="0.31"/><circle cx="2688.7" cy="1311.9" r="4.5" fill-opacity="0.28" stroke-opacity="0.38"/><circle cx="2579.7" cy="1268.3" r="4.5" fill-opacity="0.29" stroke-opacity="0.39"/><circle cx="2650.4" cy="1229.5" r="4.5" fill-opacity="0.33" stroke-opacity="0.45"/><circle cx="2670.8" cy="1299.8" r="4.5" fill-opacity="0.30" stroke-opacity="0.40"/><circle cx="2717.0" cy="1311.5" r="4.5" fill-opacity="0.33" stroke-opacity="0.44"/><circle cx="2640.2" cy="1310.0" r="4.5" fill-opacity="0.36" stroke-opacity="0.49"/><circle cx="2671.4" cy="1253.1" r="4.5" fill-opacity="0.32" stroke-opacity="0.44"/><circle cx="2624.5" cy="1271.2" r="4.5" fill-opacity="0.26" stroke-opacity="0.35"/><circle cx="2562.7" cy="1246.3" r="4.5" fill-opacity="0.38" stroke-opacity="0.52"/><circle cx="2606.1" cy="1302.4" r="4.5" fill-opacity="0.37" stroke-opacity="0.50"/><circle cx="2665.9" cy="1219.5" r="4.5" fill-opacity="0.31" stroke-opacity="0.41"/><circle cx="2672.6" cy="1257.8" r="4.5" fill-opacity="0.35" stroke-opacity="0.48"/><circle cx="2704.5" cy="1244.3" r="4.5" fill-opacity="0.23" stroke-opacity="0.31"/><circle cx="2580.5" cy="1251.2" r="4.5" fill-opacity="0.33" stroke-opacity="0.44"/><circle cx="2611.1" cy="1235.1" r="4.5" fill-opacity="0.33" stroke-opacity="0.44"/><circle cx="2638.5" cy="1315.3" r="4.5" fill-opacity="0.39" stroke-opacity="0.52"/><circle cx="2642.9" cy="1274.8" r="4.5" fill-opacity="0.35" stroke-opacity="0.47"/><circle cx="2704.5" cy="1319.9" r="4.5" fill-opacity="0.22" stroke-opacity="0.30"/><circle cx="2633.5" cy="1254.8" r="4.5" fill-opacity="0.31" stroke-opacity="0.42"/><circle cx="2654.0" cy="1291.7" r="4.5" fill-opacity="0.39" stroke-opacity="0.53"/><circle cx="2628.8" cy="1314.4" r="4.5" fill-opacity="0.24" stroke-opacity="0.33"/><circle cx="2609.9" cy="1280.7" r="4.5" fill-opacity="0.34" stroke-opacity="0.46"/><circle cx="2645.3" cy="1331.8" r="4.5" fill-opacity="0.28" stroke-opacity="0.38"/><circle cx="2676.1" cy="1323.6" r="4.5" fill-opacity="0.29" stroke-opacity="0.40"/><circle cx="2691.3" cy="1209.8" r="4.5" fill-opacity="0.38" stroke-opacity="0.52"/><circle cx="2722.5" cy="1307.8" r="4.5" fill-opacity="0.37" stroke-opacity="0.50"/><circle cx="2639.3" cy="1241.1" r="4.5" fill-opacity="0.28" stroke-opacity="0.38"/><circle cx="2624.7" cy="1327.1" r="4.5" fill-opacity="0.34" stroke-opacity="0.46"/><circle cx="2712.7" cy="1229.8" r="4.5" fill-opacity="0.27" stroke-opacity="0.36"/><circle cx="2583.4" cy="1310.1" r="4.5" fill-opacity="0.32" stroke-opacity="0.43"/><circle cx="2669.0" cy="1316.4" r="4.5" fill-opacity="0.25" stroke-opacity="0.34"/><circle cx="2645.0" cy="1216.9" r="4.5" fill-opacity="0.36" stroke-opacity="0.49"/><circle cx="2575.4" cy="1256.5" r="4.5" fill-opacity="0.24" stroke-opacity="0.33"/><circle cx="2599.9" cy="1308.7" r="4.5" fill-opacity="0.23" stroke-opacity="0.31"/><circle cx="2635.6" cy="1231.7" r="4.5" fill-opacity="0.22" stroke-opacity="0.30"/><circle cx="2626.7" cy="1266.7" r="4.5" fill-opacity="0.37" stroke-opacity="0.50"/><circle cx="2618.5" cy="1212.1" r="4.5" fill-opacity="0.34" stroke-opacity="0.46"/><circle cx="2626.3" cy="1211.6" r="4.5" fill-opacity="0.34" stroke-opacity="0.46"/><circle cx="2598.2" cy="1265.9" r="4.5" fill-opacity="0.38" stroke-opacity="0.52"/><circle cx="2643.4" cy="1225.8" r="4.5" fill-opacity="0.35" stroke-opacity="0.47"/><circle cx="2600.8" cy="1234.1" r="4.5" fill-opacity="0.23" stroke-opacity="0.31"/><circle cx="2585.1" cy="1291.1" r="4.5" fill-opacity="0.23" stroke-opacity="0.31"/><circle cx="2696.5" cy="1265.3" r="4.5" fill-opacity="0.23" stroke-opacity="0.31"/><circle cx="2702.7" cy="1303.5" r="4.5" fill-opacity="0.24" stroke-opacity="0.32"/><circle cx="2659.1" cy="1281.3" r="4.5" fill-opacity="0.24" stroke-opacity="0.32"/><circle cx="2607.9" cy="1280.5" r="4.5" fill-opacity="0.27" stroke-opacity="0.36"/><circle cx="2585.0" cy="1265.9" r="4.5" fill-opacity="0.28" stroke-opacity="0.37"/><circle cx="2616.1" cy="1288.8" r="4.5" fill-opacity="0.32" stroke-opacity="0.43"/><circle cx="2561.4" cy="1272.0" r="4.5" fill-opacity="0.30" stroke-opacity="0.41"/><circle cx="2566.4" cy="1302.1" r="4.5" fill-opacity="0.35" stroke-opacity="0.48"/><circle cx="2573.4" cy="1294.2" r="4.5" fill-opacity="0.29" stroke-opacity="0.40"/><circle cx="2567.2" cy="1284.0" r="4.5" fill-opacity="0.40" stroke-opacity="0.54"/><circle cx="2619.2" cy="1305.8" r="4.5" fill-opacity="0.35" stroke-opacity="0.47"/><circle cx="2723.0" cy="1307.1" r="4.5" fill-opacity="0.22" stroke-opacity="0.30"/><circle cx="2564.1" cy="1278.2" r="4.5" fill-opacity="0.30" stroke-opacity="0.40"/><circle cx="2659.1" cy="1328.6" r="4.5" fill-opacity="0.27" stroke-opacity="0.37"/><circle cx="2672.8" cy="1269.7" r="4.5" fill-opacity="0.36" stroke-opacity="0.49"/><circle cx="2665.0" cy="1198.6" r="4.5" fill-opacity="0.23" stroke-opacity="0.31"/><circle cx="2643.2" cy="1213.5" r="4.5" fill-opacity="0.38" stroke-opacity="0.51"/><circle cx="2597.8" cy="1244.7" r="4.5" fill-opacity="0.33" stroke-opacity="0.45"/><circle cx="2633.9" cy="1262.3" r="4.5" fill-opacity="0.38" stroke-opacity="0.51"/><circle cx="2670.6" cy="1244.3" r="4.5" fill-opacity="0.28" stroke-opacity="0.38"/><circle cx="2578.3" cy="1230.4" r="4.5" fill-opacity="0.39" stroke-opacity="0.52"/><circle cx="2626.0" cy="1307.1" r="4.5" fill-opacity="0.23" stroke-opacity="0.31"/><circle cx="2652.6" cy="1322.9" r="4.5" fill-opacity="0.35" stroke-opacity="0.47"/><circle cx="2596.7" cy="1294.7" r="4.5" fill-opacity="0.24" stroke-opacity="0.32"/><circle cx="2613.4" cy="1229.2" r="4.5" fill-opacity="0.38" stroke-opacity="0.52"/><circle cx="2573.7" cy="1235.5" r="4.5" fill-opacity="0.28" stroke-opacity="0.37"/><circle cx="2693.1" cy="1316.7" r="4.5" fill-opacity="0.33" stroke-opacity="0.45"/><circle cx="2580.9" cy="1264.8" r="4.5" fill-opacity="0.27" stroke-opacity="0.37"/><circle cx="2606.5" cy="1240.5" r="4.5" fill-opacity="0.34" stroke-opacity="0.45"/><circle cx="2698.9" cy="1295.3" r="4.5" fill-opacity="0.30" stroke-opacity="0.41"/><circle cx="2705.6" cy="1301.6" r="4.5" fill-opacity="0.27" stroke-opacity="0.36"/><circle cx="2621.7" cy="1324.2" r="4.5" fill-opacity="0.23" stroke-opacity="0.31"/><circle cx="2661.8" cy="1266.0" r="4.5" fill-opacity="0.39" stroke-opacity="0.52"/><circle cx="2600.3" cy="1280.8" r="4.5" fill-opacity="0.30" stroke-opacity="0.41"/><circle cx="2677.1" cy="1258.4" r="4.5" fill-opacity="0.28" stroke-opacity="0.38"/><circle cx="2677.5" cy="1281.3" r="4.5" fill-opacity="0.36" stroke-opacity="0.48"/><circle cx="2567.8" cy="1242.5" r="4.5" fill-opacity="0.35" stroke-opacity="0.47"/><circle cx="2683.1" cy="1237.4" r="4.5" fill-opacity="0.37" stroke-opacity="0.50"/><circle cx="2599.7" cy="1230.8" r="4.5" fill-opacity="0.36" stroke-opacity="0.48"/><circle cx="2642.8" cy="1293.5" r="4.5" fill-opacity="0.38" stroke-opacity="0.51"/><circle cx="2652.6" cy="1280.2" r="4.5" fill-opacity="0.36" stroke-opacity="0.49"/><circle cx="2656.7" cy="1305.2" r="4.5" fill-opacity="0.33" stroke-opacity="0.45"/><circle cx="2650.8" cy="1319.7" r="4.5" fill-opacity="0.36" stroke-opacity="0.49"/><circle cx="2621.2" cy="1294.2" r="4.5" fill-opacity="0.38" stroke-opacity="0.52"/><circle cx="2679.4" cy="1301.5" r="4.5" fill-opacity="0.25" stroke-opacity="0.34"/><circle cx="2584.7" cy="1298.0" r="4.5" fill-opacity="0.29" stroke-opacity="0.39"/><circle cx="2619.0" cy="1283.1" r="4.5" fill-opacity="0.30" stroke-opacity="0.41"/><circle cx="2693.4" cy="1231.2" r="4.5" fill-opacity="0.34" stroke-opacity="0.46"/><circle cx="2661.6" cy="1301.8" r="4.5" fill-opacity="0.26" stroke-opacity="0.35"/><circle cx="2631.3" cy="1233.8" r="4.5" fill-opacity="0.32" stroke-opacity="0.43"/><circle cx="2636.0" cy="1207.8" r="4.5" fill-opacity="0.29" stroke-opacity="0.39"/><circle cx="2645.5" cy="1265.8" r="4.5" fill-opacity="0.25" stroke-opacity="0.34"/><circle cx="2624.9" cy="1220.2" r="4.5" fill-opacity="0.26" stroke-opacity="0.35"/><circle cx="2652.5" cy="1328.6" r="4.5" fill-opacity="0.39" stroke-opacity="0.53"/><circle cx="2636.1" cy="1301.2" r="4.5" fill-opacity="0.26" stroke-opacity="0.35"/><circle cx="2707.0" cy="1327.3" r="4.5" fill-opacity="0.26" stroke-opacity="0.35"/><circle cx="2594.6" cy="1266.8" r="4.5" fill-opacity="0.29" stroke-opacity="0.39"/><circle cx="2689.4" cy="1283.8" r="4.5" fill-opacity="0.24" stroke-opacity="0.32"/><circle cx="2623.6" cy="1268.4" r="4.5" fill-opacity="0.27" stroke-opacity="0.37"/><circle cx="2708.5" cy="1305.8" r="4.5" fill-opacity="0.38" stroke-opacity="0.52"/><circle cx="2701.0" cy="1311.7" r="4.5" fill-opacity="0.29" stroke-opacity="0.39"/><circle cx="2670.7" cy="1230.3" r="4.5" fill-opacity="0.32" stroke-opacity="0.43"/><circle cx="2581.2" cy="1287.9" r="4.5" fill-opacity="0.31" stroke-opacity="0.42"/><circle cx="2704.9" cy="1229.9" r="4.5" fill-opacity="0.37" stroke-opacity="0.50"/><circle cx="2658.3" cy="1250.7" r="4.5" fill-opacity="0.35" stroke-opacity="0.47"/><circle cx="2588.9" cy="1227.8" r="4.5" fill-opacity="0.34" stroke-opacity="0.46"/><circle cx="2567.3" cy="1298.2" r="4.5" fill-opacity="0.28" stroke-opacity="0.38"/><circle cx="2679.1" cy="1209.3" r="4.5" fill-opacity="0.31" stroke-opacity="0.42"/><circle cx="2581.3" cy="1309.6" r="4.5" fill-opacity="0.23" stroke-opacity="0.31"/><circle cx="2603.1" cy="1221.9" r="4.5" fill-opacity="0.24" stroke-opacity="0.33"/><circle cx="2616.2" cy="1310.3" r="4.5" fill-opacity="0.32" stroke-opacity="0.43"/><circle cx="2661.2" cy="1276.2" r="4.5" fill-opacity="0.37" stroke-opacity="0.50"/><circle cx="2670.8" cy="1309.3" r="4.5" fill-opacity="0.29" stroke-opacity="0.39"/><circle cx="2624.4" cy="1220.1" r="4.5" fill-opacity="0.23" stroke-opacity="0.31"/><circle cx="2598.2" cy="1334.6" r="4.5" fill-opacity="0.35" stroke-opacity="0.47"/><circle cx="2562.5" cy="1288.7" r="4.5" fill-opacity="0.28" stroke-opacity="0.38"/><circle cx="2612.9" cy="1255.2" r="4.5" fill-opacity="0.28" stroke-opacity="0.38"/><circle cx="2695.1" cy="1221.1" r="4.5" fill-opacity="0.38" stroke-opacity="0.52"/><circle cx="2568.8" cy="1306.1" r="4.5" fill-opacity="0.31" stroke-opacity="0.43"/><circle cx="2615.2" cy="1249.3" r="4.5" fill-opacity="0.39" stroke-opacity="0.53"/><circle cx="2652.0" cy="1318.3" r="4.5" fill-opacity="0.40" stroke-opacity="0.54"/><circle cx="2703.4" cy="1232.4" r="4.5" fill-opacity="0.23" stroke-opacity="0.30"/><circle cx="2628.7" cy="1273.2" r="4.5" fill-opacity="0.35" stroke-opacity="0.48"/><circle cx="2679.8" cy="1310.5" r="4.5" fill-opacity="0.32" stroke-opacity="0.43"/><circle cx="2692.5" cy="1302.0" r="4.5" fill-opacity="0.23" stroke-opacity="0.31"/><circle cx="2625.4" cy="1261.1" r="4.5" fill-opacity="0.34" stroke-opacity="0.46"/><circle cx="2666.9" cy="1284.7" r="4.5" fill-opacity="0.29" stroke-opacity="0.39"/><circle cx="2696.5" cy="1256.3" r="4.5" fill-opacity="0.33" stroke-opacity="0.45"/><circle cx="2713.7" cy="1322.3" r="4.5" fill-opacity="0.24" stroke-opacity="0.32"/><circle cx="2666.8" cy="1295.3" r="4.5" fill-opacity="0.24" stroke-opacity="0.33"/><circle cx="2579.3" cy="1287.5" r="4.5" fill-opacity="0.34" stroke-opacity="0.46"/><circle cx="2607.6" cy="1243.5" r="4.5" fill-opacity="0.32" stroke-opacity="0.43"/><circle cx="2620.5" cy="1267.2" r="4.5" fill-opacity="0.25" stroke-opacity="0.33"/><circle cx="2666.9" cy="1286.4" r="4.5" fill-opacity="0.33" stroke-opacity="0.45"/><circle cx="2678.6" cy="1247.8" r="4.5" fill-opacity="0.34" stroke-opacity="0.46"/><circle cx="2682.1" cy="1317.4" r="4.5" fill-opacity="0.32" stroke-opacity="0.43"/><circle cx="2594.2" cy="1282.3" r="4.5" fill-opacity="0.35" stroke-opacity="0.47"/><circle cx="2649.3" cy="1297.7" r="4.5" fill-opacity="0.24" stroke-opacity="0.33"/><circle cx="2584.2" cy="1267.7" r="4.5" fill-opacity="0.39" stroke-opacity="0.53"/><circle cx="2725.0" cy="1224.5" r="4.5" fill-opacity="0.25" stroke-opacity="0.33"/><circle cx="2673.9" cy="1237.0" r="4.5" fill-opacity="0.24" stroke-opacity="0.32"/><circle cx="2675.9" cy="1270.8" r="4.5" fill-opacity="0.32" stroke-opacity="0.44"/><circle cx="2661.4" cy="1329.2" r="4.5" fill-opacity="0.37" stroke-opacity="0.50"/><circle cx="2650.6" cy="1203.3" r="4.5" fill-opacity="0.37" stroke-opacity="0.50"/><circle cx="2683.5" cy="1222.5" r="4.5" fill-opacity="0.30" stroke-opacity="0.40"/><circle cx="2672.7" cy="1226.3" r="4.5" fill-opacity="0.29" stroke-opacity="0.39"/><circle cx="2635.8" cy="1210.2" r="4.5" fill-opacity="0.34" stroke-opacity="0.47"/><circle cx="2683.8" cy="1269.6" r="4.5" fill-opacity="0.24" stroke-opacity="0.32"/><circle cx="2588.5" cy="1272.4" r="4.5" fill-opacity="0.34" stroke-opacity="0.46"/><circle cx="2654.7" cy="1320.3" r="4.5" fill-opacity="0.23" stroke-opacity="0.30"/><circle cx="2578.0" cy="1237.8" r="4.5" fill-opacity="0.22" stroke-opacity="0.30"/><circle cx="2617.3" cy="1230.4" r="4.5" fill-opacity="0.32" stroke-opacity="0.44"/><circle cx="2612.5" cy="1254.1" r="4.5" fill-opacity="0.32" stroke-opacity="0.43"/><circle cx="2712.3" cy="1317.1" r="4.5" fill-opacity="0.29" stroke-opacity="0.39"/><circle cx="2602.5" cy="1284.0" r="4.5" fill-opacity="0.27" stroke-opacity="0.36"/><circle cx="2650.7" cy="1296.3" r="4.5" fill-opacity="0.37" stroke-opacity="0.50"/><circle cx="2621.8" cy="1284.5" r="4.5" fill-opacity="0.33" stroke-opacity="0.45"/><circle cx="2665.0" cy="1312.7" r="4.5" fill-opacity="0.27" stroke-opacity="0.36"/><circle cx="2621.7" cy="1286.7" r="4.5" fill-opacity="0.25" stroke-opacity="0.33"/><circle cx="2645.9" cy="1273.6" r="4.5" fill-opacity="0.34" stroke-opacity="0.47"/><circle cx="2622.4" cy="1298.2" r="4.5" fill-opacity="0.39" stroke-opacity="0.53"/><circle cx="2598.7" cy="1274.9" r="4.5" fill-opacity="0.36" stroke-opacity="0.49"/><circle cx="2687.4" cy="1329.7" r="4.5" fill-opacity="0.26" stroke-opacity="0.35"/><circle cx="2595.6" cy="1377.8" r="4.5" fill-opacity="0.24" stroke-opacity="0.32"/><circle cx="2596.6" cy="1369.9" r="4.5" fill-opacity="0.33" stroke-opacity="0.45"/><circle cx="2593.6" cy="1374.9" r="4.5" fill-opacity="0.24" stroke-opacity="0.32"/><circle cx="2697.6" cy="1350.1" r="4.5" fill-opacity="0.36" stroke-opacity="0.49"/><circle cx="2669.9" cy="1348.1" r="4.5" fill-opacity="0.24" stroke-opacity="0.32"/><circle cx="2670.9" cy="1353.1" r="4.5" fill-opacity="0.28" stroke-opacity="0.37"/><circle cx="2702.5" cy="1348.1" r="4.5" fill-opacity="0.24" stroke-opacity="0.32"/><circle cx="2708.5" cy="1265.8" r="4.5" fill-opacity="0.23" stroke-opacity="0.30"/><circle cx="2709.5" cy="1275.7" r="4.5" fill-opacity="0.26" stroke-opacity="0.35"/><circle cx="2821.4" cy="1191.4" r="4.5" fill-opacity="0.27" stroke-opacity="0.36"/><circle cx="2923.4" cy="1186.5" r="4.5" fill-opacity="0.35" stroke-opacity="0.47"/><circle cx="2892.7" cy="1156.7" r="4.5" fill-opacity="0.31" stroke-opacity="0.42"/><circle cx="2898.6" cy="1161.7" r="4.5" fill-opacity="0.38" stroke-opacity="0.51"/><circle cx="2596.4" cy="1426.2" r="4.5" fill-opacity="0.29" stroke-opacity="0.39"/><circle cx="2603.5" cy="1408.6" r="4.5" fill-opacity="0.31" stroke-opacity="0.42"/><circle cx="2605.0" cy="1399.3" r="4.5" fill-opacity="0.34" stroke-opacity="0.46"/><circle cx="2596.1" cy="1432.6" r="4.5" fill-opacity="0.31" stroke-opacity="0.42"/><circle cx="2594.9" cy="1413.8" r="4.5" fill-opacity="0.29" stroke-opacity="0.39"/><circle cx="2587.7" cy="1422.1" r="4.5" fill-opacity="0.35" stroke-opacity="0.48"/><circle cx="2602.2" cy="1424.1" r="4.5" fill-opacity="0.36" stroke-opacity="0.49"/><circle cx="2598.3" cy="1424.6" r="4.5" fill-opacity="0.38" stroke-opacity="0.51"/><circle cx="2605.9" cy="1401.2" r="4.5" fill-opacity="0.26" stroke-opacity="0.35"/><circle cx="2594.6" cy="1424.1" r="4.5" fill-opacity="0.30" stroke-opacity="0.41"/></g>
<g fill="#e0703a" stroke="#e0703a" stroke-width="1"><circle cx="2818.0" cy="1176.9" r="4.5" fill-opacity="0.92" stroke-opacity="1.00"/><circle cx="2919.1" cy="1159.8" r="4.5" fill-opacity="0.97" stroke-opacity="1.00"/><circle cx="2866.5" cy="1191.4" r="4.5" fill-opacity="0.89" stroke-opacity="1.00"/><circle cx="2911.7" cy="1136.8" r="4.5" fill-opacity="0.89" stroke-opacity="1.00"/><circle cx="2867.3" cy="1148.9" r="4.5" fill-opacity="0.96" stroke-opacity="1.00"/><circle cx="2894.3" cy="1142.8" r="4.5" fill-opacity="0.98" stroke-opacity="1.00"/><circle cx="2833.4" cy="1188.6" r="4.5" fill-opacity="0.97" stroke-opacity="1.00"/><circle cx="2884.0" cy="1157.4" r="4.5" fill-opacity="0.86" stroke-opacity="1.00"/><circle cx="2861.3" cy="1189.4" r="4.5" fill-opacity="0.92" stroke-opacity="1.00"/><circle cx="2841.0" cy="1151.6" r="4.5" fill-opacity="0.90" stroke-opacity="1.00"/><circle cx="2863.1" cy="1152.3" r="4.5" fill-opacity="0.97" stroke-opacity="1.00"/><circle cx="2847.0" cy="1177.2" r="4.5" fill-opacity="0.92" stroke-opacity="1.00"/><circle cx="2867.3" cy="1184.7" r="4.5" fill-opacity="0.88" stroke-opacity="1.00"/><circle cx="2818.1" cy="1189.6" r="4.5" fill-opacity="0.85" stroke-opacity="1.00"/><circle cx="2923.8" cy="1161.9" r="4.5" fill-opacity="0.99" stroke-opacity="1.00"/><circle cx="2912.8" cy="1178.8" r="4.5" fill-opacity="0.98" stroke-opacity="1.00"/><circle cx="2861.7" cy="1167.6" r="4.5" fill-opacity="0.93" stroke-opacity="1.00"/><circle cx="2903.2" cy="1196.8" r="4.5" fill-opacity="0.95" stroke-opacity="1.00"/><circle cx="2831.7" cy="1165.9" r="4.5" fill-opacity="0.93" stroke-opacity="1.00"/><circle cx="2895.9" cy="1159.6" r="4.5" fill-opacity="0.90" stroke-opacity="1.00"/><circle cx="2832.5" cy="1165.5" r="4.5" fill-opacity="0.90" stroke-opacity="1.00"/><circle cx="2890.2" cy="1149.9" r="4.5" fill-opacity="0.93" stroke-opacity="1.00"/><circle cx="2853.8" cy="1167.2" r="4.5" fill-opacity="0.90" stroke-opacity="1.00"/><circle cx="2872.8" cy="1189.6" r="4.5" fill-opacity="0.93" stroke-opacity="1.00"/><circle cx="2838.5" cy="1158.2" r="4.5" fill-opacity="0.92" stroke-opacity="1.00"/><circle cx="2921.7" cy="1171.2" r="4.5" fill-opacity="0.92" stroke-opacity="1.00"/><circle cx="2920.9" cy="1156.3" r="4.5" fill-opacity="0.86" stroke-opacity="1.00"/><circle cx="2819.7" cy="1174.9" r="4.5" fill-opacity="0.96" stroke-opacity="1.00"/><circle cx="2835.5" cy="1146.0" r="4.5" fill-opacity="0.96" stroke-opacity="1.00"/><circle cx="2895.9" cy="1168.6" r="4.5" fill-opacity="0.97" stroke-opacity="1.00"/><circle cx="2886.6" cy="1190.2" r="4.5" fill-opacity="0.88" stroke-opacity="1.00"/><circle cx="2817.5" cy="1191.8" r="4.5" fill-opacity="0.92" stroke-opacity="1.00"/><circle cx="2826.8" cy="1183.2" r="4.5" fill-opacity="0.94" stroke-opacity="1.00"/><circle cx="2851.6" cy="1160.5" r="4.5" fill-opacity="0.96" stroke-opacity="1.00"/><circle cx="2854.0" cy="1184.2" r="4.5" fill-opacity="0.92" stroke-opacity="1.00"/><circle cx="2875.4" cy="1179.1" r="4.5" fill-opacity="0.92" stroke-opacity="1.00"/><circle cx="2900.6" cy="1178.8" r="4.5" fill-opacity="1.00" stroke-opacity="1.00"/><circle cx="2851.3" cy="1150.9" r="4.5" fill-opacity="0.92" stroke-opacity="1.00"/><circle cx="2890.1" cy="1182.1" r="4.5" fill-opacity="1.00" stroke-opacity="1.00"/><circle cx="2864.6" cy="1170.7" r="4.5" fill-opacity="0.92" stroke-opacity="1.00"/><circle cx="2846.5" cy="1158.3" r="4.5" fill-opacity="0.89" stroke-opacity="1.00"/><circle cx="2874.7" cy="1165.9" r="4.5" fill-opacity="0.90" stroke-opacity="1.00"/><circle cx="2892.2" cy="1147.2" r="4.5" fill-opacity="0.96" stroke-opacity="1.00"/><circle cx="2843.0" cy="1180.2" r="4.5" fill-opacity="0.92" stroke-opacity="1.00"/><circle cx="2889.3" cy="1155.5" r="4.5" fill-opacity="0.97" stroke-opacity="1.00"/><circle cx="2861.0" cy="1119.0" r="4.5" fill-opacity="0.96" stroke-opacity="1.00"/><circle cx="2909.5" cy="1136.9" r="4.5" fill-opacity="0.93" stroke-opacity="1.00"/><circle cx="2823.4" cy="1186.5" r="4.5" fill-opacity="0.96" stroke-opacity="1.00"/><circle cx="2836.2" cy="1189.4" r="4.5" fill-opacity="0.89" stroke-opacity="1.00"/><circle cx="2849.1" cy="1195.4" r="4.5" fill-opacity="0.88" stroke-opacity="1.00"/><circle cx="2865.9" cy="1199.3" r="4.5" fill-opacity="0.97" stroke-opacity="1.00"/><circle cx="2885.7" cy="1196.4" r="4.5" fill-opacity="0.86" stroke-opacity="1.00"/><circle cx="2926.3" cy="1176.5" r="4.5" fill-opacity="0.86" stroke-opacity="1.00"/><circle cx="2890.7" cy="1146.8" r="4.5" fill-opacity="0.86" stroke-opacity="1.00"/></g>
<g fill="#2c5fd8" stroke="#2c5fd8" stroke-width="1"><circle cx="2559.0" cy="1246.0" r="4.5" fill-opacity="0.93" stroke-opacity="1.00"/><circle cx="2563.9" cy="1255.9" r="4.5" fill-opacity="0.89" stroke-opacity="1.00"/><circle cx="2556.0" cy="1260.8" r="4.5" fill-opacity="0.90" stroke-opacity="1.00"/><circle cx="2565.9" cy="1236.0" r="4.5" fill-opacity="0.96" stroke-opacity="1.00"/><circle cx="2573.8" cy="1233.1" r="4.5" fill-opacity="0.90" stroke-opacity="1.00"/><circle cx="2581.7" cy="1231.1" r="4.5" fill-opacity="0.94" stroke-opacity="1.00"/><circle cx="2585.7" cy="1229.1" r="4.5" fill-opacity="0.95" stroke-opacity="1.00"/><circle cx="2546.1" cy="1280.7" r="4.5" fill-opacity="0.99" stroke-opacity="1.00"/><circle cx="2560.9" cy="1267.8" r="4.5" fill-opacity="0.92" stroke-opacity="1.00"/><circle cx="2556.0" cy="1282.7" r="4.5" fill-opacity="0.89" stroke-opacity="1.00"/><circle cx="2563.9" cy="1290.6" r="4.5" fill-opacity="0.98" stroke-opacity="1.00"/><circle cx="2568.9" cy="1295.5" r="4.5" fill-opacity="0.90" stroke-opacity="1.00"/><circle cx="2559.0" cy="1302.5" r="4.5" fill-opacity="0.97" stroke-opacity="1.00"/><circle cx="2598.6" cy="1290.6" r="4.5" fill-opacity="0.90" stroke-opacity="1.00"/><circle cx="2603.5" cy="1300.5" r="4.5" fill-opacity="0.88" stroke-opacity="1.00"/><circle cx="2631.2" cy="1283.6" r="4.5" fill-opacity="0.98" stroke-opacity="1.00"/><circle cx="2643.1" cy="1300.5" r="4.5" fill-opacity="0.96" stroke-opacity="1.00"/><circle cx="2658.0" cy="1302.5" r="4.5" fill-opacity="0.89" stroke-opacity="1.00"/><circle cx="2664.9" cy="1290.6" r="4.5" fill-opacity="0.91" stroke-opacity="1.00"/><circle cx="2669.9" cy="1260.8" r="4.5" fill-opacity="0.97" stroke-opacity="1.00"/><circle cx="2682.7" cy="1250.9" r="4.5" fill-opacity="0.89" stroke-opacity="1.00"/><circle cx="2667.9" cy="1275.7" r="4.5" fill-opacity="0.99" stroke-opacity="1.00"/><circle cx="2658.0" cy="1265.8" r="4.5" fill-opacity="0.89" stroke-opacity="1.00"/><circle cx="2618.4" cy="1207.3" r="4.5" fill-opacity="0.95" stroke-opacity="1.00"/><circle cx="2621.3" cy="1205.3" r="4.5" fill-opacity="0.90" stroke-opacity="1.00"/><circle cx="2662.9" cy="1196.4" r="4.5" fill-opacity="0.95" stroke-opacity="1.00"/><circle cx="2667.9" cy="1193.4" r="4.5" fill-opacity="0.90" stroke-opacity="1.00"/><circle cx="2692.6" cy="1220.2" r="4.5" fill-opacity="0.89" stroke-opacity="1.00"/><circle cx="2696.6" cy="1237.0" r="4.5" fill-opacity="0.92" stroke-opacity="1.00"/><circle cx="2702.5" cy="1241.0" r="4.5" fill-opacity="0.97" stroke-opacity="1.00"/><circle cx="2710.5" cy="1234.1" r="4.5" fill-opacity="0.94" stroke-opacity="1.00"/><circle cx="2715.4" cy="1221.2" r="4.5" fill-opacity="0.95" stroke-opacity="1.00"/><circle cx="2720.4" cy="1231.1" r="4.5" fill-opacity="0.94" stroke-opacity="1.00"/><circle cx="2693.6" cy="1305.5" r="4.5" fill-opacity="0.95" stroke-opacity="1.00"/><circle cx="2694.6" cy="1317.4" r="4.5" fill-opacity="0.90" stroke-opacity="1.00"/><circle cx="2708.5" cy="1315.4" r="4.5" fill-opacity="0.93" stroke-opacity="1.00"/><circle cx="2719.4" cy="1318.3" r="4.5" fill-opacity="0.89" stroke-opacity="1.00"/><circle cx="2726.3" cy="1319.3" r="4.5" fill-opacity="0.89" stroke-opacity="1.00"/><circle cx="2732.2" cy="1319.3" r="4.5" fill-opacity="0.91" stroke-opacity="1.00"/><circle cx="2654.0" cy="1325.3" r="4.5" fill-opacity="0.88" stroke-opacity="1.00"/><circle cx="2659.0" cy="1337.2" r="4.5" fill-opacity="0.90" stroke-opacity="1.00"/><circle cx="2629.3" cy="1328.3" r="4.5" fill-opacity="0.93" stroke-opacity="1.00"/><circle cx="2583.7" cy="1233.1" r="4.5" fill-opacity="0.88" stroke-opacity="1.00"/><circle cx="2591.6" cy="1258.8" r="4.5" fill-opacity="1.00" stroke-opacity="1.00"/><circle cx="2601.5" cy="1255.9" r="4.5" fill-opacity="0.99" stroke-opacity="1.00"/><circle cx="2605.5" cy="1262.8" r="4.5" fill-opacity="0.97" stroke-opacity="1.00"/><circle cx="2610.4" cy="1267.8" r="4.5" fill-opacity="0.91" stroke-opacity="1.00"/><circle cx="2623.3" cy="1247.9" r="4.5" fill-opacity="0.96" stroke-opacity="1.00"/><circle cx="2628.3" cy="1237.0" r="4.5" fill-opacity="0.90" stroke-opacity="1.00"/><circle cx="2571.8" cy="1243.0" r="4.5" fill-opacity="1.00" stroke-opacity="1.00"/><circle cx="2560.9" cy="1250.9" r="4.5" fill-opacity="0.97" stroke-opacity="1.00"/><circle cx="2578.8" cy="1246.0" r="4.5" fill-opacity="0.93" stroke-opacity="1.00"/><circle cx="2660.0" cy="1198.4" r="4.5" fill-opacity="0.93" stroke-opacity="1.00"/><circle cx="2677.8" cy="1195.4" r="4.5" fill-opacity="0.93" stroke-opacity="1.00"/><circle cx="2685.7" cy="1221.2" r="4.5" fill-opacity="0.98" stroke-opacity="1.00"/><circle cx="2701.6" cy="1229.1" r="4.5" fill-opacity="0.96" stroke-opacity="1.00"/><circle cx="2703.5" cy="1245.0" r="4.5" fill-opacity="0.89" stroke-opacity="1.00"/><circle cx="2599.2" cy="1412.1" r="4.5" fill-opacity="0.89" stroke-opacity="1.00"/><circle cx="2600.3" cy="1412.3" r="4.5" fill-opacity="0.98" stroke-opacity="1.00"/><circle cx="2602.4" cy="1408.2" r="4.5" fill-opacity="0.91" stroke-opacity="1.00"/><circle cx="2605.7" cy="1415.4" r="4.5" fill-opacity="0.93" stroke-opacity="1.00"/><circle cx="2597.3" cy="1417.1" r="4.5" fill-opacity="0.95" stroke-opacity="1.00"/><circle cx="2607.1" cy="1410.4" r="4.5" fill-opacity="0.92" stroke-opacity="1.00"/><circle cx="2601.7" cy="1406.7" r="4.5" fill-opacity="0.97" stroke-opacity="1.00"/><circle cx="2603.6" cy="1399.4" r="4.5" fill-opacity="0.96" stroke-opacity="1.00"/><circle cx="2596.2" cy="1414.9" r="4.5" fill-opacity="0.89" stroke-opacity="1.00"/><circle cx="2601.9" cy="1410.4" r="4.5" fill-opacity="0.95" stroke-opacity="1.00"/><circle cx="2597.7" cy="1428.1" r="4.5" fill-opacity="0.99" stroke-opacity="1.00"/><circle cx="2598.1" cy="1421.4" r="4.5" fill-opacity="0.96" stroke-opacity="1.00"/><circle cx="2598.7" cy="1408.5" r="4.5" fill-opacity="0.91" stroke-opacity="1.00"/><circle cx="2601.6" cy="1424.7" r="4.5" fill-opacity="0.91" stroke-opacity="1.00"/><circle cx="2853.1" cy="1127.0" r="4.5" fill-opacity="0.98" stroke-opacity="1.00"/><circle cx="2865.9" cy="1131.9" r="4.5" fill-opacity="0.97" stroke-opacity="1.00"/><circle cx="2875.8" cy="1123.0" r="4.5" fill-opacity="0.91" stroke-opacity="1.00"/><circle cx="2871.9" cy="1126.0" r="4.5" fill-opacity="0.94" stroke-opacity="1.00"/><circle cx="2844.1" cy="1132.9" r="4.5" fill-opacity="0.92" stroke-opacity="1.00"/><circle cx="2850.1" cy="1135.9" r="4.5" fill-opacity="0.98" stroke-opacity="1.00"/><circle cx="2855.0" cy="1136.9" r="4.5" fill-opacity="0.89" stroke-opacity="1.00"/><circle cx="2834.2" cy="1140.8" r="4.5" fill-opacity="0.88" stroke-opacity="1.00"/><circle cx="2907.5" cy="1139.8" r="4.5" fill-opacity="1.00" stroke-opacity="1.00"/><circle cx="2910.5" cy="1141.8" r="4.5" fill-opacity="0.91" stroke-opacity="1.00"/><circle cx="2816.4" cy="1167.6" r="4.5" fill-opacity="0.91" stroke-opacity="1.00"/><circle cx="2823.4" cy="1158.7" r="4.5" fill-opacity="0.98" stroke-opacity="1.00"/><circle cx="2820.4" cy="1178.5" r="4.5" fill-opacity="0.99" stroke-opacity="1.00"/><circle cx="2834.2" cy="1158.7" r="4.5" fill-opacity="0.95" stroke-opacity="1.00"/><circle cx="2833.3" cy="1169.6" r="4.5" fill-opacity="0.90" stroke-opacity="1.00"/><circle cx="2841.2" cy="1168.6" r="4.5" fill-opacity="0.91" stroke-opacity="1.00"/><circle cx="2846.1" cy="1173.6" r="4.5" fill-opacity="0.90" stroke-opacity="1.00"/><circle cx="2844.1" cy="1177.5" r="4.5" fill-opacity="0.88" stroke-opacity="1.00"/><circle cx="2853.1" cy="1178.5" r="4.5" fill-opacity="0.88" stroke-opacity="1.00"/><circle cx="2859.0" cy="1182.5" r="4.5" fill-opacity="0.93" stroke-opacity="1.00"/><circle cx="2867.9" cy="1172.6" r="4.5" fill-opacity="0.95" stroke-opacity="1.00"/><circle cx="2894.7" cy="1173.6" r="4.5" fill-opacity="0.90" stroke-opacity="1.00"/><circle cx="2904.6" cy="1174.6" r="4.5" fill-opacity="0.88" stroke-opacity="1.00"/><circle cx="2905.5" cy="1180.5" r="4.5" fill-opacity="0.90" stroke-opacity="1.00"/><circle cx="2904.6" cy="1188.4" r="4.5" fill-opacity="0.89" stroke-opacity="1.00"/><circle cx="2913.5" cy="1211.2" r="4.5" fill-opacity="0.89" stroke-opacity="1.00"/><circle cx="2862.0" cy="1166.6" r="4.5" fill-opacity="0.91" stroke-opacity="1.00"/><circle cx="2849.1" cy="1169.6" r="4.5" fill-opacity="0.91" stroke-opacity="1.00"/></g>
<circle cx="2905.5" cy="1196.4" r="4.6" fill="#3db135"/>
<rect x="2523.7" y="1101.9" width="422.7" height="345.1" fill="none" stroke="#333" stroke-width="1.6"/>
<line x1="2534.2" y1="1447" x2="2534.2" y2="1452" stroke="#333" stroke-width="1.3"/>
<text x="2534.2" y="1468" font-family="Liberation Sans" font-size="14.5" text-anchor="middle" fill="#222">−25</text>
<line x1="2583.7" y1="1447" x2="2583.7" y2="1452" stroke="#333" stroke-width="1.3"/>
<text x="2583.7" y="1468" font-family="Liberation Sans" font-size="14.5" text-anchor="middle" fill="#222">−20</text>
<line x1="2633.2" y1="1447" x2="2633.2" y2="1452" stroke="#333" stroke-width="1.3"/>
<text x="2633.2" y="1468" font-family="Liberation Sans" font-size="14.5" text-anchor="middle" fill="#222">−15</text>
<line x1="2682.7" y1="1447" x2="2682.7" y2="1452" stroke="#333" stroke-width="1.3"/>
<text x="2682.7" y="1468" font-family="Liberation Sans" font-size="14.5" text-anchor="middle" fill="#222">−10</text>
<line x1="2732.2" y1="1447" x2="2732.2" y2="1452" stroke="#333" stroke-width="1.3"/>
<text x="2732.2" y="1468" font-family="Liberation Sans" font-size="14.5" text-anchor="middle" fill="#222">−5</text>
<line x1="2781.8" y1="1447" x2="2781.8" y2="1452" stroke="#333" stroke-width="1.3"/>
<text x="2781.8" y="1468" font-family="Liberation Sans" font-size="14.5" text-anchor="middle" fill="#222">0</text>
<line x1="2831.3" y1="1447" x2="2831.3" y2="1452" stroke="#333" stroke-width="1.3"/>
<text x="2831.3" y="1468" font-family="Liberation Sans" font-size="14.5" text-anchor="middle" fill="#222">5</text>
<line x1="2880.8" y1="1447" x2="2880.8" y2="1452" stroke="#333" stroke-width="1.3"/>
<text x="2880.8" y="1468" font-family="Liberation Sans" font-size="14.5" text-anchor="middle" fill="#222">10</text>
<line x1="2930.3" y1="1447" x2="2930.3" y2="1452" stroke="#333" stroke-width="1.3"/>
<text x="2930.3" y="1468" font-family="Liberation Sans" font-size="14.5" text-anchor="middle" fill="#222">15</text>
<line x1="2518.7" y1="1419.5" x2="2523.7" y2="1419.5" stroke="#333" stroke-width="1.3"/>
<text x="2515.7" y="1424.5" font-family="Liberation Sans" font-size="14.5" text-anchor="end" fill="#222">45</text>
<line x1="2518.7" y1="1369.9" x2="2523.7" y2="1369.9" stroke="#333" stroke-width="1.3"/>
<text x="2515.7" y="1374.9" font-family="Liberation Sans" font-size="14.5" text-anchor="end" fill="#222">50</text>
<line x1="2518.7" y1="1320.3" x2="2523.7" y2="1320.3" stroke="#333" stroke-width="1.3"/>
<text x="2515.7" y="1325.3" font-family="Liberation Sans" font-size="14.5" text-anchor="end" fill="#222">55</text>
<line x1="2518.7" y1="1270.8" x2="2523.7" y2="1270.8" stroke="#333" stroke-width="1.3"/>
<text x="2515.7" y="1275.8" font-family="Liberation Sans" font-size="14.5" text-anchor="end" fill="#222">60</text>
<line x1="2518.7" y1="1221.2" x2="2523.7" y2="1221.2" stroke="#333" stroke-width="1.3"/>
<text x="2515.7" y="1226.2" font-family="Liberation Sans" font-size="14.5" text-anchor="end" fill="#222">65</text>
<line x1="2518.7" y1="1171.6" x2="2523.7" y2="1171.6" stroke="#333" stroke-width="1.3"/>
<text x="2515.7" y="1176.6" font-family="Liberation Sans" font-size="14.5" text-anchor="end" fill="#222">70</text>
<line x1="2518.7" y1="1122.0" x2="2523.7" y2="1122.0" stroke="#333" stroke-width="1.3"/>
<text x="2515.7" y="1127.0" font-family="Liberation Sans" font-size="14.5" text-anchor="end" fill="#222">75</text>
<rect x="2797" y="1353.5" width="132.4" height="79.3" rx="10" fill="#fff" fill-opacity="0.85" stroke="#888" stroke-width="1.5"/>
<circle cx="2816.5" cy="1367.8" r="4.5" fill="#2c5fd8"/>
<text x="2831.0" y="1372.3" font-family="Liberation Serif" font-size="13.5" fill="#111">Batch Targets</text>
<circle cx="2816.5" cy="1392.8" r="4.5" fill="#e0703a"/>
<text x="2831.0" y="1397.3" font-family="Liberation Serif" font-size="13.5" fill="#111">Beam Search</text>
<circle cx="2816.5" cy="1417.7" r="4.5" fill="#3db135"/>
<text x="2831.0" y="1422.2" font-family="Liberation Serif" font-size="13.5" fill="#111">Ground Truth</text>
<rect x="2871.3" y="1184.3" width="59.0" height="33.2" fill="none" stroke="#555" stroke-width="2.6" stroke-dasharray="7,3.5"/>
<g fill="#2c5fd8" stroke="#2c5fd8" stroke-width="1"><circle cx="3196.7" cy="1252.1" r="4.5" fill-opacity="0.38" stroke-opacity="0.52"/><circle cx="3264.5" cy="1213.6" r="4.5" fill-opacity="0.28" stroke-opacity="0.38"/><circle cx="3296.1" cy="1227.6" r="4.5" fill-opacity="0.24" stroke-opacity="0.32"/><circle cx="3214.0" cy="1173.5" r="4.5" fill-opacity="0.29" stroke-opacity="0.39"/><circle cx="3216.3" cy="1169.7" r="4.5" fill-opacity="0.37" stroke-opacity="0.51"/><circle cx="3313.9" cy="1231.7" r="4.5" fill-opacity="0.32" stroke-opacity="0.43"/><circle cx="3277.8" cy="1248.5" r="4.5" fill-opacity="0.37" stroke-opacity="0.51"/><circle cx="3185.1" cy="1210.3" r="4.5" fill-opacity="0.37" stroke-opacity="0.50"/><circle cx="3279.4" cy="1155.8" r="4.5" fill-opacity="0.35" stroke-opacity="0.47"/><circle cx="3212.9" cy="1197.8" r="4.5" fill-opacity="0.24" stroke-opacity="0.32"/><circle cx="3317.9" cy="1245.6" r="4.5" fill-opacity="0.27" stroke-opacity="0.36"/><circle cx="3202.5" cy="1230.1" r="4.5" fill-opacity="0.25" stroke-opacity="0.34"/><circle cx="3275.3" cy="1226.6" r="4.5" fill-opacity="0.32" stroke-opacity="0.43"/><circle cx="3264.7" cy="1210.8" r="4.5" fill-opacity="0.26" stroke-opacity="0.35"/><circle cx="3253.3" cy="1141.2" r="4.5" fill-opacity="0.26" stroke-opacity="0.35"/><circle cx="3263.0" cy="1158.8" r="4.5" fill-opacity="0.32" stroke-opacity="0.43"/><circle cx="3258.8" cy="1256.0" r="4.5" fill-opacity="0.30" stroke-opacity="0.41"/><circle cx="3227.4" cy="1172.4" r="4.5" fill-opacity="0.32" stroke-opacity="0.43"/><circle cx="3262.2" cy="1208.0" r="4.5" fill-opacity="0.34" stroke-opacity="0.46"/><circle cx="3201.5" cy="1235.8" r="4.5" fill-opacity="0.37" stroke-opacity="0.50"/><circle cx="3199.9" cy="1261.9" r="4.5" fill-opacity="0.24" stroke-opacity="0.33"/><circle cx="3282.4" cy="1184.1" r="4.5" fill-opacity="0.31" stroke-opacity="0.42"/><circle cx="3284.7" cy="1266.7" r="4.5" fill-opacity="0.26" stroke-opacity="0.36"/><circle cx="3274.4" cy="1144.0" r="4.5" fill-opacity="0.39" stroke-opacity="0.53"/><circle cx="3288.3" cy="1152.2" r="4.5" fill-opacity="0.38" stroke-opacity="0.52"/><circle cx="3226.4" cy="1225.6" r="4.5" fill-opacity="0.28" stroke-opacity="0.38"/><circle cx="3224.1" cy="1172.6" r="4.5" fill-opacity="0.40" stroke-opacity="0.54"/><circle cx="3222.2" cy="1174.2" r="4.5" fill-opacity="0.38" stroke-opacity="0.51"/><circle cx="3227.3" cy="1184.1" r="4.5" fill-opacity="0.37" stroke-opacity="0.49"/><circle cx="3334.9" cy="1237.6" r="4.5" fill-opacity="0.24" stroke-opacity="0.32"/><circle cx="3358.2" cy="1200.2" r="4.5" fill-opacity="0.27" stroke-opacity="0.36"/><circle cx="3261.1" cy="1144.4" r="4.5" fill-opacity="0.33" stroke-opacity="0.45"/><circle cx="3324.8" cy="1194.3" r="4.5" fill-opacity="0.27" stroke-opacity="0.37"/><circle cx="3276.6" cy="1145.7" r="4.5" fill-opacity="0.27" stroke-opacity="0.36"/><circle cx="3326.8" cy="1198.3" r="4.5" fill-opacity="0.22" stroke-opacity="0.30"/><circle cx="3241.1" cy="1202.2" r="4.5" fill-opacity="0.24" stroke-opacity="0.32"/><circle cx="3331.5" cy="1234.3" r="4.5" fill-opacity="0.39" stroke-opacity="0.52"/><circle cx="3291.3" cy="1223.8" r="4.5" fill-opacity="0.27" stroke-opacity="0.36"/><circle cx="3281.4" cy="1175.0" r="4.5" fill-opacity="0.26" stroke-opacity="0.34"/><circle cx="3200.0" cy="1233.7" r="4.5" fill-opacity="0.31" stroke-opacity="0.41"/><circle cx="3234.7" cy="1236.9" r="4.5" fill-opacity="0.34" stroke-opacity="0.46"/><circle cx="3302.0" cy="1259.8" r="4.5" fill-opacity="0.35" stroke-opacity="0.47"/><circle cx="3311.3" cy="1146.0" r="4.5" fill-opacity="0.36" stroke-opacity="0.49"/><circle cx="3348.4" cy="1224.8" r="4.5" fill-opacity="0.29" stroke-opacity="0.39"/><circle cx="3212.8" cy="1180.6" r="4.5" fill-opacity="0.40" stroke-opacity="0.54"/><circle cx="3279.2" cy="1170.0" r="4.5" fill-opacity="0.35" stroke-opacity="0.47"/><circle cx="3285.6" cy="1268.7" r="4.5" fill-opacity="0.25" stroke-opacity="0.34"/><circle cx="3265.6" cy="1232.3" r="4.5" fill-opacity="0.35" stroke-opacity="0.47"/><circle cx="3210.8" cy="1192.0" r="4.5" fill-opacity="0.35" stroke-opacity="0.47"/><circle cx="3316.1" cy="1181.6" r="4.5" fill-opacity="0.34" stroke-opacity="0.46"/><circle cx="3263.6" cy="1241.8" r="4.5" fill-opacity="0.28" stroke-opacity="0.38"/><circle cx="3337.7" cy="1176.1" r="4.5" fill-opacity="0.29" stroke-opacity="0.39"/><circle cx="3332.8" cy="1222.4" r="4.5" fill-opacity="0.31" stroke-opacity="0.42"/><circle cx="3219.0" cy="1262.8" r="4.5" fill-opacity="0.29" stroke-opacity="0.39"/><circle cx="3223.4" cy="1192.8" r="4.5" fill-opacity="0.37" stroke-opacity="0.50"/><circle cx="3315.2" cy="1186.5" r="4.5" fill-opacity="0.23" stroke-opacity="0.32"/><circle cx="3325.2" cy="1165.4" r="4.5" fill-opacity="0.24" stroke-opacity="0.33"/><circle cx="3289.0" cy="1248.3" r="4.5" fill-opacity="0.38" stroke-opacity="0.51"/><circle cx="3343.3" cy="1209.2" r="4.5" fill-opacity="0.39" stroke-opacity="0.53"/><circle cx="3243.1" cy="1249.1" r="4.5" fill-opacity="0.22" stroke-opacity="0.30"/><circle cx="3240.7" cy="1203.7" r="4.5" fill-opacity="0.27" stroke-opacity="0.37"/><circle cx="3195.7" cy="1233.4" r="4.5" fill-opacity="0.35" stroke-opacity="0.47"/><circle cx="3278.6" cy="1219.4" r="4.5" fill-opacity="0.33" stroke-opacity="0.45"/><circle cx="3297.2" cy="1246.7" r="4.5" fill-opacity="0.25" stroke-opacity="0.34"/><circle cx="3312.4" cy="1144.0" r="4.5" fill-opacity="0.34" stroke-opacity="0.46"/><circle cx="3307.1" cy="1222.7" r="4.5" fill-opacity="0.33" stroke-opacity="0.44"/><circle cx="3329.1" cy="1210.8" r="4.5" fill-opacity="0.25" stroke-opacity="0.34"/><circle cx="3266.4" cy="1143.2" r="4.5" fill-opacity="0.35" stroke-opacity="0.48"/><circle cx="3231.5" cy="1253.5" r="4.5" fill-opacity="0.38" stroke-opacity="0.51"/><circle cx="3278.0" cy="1252.1" r="4.5" fill-opacity="0.38" stroke-opacity="0.51"/><circle cx="3276.7" cy="1261.8" r="4.5" fill-opacity="0.35" stroke-opacity="0.47"/><circle cx="3249.3" cy="1264.4" r="4.5" fill-opacity="0.33" stroke-opacity="0.44"/><circle cx="3293.8" cy="1229.3" r="4.5" fill-opacity="0.40" stroke-opacity="0.54"/><circle cx="3234.7" cy="1208.9" r="4.5" fill-opacity="0.25" stroke-opacity="0.34"/><circle cx="3239.6" cy="1166.5" r="4.5" fill-opacity="0.33" stroke-opacity="0.44"/><circle cx="3322.5" cy="1145.9" r="4.5" fill-opacity="0.30" stroke-opacity="0.40"/><circle cx="3315.9" cy="1160.3" r="4.5" fill-opacity="0.22" stroke-opacity="0.30"/><circle cx="3200.8" cy="1228.1" r="4.5" fill-opacity="0.25" stroke-opacity="0.34"/><circle cx="3219.4" cy="1223.2" r="4.5" fill-opacity="0.33" stroke-opacity="0.44"/><circle cx="3256.7" cy="1146.7" r="4.5" fill-opacity="0.25" stroke-opacity="0.33"/><circle cx="3290.7" cy="1211.4" r="4.5" fill-opacity="0.33" stroke-opacity="0.45"/><circle cx="3319.6" cy="1244.9" r="4.5" fill-opacity="0.22" stroke-opacity="0.30"/><circle cx="3218.5" cy="1227.0" r="4.5" fill-opacity="0.37" stroke-opacity="0.50"/><circle cx="3308.3" cy="1170.5" r="4.5" fill-opacity="0.27" stroke-opacity="0.36"/><circle cx="3321.5" cy="1180.8" r="4.5" fill-opacity="0.36" stroke-opacity="0.49"/><circle cx="3301.3" cy="1158.3" r="4.5" fill-opacity="0.34" stroke-opacity="0.45"/><circle cx="3301.9" cy="1187.5" r="4.5" fill-opacity="0.28" stroke-opacity="0.38"/><circle cx="3201.6" cy="1261.4" r="4.5" fill-opacity="0.26" stroke-opacity="0.36"/><circle cx="3286.4" cy="1202.8" r="4.5" fill-opacity="0.38" stroke-opacity="0.51"/><circle cx="3286.5" cy="1165.0" r="4.5" fill-opacity="0.25" stroke-opacity="0.33"/><circle cx="3222.5" cy="1217.6" r="4.5" fill-opacity="0.34" stroke-opacity="0.46"/><circle cx="3266.3" cy="1244.8" r="4.5" fill-opacity="0.25" stroke-opacity="0.33"/><circle cx="3297.3" cy="1244.9" r="4.5" fill-opacity="0.34" stroke-opacity="0.45"/><circle cx="3347.1" cy="1168.1" r="4.5" fill-opacity="0.31" stroke-opacity="0.42"/><circle cx="3272.7" cy="1160.0" r="4.5" fill-opacity="0.30" stroke-opacity="0.41"/><circle cx="3231.5" cy="1157.7" r="4.5" fill-opacity="0.40" stroke-opacity="0.54"/><circle cx="3300.7" cy="1191.4" r="4.5" fill-opacity="0.24" stroke-opacity="0.33"/><circle cx="3232.8" cy="1227.8" r="4.5" fill-opacity="0.38" stroke-opacity="0.52"/><circle cx="3320.7" cy="1242.4" r="4.5" fill-opacity="0.23" stroke-opacity="0.31"/><circle cx="3244.2" cy="1175.9" r="4.5" fill-opacity="0.23" stroke-opacity="0.30"/><circle cx="3335.3" cy="1162.9" r="4.5" fill-opacity="0.38" stroke-opacity="0.51"/><circle cx="3273.9" cy="1245.9" r="4.5" fill-opacity="0.29" stroke-opacity="0.39"/><circle cx="3194.5" cy="1190.9" r="4.5" fill-opacity="0.31" stroke-opacity="0.42"/><circle cx="3245.9" cy="1177.8" r="4.5" fill-opacity="0.24" stroke-opacity="0.32"/><circle cx="3314.6" cy="1216.9" r="4.5" fill-opacity="0.34" stroke-opacity="0.46"/><circle cx="3234.0" cy="1218.2" r="4.5" fill-opacity="0.23" stroke-opacity="0.31"/><circle cx="3296.8" cy="1226.0" r="4.5" fill-opacity="0.30" stroke-opacity="0.40"/><circle cx="3322.2" cy="1146.5" r="4.5" fill-opacity="0.26" stroke-opacity="0.35"/><circle cx="3213.6" cy="1187.8" r="4.5" fill-opacity="0.39" stroke-opacity="0.53"/><circle cx="3238.1" cy="1258.4" r="4.5" fill-opacity="0.39" stroke-opacity="0.53"/><circle cx="3320.6" cy="1168.5" r="4.5" fill-opacity="0.32" stroke-opacity="0.43"/><circle cx="3211.9" cy="1218.6" r="4.5" fill-opacity="0.30" stroke-opacity="0.40"/><circle cx="3260.5" cy="1142.7" r="4.5" fill-opacity="0.40" stroke-opacity="0.54"/><circle cx="3327.7" cy="1207.4" r="4.5" fill-opacity="0.38" stroke-opacity="0.52"/><circle cx="3295.6" cy="1186.7" r="4.5" fill-opacity="0.32" stroke-opacity="0.43"/><circle cx="3320.5" cy="1176.2" r="4.5" fill-opacity="0.23" stroke-opacity="0.30"/><circle cx="3204.4" cy="1189.0" r="4.5" fill-opacity="0.27" stroke-opacity="0.36"/><circle cx="3211.2" cy="1171.5" r="4.5" fill-opacity="0.34" stroke-opacity="0.47"/><circle cx="3291.7" cy="1142.2" r="4.5" fill-opacity="0.36" stroke-opacity="0.49"/><circle cx="3232.1" cy="1213.6" r="4.5" fill-opacity="0.37" stroke-opacity="0.50"/><circle cx="3298.0" cy="1167.2" r="4.5" fill-opacity="0.39" stroke-opacity="0.53"/><circle cx="3285.1" cy="1149.6" r="4.5" fill-opacity="0.26" stroke-opacity="0.35"/><circle cx="3277.7" cy="1157.2" r="4.5" fill-opacity="0.38" stroke-opacity="0.51"/><circle cx="3288.2" cy="1172.3" r="4.5" fill-opacity="0.29" stroke-opacity="0.40"/><circle cx="3294.6" cy="1189.3" r="4.5" fill-opacity="0.31" stroke-opacity="0.42"/><circle cx="3211.5" cy="1252.5" r="4.5" fill-opacity="0.23" stroke-opacity="0.31"/><circle cx="3249.2" cy="1254.3" r="4.5" fill-opacity="0.31" stroke-opacity="0.41"/><circle cx="3253.5" cy="1263.6" r="4.5" fill-opacity="0.32" stroke-opacity="0.43"/><circle cx="3330.8" cy="1239.9" r="4.5" fill-opacity="0.34" stroke-opacity="0.46"/><circle cx="3303.8" cy="1215.4" r="4.5" fill-opacity="0.31" stroke-opacity="0.41"/><circle cx="3289.7" cy="1267.7" r="4.5" fill-opacity="0.25" stroke-opacity="0.33"/><circle cx="3274.0" cy="1150.5" r="4.5" fill-opacity="0.38" stroke-opacity="0.51"/><circle cx="3318.9" cy="1190.1" r="4.5" fill-opacity="0.25" stroke-opacity="0.34"/><circle cx="3290.4" cy="1142.4" r="4.5" fill-opacity="0.39" stroke-opacity="0.53"/><circle cx="3214.0" cy="1255.4" r="4.5" fill-opacity="0.27" stroke-opacity="0.37"/><circle cx="3350.5" cy="1204.2" r="4.5" fill-opacity="0.36" stroke-opacity="0.48"/><circle cx="3264.7" cy="1218.9" r="4.5" fill-opacity="0.27" stroke-opacity="0.36"/><circle cx="3293.4" cy="1261.9" r="4.5" fill-opacity="0.36" stroke-opacity="0.48"/><circle cx="3245.4" cy="1209.7" r="4.5" fill-opacity="0.30" stroke-opacity="0.40"/><circle cx="3314.4" cy="1205.3" r="4.5" fill-opacity="0.24" stroke-opacity="0.32"/><circle cx="3263.5" cy="1216.5" r="4.5" fill-opacity="0.32" stroke-opacity="0.43"/><circle cx="3298.8" cy="1187.5" r="4.5" fill-opacity="0.23" stroke-opacity="0.32"/><circle cx="3339.9" cy="1232.0" r="4.5" fill-opacity="0.36" stroke-opacity="0.48"/><circle cx="3316.7" cy="1210.6" r="4.5" fill-opacity="0.25" stroke-opacity="0.34"/><circle cx="3255.3" cy="1242.9" r="4.5" fill-opacity="0.38" stroke-opacity="0.51"/><circle cx="3220.0" cy="1184.0" r="4.5" fill-opacity="0.27" stroke-opacity="0.36"/><circle cx="3242.4" cy="1195.7" r="4.5" fill-opacity="0.24" stroke-opacity="0.32"/><circle cx="3181.4" cy="1235.9" r="4.5" fill-opacity="0.34" stroke-opacity="0.46"/><circle cx="3297.5" cy="1216.8" r="4.5" fill-opacity="0.27" stroke-opacity="0.36"/><circle cx="3199.6" cy="1198.3" r="4.5" fill-opacity="0.33" stroke-opacity="0.44"/><circle cx="3337.5" cy="1183.7" r="4.5" fill-opacity="0.39" stroke-opacity="0.52"/><circle cx="3255.2" cy="1190.7" r="4.5" fill-opacity="0.30" stroke-opacity="0.40"/><circle cx="3316.2" cy="1147.6" r="4.5" fill-opacity="0.40" stroke-opacity="0.53"/><circle cx="3228.1" cy="1189.4" r="4.5" fill-opacity="0.34" stroke-opacity="0.45"/><circle cx="3300.5" cy="1176.1" r="4.5" fill-opacity="0.34" stroke-opacity="0.46"/><circle cx="3265.4" cy="1238.2" r="4.5" fill-opacity="0.23" stroke-opacity="0.30"/><circle cx="3249.0" cy="1254.4" r="4.5" fill-opacity="0.38" stroke-opacity="0.51"/><circle cx="3239.3" cy="1259.4" r="4.5" fill-opacity="0.38" stroke-opacity="0.51"/><circle cx="3295.0" cy="1218.6" r="4.5" fill-opacity="0.23" stroke-opacity="0.31"/><circle cx="3284.7" cy="1234.9" r="4.5" fill-opacity="0.34" stroke-opacity="0.46"/><circle cx="3207.6" cy="1246.1" r="4.5" fill-opacity="0.24" stroke-opacity="0.32"/><circle cx="3251.6" cy="1215.4" r="4.5" fill-opacity="0.38" stroke-opacity="0.52"/><circle cx="3236.4" cy="1149.7" r="4.5" fill-opacity="0.36" stroke-opacity="0.48"/><circle cx="3297.4" cy="1215.0" r="4.5" fill-opacity="0.22" stroke-opacity="0.30"/><circle cx="3293.0" cy="1192.0" r="4.5" fill-opacity="0.37" stroke-opacity="0.49"/><circle cx="3284.1" cy="1189.5" r="4.5" fill-opacity="0.32" stroke-opacity="0.44"/><circle cx="3230.9" cy="1162.8" r="4.5" fill-opacity="0.33" stroke-opacity="0.45"/><circle cx="3329.9" cy="1194.6" r="4.5" fill-opacity="0.25" stroke-opacity="0.33"/><circle cx="3306.2" cy="1229.5" r="4.5" fill-opacity="0.39" stroke-opacity="0.53"/><circle cx="3262.3" cy="1179.7" r="4.5" fill-opacity="0.32" stroke-opacity="0.43"/><circle cx="3249.7" cy="1162.0" r="4.5" fill-opacity="0.36" stroke-opacity="0.48"/><circle cx="3229.0" cy="1255.7" r="4.5" fill-opacity="0.30" stroke-opacity="0.41"/><circle cx="3276.4" cy="1240.6" r="4.5" fill-opacity="0.32" stroke-opacity="0.43"/><circle cx="3341.4" cy="1201.7" r="4.5" fill-opacity="0.30" stroke-opacity="0.40"/><circle cx="3207.6" cy="1219.8" r="4.5" fill-opacity="0.22" stroke-opacity="0.30"/><circle cx="3185.1" cy="1239.6" r="4.5" fill-opacity="0.28" stroke-opacity="0.38"/><circle cx="3289.5" cy="1154.4" r="4.5" fill-opacity="0.40" stroke-opacity="0.54"/><circle cx="3288.8" cy="1250.8" r="4.5" fill-opacity="0.34" stroke-opacity="0.45"/><circle cx="3297.7" cy="1135.2" r="4.5" fill-opacity="0.22" stroke-opacity="0.30"/><circle cx="3235.0" cy="1184.6" r="4.5" fill-opacity="0.40" stroke-opacity="0.54"/><circle cx="3257.5" cy="1199.5" r="4.5" fill-opacity="0.35" stroke-opacity="0.47"/><circle cx="3269.8" cy="1168.2" r="4.5" fill-opacity="0.34" stroke-opacity="0.46"/><circle cx="3312.6" cy="1154.0" r="4.5" fill-opacity="0.25" stroke-opacity="0.34"/><circle cx="3286.2" cy="1213.6" r="4.5" fill-opacity="0.38" stroke-opacity="0.51"/><circle cx="3266.3" cy="1151.6" r="4.5" fill-opacity="0.25" stroke-opacity="0.34"/><circle cx="3323.3" cy="1148.4" r="4.5" fill-opacity="0.40" stroke-opacity="0.53"/><circle cx="3278.9" cy="1212.1" r="4.5" fill-opacity="0.22" stroke-opacity="0.30"/><circle cx="3269.8" cy="1183.5" r="4.5" fill-opacity="0.34" stroke-opacity="0.46"/><circle cx="3243.6" cy="1190.2" r="4.5" fill-opacity="0.27" stroke-opacity="0.36"/><circle cx="3243.5" cy="1189.8" r="4.5" fill-opacity="0.34" stroke-opacity="0.46"/><circle cx="3213.2" cy="1249.0" r="4.5" fill-opacity="0.38" stroke-opacity="0.51"/><circle cx="3307.2" cy="1152.1" r="4.5" fill-opacity="0.32" stroke-opacity="0.43"/><circle cx="3216.0" cy="1179.2" r="4.5" fill-opacity="0.35" stroke-opacity="0.47"/><circle cx="3198.9" cy="1257.3" r="4.5" fill-opacity="0.26" stroke-opacity="0.35"/><circle cx="3298.6" cy="1196.8" r="4.5" fill-opacity="0.37" stroke-opacity="0.50"/><circle cx="3326.0" cy="1240.5" r="4.5" fill-opacity="0.23" stroke-opacity="0.31"/><circle cx="3346.6" cy="1207.5" r="4.5" fill-opacity="0.31" stroke-opacity="0.42"/><circle cx="3217.4" cy="1164.3" r="4.5" fill-opacity="0.25" stroke-opacity="0.34"/><circle cx="3276.0" cy="1167.6" r="4.5" fill-opacity="0.25" stroke-opacity="0.34"/><circle cx="3219.1" cy="1257.7" r="4.5" fill-opacity="0.24" stroke-opacity="0.32"/><circle cx="3241.0" cy="1256.9" r="4.5" fill-opacity="0.27" stroke-opacity="0.36"/><circle cx="3299.1" cy="1212.9" r="4.5" fill-opacity="0.25" stroke-opacity="0.34"/><circle cx="3289.0" cy="1233.4" r="4.5" fill-opacity="0.24" stroke-opacity="0.32"/><circle cx="3312.9" cy="1164.5" r="4.5" fill-opacity="0.37" stroke-opacity="0.50"/><circle cx="3215.5" cy="1194.5" r="4.5" fill-opacity="0.31" stroke-opacity="0.41"/><circle cx="3288.9" cy="1261.3" r="4.5" fill-opacity="0.38" stroke-opacity="0.51"/><circle cx="3296.9" cy="1191.9" r="4.5" fill-opacity="0.36" stroke-opacity="0.48"/><circle cx="3272.8" cy="1152.6" r="4.5" fill-opacity="0.26" stroke-opacity="0.34"/><circle cx="3317.1" cy="1196.6" r="4.5" fill-opacity="0.36" stroke-opacity="0.48"/><circle cx="3263.0" cy="1220.0" r="4.5" fill-opacity="0.37" stroke-opacity="0.50"/><circle cx="3231.1" cy="1173.3" r="4.5" fill-opacity="0.24" stroke-opacity="0.32"/><circle cx="3346.2" cy="1214.9" r="4.5" fill-opacity="0.39" stroke-opacity="0.53"/><circle cx="3229.4" cy="1171.2" r="4.5" fill-opacity="0.24" stroke-opacity="0.32"/><circle cx="3279.3" cy="1244.1" r="4.5" fill-opacity="0.36" stroke-opacity="0.48"/><circle cx="3226.6" cy="1195.9" r="4.5" fill-opacity="0.36" stroke-opacity="0.49"/><circle cx="3220.8" cy="1252.2" r="4.5" fill-opacity="0.33" stroke-opacity="0.45"/><circle cx="3265.6" cy="1260.4" r="4.5" fill-opacity="0.33" stroke-opacity="0.45"/><circle cx="3346.1" cy="1226.7" r="4.5" fill-opacity="0.34" stroke-opacity="0.46"/><circle cx="3343.0" cy="1179.3" r="4.5" fill-opacity="0.38" stroke-opacity="0.51"/><circle cx="3350.3" cy="1183.5" r="4.5" fill-opacity="0.30" stroke-opacity="0.41"/><circle cx="3203.7" cy="1256.3" r="4.5" fill-opacity="0.27" stroke-opacity="0.37"/><circle cx="3235.7" cy="1263.6" r="4.5" fill-opacity="0.28" stroke-opacity="0.38"/><circle cx="3218.9" cy="1205.9" r="4.5" fill-opacity="0.24" stroke-opacity="0.32"/><circle cx="3210.9" cy="1174.5" r="4.5" fill-opacity="0.23" stroke-opacity="0.31"/><circle cx="3270.0" cy="1148.3" r="4.5" fill-opacity="0.26" stroke-opacity="0.36"/><circle cx="3350.5" cy="1179.0" r="4.5" fill-opacity="0.31" stroke-opacity="0.42"/><circle cx="3303.8" cy="1248.5" r="4.5" fill-opacity="0.39" stroke-opacity="0.53"/><circle cx="3304.9" cy="1225.2" r="4.5" fill-opacity="0.33" stroke-opacity="0.45"/><circle cx="3262.5" cy="1158.8" r="4.5" fill-opacity="0.36" stroke-opacity="0.49"/><circle cx="3335.9" cy="1223.8" r="4.5" fill-opacity="0.35" stroke-opacity="0.48"/><circle cx="3300.8" cy="1185.9" r="4.5" fill-opacity="0.31" stroke-opacity="0.42"/><circle cx="3358.1" cy="1206.3" r="4.5" fill-opacity="0.28" stroke-opacity="0.38"/><circle cx="3240.2" cy="1160.7" r="4.5" fill-opacity="0.25" stroke-opacity="0.33"/><circle cx="3297.1" cy="1180.1" r="4.5" fill-opacity="0.25" stroke-opacity="0.34"/><circle cx="3238.4" cy="1150.9" r="4.5" fill-opacity="0.30" stroke-opacity="0.40"/><circle cx="3246.7" cy="1244.5" r="4.5" fill-opacity="0.34" stroke-opacity="0.46"/><circle cx="3245.1" cy="1158.2" r="4.5" fill-opacity="0.40" stroke-opacity="0.54"/><circle cx="3329.3" cy="1243.8" r="4.5" fill-opacity="0.33" stroke-opacity="0.44"/><circle cx="3216.7" cy="1185.7" r="4.5" fill-opacity="0.23" stroke-opacity="0.32"/><circle cx="3313.1" cy="1152.6" r="4.5" fill-opacity="0.38" stroke-opacity="0.52"/><circle cx="3213.5" cy="1175.2" r="4.5" fill-opacity="0.28" stroke-opacity="0.38"/><circle cx="3293.3" cy="1264.5" r="4.5" fill-opacity="0.26" stroke-opacity="0.35"/><circle cx="3283.4" cy="1154.9" r="4.5" fill-opacity="0.23" stroke-opacity="0.31"/><circle cx="3210.8" cy="1225.0" r="4.5" fill-opacity="0.38" stroke-opacity="0.51"/><circle cx="3288.2" cy="1253.4" r="4.5" fill-opacity="0.30" stroke-opacity="0.40"/><circle cx="3281.4" cy="1218.7" r="4.5" fill-opacity="0.26" stroke-opacity="0.35"/><circle cx="3305.0" cy="1252.1" r="4.5" fill-opacity="0.27" stroke-opacity="0.37"/><circle cx="3219.8" cy="1180.7" r="4.5" fill-opacity="0.36" stroke-opacity="0.49"/><circle cx="3223.5" cy="1256.3" r="4.5" fill-opacity="0.37" stroke-opacity="0.50"/><circle cx="3280.6" cy="1142.6" r="4.5" fill-opacity="0.39" stroke-opacity="0.52"/><circle cx="3290.5" cy="1137.5" r="4.5" fill-opacity="0.29" stroke-opacity="0.39"/><circle cx="3236.1" cy="1263.6" r="4.5" fill-opacity="0.30" stroke-opacity="0.40"/><circle cx="3277.6" cy="1227.4" r="4.5" fill-opacity="0.24" stroke-opacity="0.32"/><circle cx="3265.1" cy="1217.6" r="4.5" fill-opacity="0.27" stroke-opacity="0.37"/><circle cx="3256.1" cy="1245.4" r="4.5" fill-opacity="0.38" stroke-opacity="0.52"/><circle cx="3276.8" cy="1232.5" r="4.5" fill-opacity="0.37" stroke-opacity="0.51"/><circle cx="3263.8" cy="1261.5" r="4.5" fill-opacity="0.36" stroke-opacity="0.49"/><circle cx="3247.4" cy="1237.5" r="4.5" fill-opacity="0.37" stroke-opacity="0.51"/><circle cx="3205.2" cy="1259.3" r="4.5" fill-opacity="0.31" stroke-opacity="0.42"/><circle cx="3259.3" cy="1251.3" r="4.5" fill-opacity="0.28" stroke-opacity="0.38"/><circle cx="3338.6" cy="1169.8" r="4.5" fill-opacity="0.23" stroke-opacity="0.31"/><circle cx="3267.2" cy="1170.9" r="4.5" fill-opacity="0.36" stroke-opacity="0.48"/><circle cx="3220.0" cy="1244.9" r="4.5" fill-opacity="0.34" stroke-opacity="0.46"/><circle cx="3278.1" cy="1156.7" r="4.5" fill-opacity="0.36" stroke-opacity="0.49"/><circle cx="3239.2" cy="1230.5" r="4.5" fill-opacity="0.33" stroke-opacity="0.45"/><circle cx="3308.5" cy="1244.6" r="4.5" fill-opacity="0.39" stroke-opacity="0.53"/><circle cx="3225.0" cy="1232.9" r="4.5" fill-opacity="0.38" stroke-opacity="0.51"/><circle cx="3315.1" cy="1198.4" r="4.5" fill-opacity="0.26" stroke-opacity="0.35"/><circle cx="3269.0" cy="1239.3" r="4.5" fill-opacity="0.39" stroke-opacity="0.53"/><circle cx="3352.3" cy="1212.7" r="4.5" fill-opacity="0.34" stroke-opacity="0.46"/><circle cx="3213.3" cy="1221.4" r="4.5" fill-opacity="0.31" stroke-opacity="0.42"/><circle cx="3291.7" cy="1217.8" r="4.5" fill-opacity="0.38" stroke-opacity="0.51"/><circle cx="3202.3" cy="1233.2" r="4.5" fill-opacity="0.36" stroke-opacity="0.49"/><circle cx="3288.8" cy="1248.0" r="4.5" fill-opacity="0.33" stroke-opacity="0.45"/><circle cx="3320.1" cy="1205.3" r="4.5" fill-opacity="0.33" stroke-opacity="0.44"/><circle cx="3275.0" cy="1147.8" r="4.5" fill-opacity="0.34" stroke-opacity="0.45"/><circle cx="3258.3" cy="1244.2" r="4.5" fill-opacity="0.33" stroke-opacity="0.44"/><circle cx="3314.2" cy="1185.1" r="4.5" fill-opacity="0.23" stroke-opacity="0.31"/><circle cx="3297.2" cy="1255.0" r="4.5" fill-opacity="0.30" stroke-opacity="0.41"/><circle cx="3206.2" cy="1183.4" r="4.5" fill-opacity="0.36" stroke-opacity="0.49"/><circle cx="3213.6" cy="1230.7" r="4.5" fill-opacity="0.22" stroke-opacity="0.30"/><circle cx="3296.4" cy="1173.6" r="4.5" fill-opacity="0.25" stroke-opacity="0.34"/><circle cx="3314.2" cy="1154.4" r="4.5" fill-opacity="0.37" stroke-opacity="0.50"/><circle cx="3236.5" cy="1232.6" r="4.5" fill-opacity="0.26" stroke-opacity="0.35"/><circle cx="3277.2" cy="1156.1" r="4.5" fill-opacity="0.23" stroke-opacity="0.31"/><circle cx="3233.0" cy="1238.5" r="4.5" fill-opacity="0.28" stroke-opacity="0.38"/><circle cx="3339.5" cy="1208.0" r="4.5" fill-opacity="0.24" stroke-opacity="0.32"/><circle cx="3264.0" cy="1259.9" r="4.5" fill-opacity="0.23" stroke-opacity="0.32"/><circle cx="3228.2" cy="1210.4" r="4.5" fill-opacity="0.39" stroke-opacity="0.52"/><circle cx="3251.8" cy="1248.5" r="4.5" fill-opacity="0.33" stroke-opacity="0.45"/><circle cx="3316.1" cy="1203.5" r="4.5" fill-opacity="0.37" stroke-opacity="0.50"/><circle cx="3220.8" cy="1262.5" r="4.5" fill-opacity="0.23" stroke-opacity="0.32"/><circle cx="3286.2" cy="1169.9" r="4.5" fill-opacity="0.34" stroke-opacity="0.46"/><circle cx="3246.0" cy="1238.6" r="4.5" fill-opacity="0.23" stroke-opacity="0.31"/><circle cx="3300.9" cy="1183.1" r="4.5" fill-opacity="0.23" stroke-opacity="0.31"/><circle cx="3288.1" cy="1241.8" r="4.5" fill-opacity="0.23" stroke-opacity="0.31"/><circle cx="3262.4" cy="1172.4" r="4.5" fill-opacity="0.26" stroke-opacity="0.36"/><circle cx="3314.5" cy="1185.8" r="4.5" fill-opacity="0.36" stroke-opacity="0.49"/><circle cx="3313.5" cy="1154.5" r="4.5" fill-opacity="0.27" stroke-opacity="0.37"/><circle cx="3277.5" cy="1223.5" r="4.5" fill-opacity="0.34" stroke-opacity="0.47"/><circle cx="3232.7" cy="1185.3" r="4.5" fill-opacity="0.26" stroke-opacity="0.36"/><circle cx="3303.2" cy="1224.6" r="4.5" fill-opacity="0.26" stroke-opacity="0.35"/><circle cx="3240.8" cy="1162.6" r="4.5" fill-opacity="0.26" stroke-opacity="0.35"/><circle cx="3240.4" cy="1169.5" r="4.5" fill-opacity="0.28" stroke-opacity="0.37"/><circle cx="3321.8" cy="1247.0" r="4.5" fill-opacity="0.36" stroke-opacity="0.48"/><circle cx="3227.7" cy="1182.9" r="4.5" fill-opacity="0.37" stroke-opacity="0.50"/><circle cx="3287.8" cy="1157.0" r="4.5" fill-opacity="0.26" stroke-opacity="0.35"/><circle cx="3217.2" cy="1220.6" r="4.5" fill-opacity="0.37" stroke-opacity="0.49"/><circle cx="3209.6" cy="1257.3" r="4.5" fill-opacity="0.25" stroke-opacity="0.34"/><circle cx="3217.3" cy="1171.1" r="4.5" fill-opacity="0.39" stroke-opacity="0.52"/><circle cx="3313.1" cy="1166.8" r="4.5" fill-opacity="0.25" stroke-opacity="0.34"/><circle cx="3318.9" cy="1184.1" r="4.5" fill-opacity="0.38" stroke-opacity="0.51"/><circle cx="3258.0" cy="1147.8" r="4.5" fill-opacity="0.39" stroke-opacity="0.52"/><circle cx="3233.4" cy="1249.0" r="4.5" fill-opacity="0.26" stroke-opacity="0.34"/><circle cx="3231.8" cy="1197.0" r="4.5" fill-opacity="0.31" stroke-opacity="0.42"/><circle cx="3237.9" cy="1256.3" r="4.5" fill-opacity="0.34" stroke-opacity="0.46"/><circle cx="3328.1" cy="1158.4" r="4.5" fill-opacity="0.30" stroke-opacity="0.41"/><circle cx="3250.1" cy="1240.5" r="4.5" fill-opacity="0.40" stroke-opacity="0.53"/><circle cx="3217.9" cy="1255.0" r="4.5" fill-opacity="0.22" stroke-opacity="0.30"/><circle cx="3333.6" cy="1158.1" r="4.5" fill-opacity="0.30" stroke-opacity="0.40"/><circle cx="3204.6" cy="1200.5" r="4.5" fill-opacity="0.39" stroke-opacity="0.52"/><circle cx="3352.0" cy="1178.2" r="4.5" fill-opacity="0.29" stroke-opacity="0.39"/><circle cx="3250.4" cy="1157.6" r="4.5" fill-opacity="0.35" stroke-opacity="0.47"/><circle cx="3324.1" cy="1164.8" r="4.5" fill-opacity="0.22" stroke-opacity="0.30"/><circle cx="3306.6" cy="1156.2" r="4.5" fill-opacity="0.31" stroke-opacity="0.42"/><circle cx="3299.1" cy="1146.0" r="4.5" fill-opacity="0.24" stroke-opacity="0.32"/><circle cx="3284.8" cy="1248.8" r="4.5" fill-opacity="0.30" stroke-opacity="0.41"/><circle cx="3280.0" cy="1148.6" r="4.5" fill-opacity="0.24" stroke-opacity="0.33"/><circle cx="3278.2" cy="1211.4" r="4.5" fill-opacity="0.31" stroke-opacity="0.41"/><circle cx="3321.2" cy="1153.8" r="4.5" fill-opacity="0.25" stroke-opacity="0.34"/><circle cx="3369.2" cy="1137.4" r="4.5" fill-opacity="0.35" stroke-opacity="0.48"/><circle cx="3360.0" cy="1137.4" r="4.5" fill-opacity="0.31" stroke-opacity="0.42"/><circle cx="3348.6" cy="1136.6" r="4.5" fill-opacity="0.34" stroke-opacity="0.46"/><circle cx="3109.7" cy="1340.1" r="4.5" fill-opacity="0.35" stroke-opacity="0.47"/><circle cx="3083.4" cy="1354.7" r="4.5" fill-opacity="0.29" stroke-opacity="0.40"/><circle cx="3105.2" cy="1372.6" r="4.5" fill-opacity="0.22" stroke-opacity="0.30"/><circle cx="3118.9" cy="1371.0" r="4.5" fill-opacity="0.35" stroke-opacity="0.48"/><circle cx="3091.4" cy="1376.6" r="4.5" fill-opacity="0.28" stroke-opacity="0.38"/><circle cx="3380.6" cy="1133.3" r="4.5" fill-opacity="0.31" stroke-opacity="0.41"/><circle cx="3388.7" cy="1123.8" r="4.5" fill-opacity="0.32" stroke-opacity="0.44"/><circle cx="3394.7" cy="1124.8" r="4.5" fill-opacity="0.40" stroke-opacity="0.53"/><circle cx="3398.1" cy="1126.6" r="4.5" fill-opacity="0.36" stroke-opacity="0.49"/><circle cx="3397.8" cy="1128.0" r="4.5" fill-opacity="0.37" stroke-opacity="0.50"/><circle cx="3390.6" cy="1127.5" r="4.5" fill-opacity="0.31" stroke-opacity="0.42"/><circle cx="3393.7" cy="1125.7" r="4.5" fill-opacity="0.33" stroke-opacity="0.44"/><circle cx="3396.9" cy="1131.4" r="4.5" fill-opacity="0.28" stroke-opacity="0.38"/><circle cx="3401.4" cy="1126.9" r="4.5" fill-opacity="0.30" stroke-opacity="0.40"/><circle cx="3401.5" cy="1124.9" r="4.5" fill-opacity="0.36" stroke-opacity="0.48"/><circle cx="3397.5" cy="1125.2" r="4.5" fill-opacity="0.31" stroke-opacity="0.41"/><circle cx="3385.8" cy="1122.4" r="4.5" fill-opacity="0.37" stroke-opacity="0.50"/><circle cx="3408.9" cy="1125.0" r="4.5" fill-opacity="0.33" stroke-opacity="0.44"/><circle cx="3392.1" cy="1124.8" r="4.5" fill-opacity="0.36" stroke-opacity="0.49"/><circle cx="3393.4" cy="1122.1" r="4.5" fill-opacity="0.33" stroke-opacity="0.45"/></g>
<g fill="#e0703a" stroke="#e0703a" stroke-width="1"><circle cx="3226.3" cy="1234.7" r="4.5" fill-opacity="0.33" stroke-opacity="0.45"/><circle cx="3232.0" cy="1240.4" r="4.5" fill-opacity="0.30" stroke-opacity="0.41"/><circle cx="3228.6" cy="1246.1" r="4.5" fill-opacity="0.36" stroke-opacity="0.48"/><circle cx="3252.6" cy="1212.8" r="4.5" fill-opacity="0.26" stroke-opacity="0.34"/><circle cx="3232.0" cy="1206.3" r="4.5" fill-opacity="0.38" stroke-opacity="0.51"/><circle cx="3320.0" cy="1244.4" r="4.5" fill-opacity="0.25" stroke-opacity="0.34"/><circle cx="3325.8" cy="1241.2" r="4.5" fill-opacity="0.30" stroke-opacity="0.40"/><circle cx="3340.6" cy="1230.7" r="4.5" fill-opacity="0.32" stroke-opacity="0.44"/><circle cx="3246.9" cy="1220.1" r="4.5" fill-opacity="0.27" stroke-opacity="0.36"/><circle cx="3213.7" cy="1218.5" r="4.5" fill-opacity="0.39" stroke-opacity="0.52"/><circle cx="3181.7" cy="1222.6" r="4.5" fill-opacity="0.22" stroke-opacity="0.30"/><circle cx="3261.7" cy="1177.1" r="4.5" fill-opacity="0.27" stroke-opacity="0.37"/><circle cx="3275.5" cy="1209.6" r="4.5" fill-opacity="0.33" stroke-opacity="0.44"/><circle cx="3249.2" cy="1195.0" r="4.5" fill-opacity="0.29" stroke-opacity="0.40"/><circle cx="3289.2" cy="1204.7" r="4.5" fill-opacity="0.31" stroke-opacity="0.42"/><circle cx="3345.2" cy="1139.8" r="4.5" fill-opacity="0.40" stroke-opacity="0.53"/><circle cx="3260.6" cy="1227.4" r="4.5" fill-opacity="0.27" stroke-opacity="0.36"/><circle cx="3050.5" cy="1375.9" r="4.5" fill-opacity="0.27" stroke-opacity="0.36"/><circle cx="3036.1" cy="1412.8" r="4.5" fill-opacity="0.27" stroke-opacity="0.37"/><circle cx="3030.5" cy="1397.4" r="4.5" fill-opacity="0.26" stroke-opacity="0.35"/><circle cx="3054.1" cy="1375.7" r="4.5" fill-opacity="0.30" stroke-opacity="0.40"/><circle cx="3058.9" cy="1383.1" r="4.5" fill-opacity="0.30" stroke-opacity="0.40"/><circle cx="3035.0" cy="1401.8" r="4.5" fill-opacity="0.35" stroke-opacity="0.47"/><circle cx="3034.9" cy="1393.2" r="4.5" fill-opacity="0.35" stroke-opacity="0.47"/><circle cx="3035.2" cy="1379.3" r="4.5" fill-opacity="0.27" stroke-opacity="0.37"/><circle cx="3041.5" cy="1380.4" r="4.5" fill-opacity="0.40" stroke-opacity="0.54"/><circle cx="3041.0" cy="1395.8" r="4.5" fill-opacity="0.27" stroke-opacity="0.36"/><circle cx="3027.2" cy="1408.8" r="4.5" fill-opacity="0.37" stroke-opacity="0.50"/><circle cx="3046.4" cy="1390.1" r="4.5" fill-opacity="0.31" stroke-opacity="0.41"/><circle cx="3027.0" cy="1412.1" r="4.5" fill-opacity="0.38" stroke-opacity="0.52"/><circle cx="3058.8" cy="1384.4" r="4.5" fill-opacity="0.26" stroke-opacity="0.36"/><circle cx="3057.1" cy="1361.0" r="4.5" fill-opacity="0.29" stroke-opacity="0.39"/><circle cx="3044.0" cy="1383.4" r="4.5" fill-opacity="0.27" stroke-opacity="0.37"/><circle cx="3028.6" cy="1386.5" r="4.5" fill-opacity="0.36" stroke-opacity="0.49"/><circle cx="3049.5" cy="1383.7" r="4.5" fill-opacity="0.38" stroke-opacity="0.51"/><circle cx="3043.0" cy="1395.4" r="4.5" fill-opacity="0.25" stroke-opacity="0.34"/><circle cx="3039.4" cy="1402.4" r="4.5" fill-opacity="0.33" stroke-opacity="0.44"/><circle cx="3051.9" cy="1379.0" r="4.5" fill-opacity="0.23" stroke-opacity="0.31"/><circle cx="3032.3" cy="1395.1" r="4.5" fill-opacity="0.36" stroke-opacity="0.48"/><circle cx="3046.2" cy="1416.7" r="4.5" fill-opacity="0.27" stroke-opacity="0.36"/><circle cx="3058.6" cy="1412.8" r="4.5" fill-opacity="0.24" stroke-opacity="0.32"/><circle cx="3032.1" cy="1397.5" r="4.5" fill-opacity="0.40" stroke-opacity="0.54"/><circle cx="3046.4" cy="1420.7" r="4.5" fill-opacity="0.35" stroke-opacity="0.47"/><circle cx="3031.3" cy="1380.7" r="4.5" fill-opacity="0.26" stroke-opacity="0.35"/><circle cx="3034.7" cy="1416.3" r="4.5" fill-opacity="0.37" stroke-opacity="0.50"/><circle cx="3039.7" cy="1372.1" r="4.5" fill-opacity="0.23" stroke-opacity="0.31"/><circle cx="3033.5" cy="1380.6" r="4.5" fill-opacity="0.29" stroke-opacity="0.39"/><circle cx="3040.7" cy="1374.8" r="4.5" fill-opacity="0.25" stroke-opacity="0.34"/><circle cx="3059.9" cy="1421.1" r="4.5" fill-opacity="0.32" stroke-opacity="0.43"/><circle cx="3036.5" cy="1400.5" r="4.5" fill-opacity="0.32" stroke-opacity="0.43"/><circle cx="3031.1" cy="1376.3" r="4.5" fill-opacity="0.36" stroke-opacity="0.48"/><circle cx="3024.9" cy="1410.2" r="4.5" fill-opacity="0.39" stroke-opacity="0.52"/><circle cx="3119.5" cy="1362.0" r="4.5" fill-opacity="0.28" stroke-opacity="0.38"/><circle cx="3130.1" cy="1389.0" r="4.5" fill-opacity="0.23" stroke-opacity="0.31"/><circle cx="3134.5" cy="1405.6" r="4.5" fill-opacity="0.30" stroke-opacity="0.40"/><circle cx="3089.6" cy="1410.7" r="4.5" fill-opacity="0.34" stroke-opacity="0.46"/><circle cx="3113.4" cy="1371.1" r="4.5" fill-opacity="0.30" stroke-opacity="0.41"/><circle cx="3099.9" cy="1366.7" r="4.5" fill-opacity="0.27" stroke-opacity="0.36"/><circle cx="3121.2" cy="1424.6" r="4.5" fill-opacity="0.33" stroke-opacity="0.45"/><circle cx="3115.8" cy="1384.0" r="4.5" fill-opacity="0.32" stroke-opacity="0.43"/><circle cx="3103.8" cy="1404.0" r="4.5" fill-opacity="0.33" stroke-opacity="0.44"/><circle cx="3125.7" cy="1400.4" r="4.5" fill-opacity="0.39" stroke-opacity="0.53"/><circle cx="3123.4" cy="1368.7" r="4.5" fill-opacity="0.37" stroke-opacity="0.51"/><circle cx="3119.6" cy="1406.1" r="4.5" fill-opacity="0.24" stroke-opacity="0.32"/><circle cx="3089.3" cy="1415.8" r="4.5" fill-opacity="0.35" stroke-opacity="0.48"/><circle cx="3120.9" cy="1368.6" r="4.5" fill-opacity="0.29" stroke-opacity="0.39"/><circle cx="3084.8" cy="1409.8" r="4.5" fill-opacity="0.33" stroke-opacity="0.45"/><circle cx="3105.2" cy="1387.2" r="4.5" fill-opacity="0.29" stroke-opacity="0.40"/><circle cx="3109.7" cy="1389.5" r="4.5" fill-opacity="0.39" stroke-opacity="0.53"/><circle cx="3092.0" cy="1368.6" r="4.5" fill-opacity="0.36" stroke-opacity="0.49"/><circle cx="3087.5" cy="1363.5" r="4.5" fill-opacity="0.34" stroke-opacity="0.46"/><circle cx="3118.9" cy="1395.0" r="4.5" fill-opacity="0.27" stroke-opacity="0.36"/><circle cx="3092.8" cy="1371.8" r="4.5" fill-opacity="0.24" stroke-opacity="0.33"/><circle cx="3108.0" cy="1367.2" r="4.5" fill-opacity="0.24" stroke-opacity="0.33"/><circle cx="3106.9" cy="1421.7" r="4.5" fill-opacity="0.32" stroke-opacity="0.44"/><circle cx="3104.6" cy="1386.9" r="4.5" fill-opacity="0.29" stroke-opacity="0.39"/><circle cx="3107.0" cy="1405.9" r="4.5" fill-opacity="0.40" stroke-opacity="0.54"/><circle cx="3116.0" cy="1410.6" r="4.5" fill-opacity="0.29" stroke-opacity="0.40"/><circle cx="3111.1" cy="1420.6" r="4.5" fill-opacity="0.26" stroke-opacity="0.35"/><circle cx="3086.5" cy="1367.7" r="4.5" fill-opacity="0.39" stroke-opacity="0.53"/><circle cx="3089.9" cy="1399.1" r="4.5" fill-opacity="0.31" stroke-opacity="0.42"/><circle cx="3085.6" cy="1400.0" r="4.5" fill-opacity="0.36" stroke-opacity="0.49"/><circle cx="3098.0" cy="1401.1" r="4.5" fill-opacity="0.27" stroke-opacity="0.36"/><circle cx="3111.5" cy="1356.2" r="4.5" fill-opacity="0.32" stroke-opacity="0.43"/><circle cx="3100.1" cy="1388.7" r="4.5" fill-opacity="0.36" stroke-opacity="0.48"/><circle cx="3090.2" cy="1378.2" r="4.5" fill-opacity="0.40" stroke-opacity="0.54"/><circle cx="3094.7" cy="1419.9" r="4.5" fill-opacity="0.23" stroke-opacity="0.31"/><circle cx="3094.5" cy="1369.4" r="4.5" fill-opacity="0.32" stroke-opacity="0.43"/><circle cx="3096.4" cy="1398.2" r="4.5" fill-opacity="0.36" stroke-opacity="0.49"/><circle cx="3096.1" cy="1364.1" r="4.5" fill-opacity="0.27" stroke-opacity="0.37"/><circle cx="3108.5" cy="1360.2" r="4.5" fill-opacity="0.29" stroke-opacity="0.39"/><circle cx="3095.7" cy="1410.0" r="4.5" fill-opacity="0.26" stroke-opacity="0.35"/><circle cx="3084.8" cy="1402.7" r="4.5" fill-opacity="0.25" stroke-opacity="0.34"/><circle cx="3124.1" cy="1409.2" r="4.5" fill-opacity="0.28" stroke-opacity="0.37"/><circle cx="3128.7" cy="1378.1" r="4.5" fill-opacity="0.35" stroke-opacity="0.47"/><circle cx="3098.1" cy="1401.8" r="4.5" fill-opacity="0.26" stroke-opacity="0.35"/><circle cx="3100.8" cy="1365.4" r="4.5" fill-opacity="0.37" stroke-opacity="0.50"/></g>
<g fill="#e0703a" stroke="#e0703a" stroke-width="1"><circle cx="3040.0" cy="1368.5" r="4.5" fill-opacity="0.88" stroke-opacity="1.00"/><circle cx="3052.6" cy="1362.9" r="4.5" fill-opacity="0.91" stroke-opacity="1.00"/><circle cx="3061.7" cy="1362.9" r="4.5" fill-opacity="0.99" stroke-opacity="1.00"/><circle cx="3068.6" cy="1366.9" r="4.5" fill-opacity="0.97" stroke-opacity="1.00"/><circle cx="3050.3" cy="1376.6" r="4.5" fill-opacity="0.99" stroke-opacity="1.00"/><circle cx="3062.9" cy="1379.1" r="4.5" fill-opacity="0.86" stroke-opacity="1.00"/><circle cx="3034.3" cy="1397.7" r="4.5" fill-opacity="0.90" stroke-opacity="1.00"/><circle cx="3029.7" cy="1391.2" r="4.5" fill-opacity="0.88" stroke-opacity="1.00"/><circle cx="3044.6" cy="1404.2" r="4.5" fill-opacity="0.97" stroke-opacity="1.00"/><circle cx="3049.1" cy="1413.9" r="4.5" fill-opacity="0.86" stroke-opacity="1.00"/><circle cx="3059.4" cy="1409.9" r="4.5" fill-opacity="0.89" stroke-opacity="1.00"/><circle cx="3057.1" cy="1417.2" r="4.5" fill-opacity="0.97" stroke-opacity="1.00"/><circle cx="3081.1" cy="1357.2" r="4.5" fill-opacity="0.91" stroke-opacity="1.00"/><circle cx="3086.9" cy="1356.4" r="4.5" fill-opacity="0.89" stroke-opacity="1.00"/><circle cx="3094.9" cy="1354.7" r="4.5" fill-opacity="0.90" stroke-opacity="1.00"/><circle cx="3110.9" cy="1362.9" r="4.5" fill-opacity="0.91" stroke-opacity="1.00"/><circle cx="3100.6" cy="1418.0" r="4.5" fill-opacity="0.95" stroke-opacity="1.00"/><circle cx="3107.4" cy="1423.7" r="4.5" fill-opacity="0.90" stroke-opacity="1.00"/><circle cx="3118.9" cy="1418.8" r="4.5" fill-opacity="0.91" stroke-opacity="1.00"/><circle cx="3090.3" cy="1407.5" r="4.5" fill-opacity="0.97" stroke-opacity="1.00"/><circle cx="3126.9" cy="1405.8" r="4.5" fill-opacity="0.92" stroke-opacity="1.00"/><circle cx="3253.7" cy="1218.5" r="4.5" fill-opacity="0.98" stroke-opacity="1.00"/><circle cx="3306.3" cy="1233.1" r="4.5" fill-opacity="0.90" stroke-opacity="1.00"/><circle cx="3224.0" cy="1236.3" r="4.5" fill-opacity="0.88" stroke-opacity="1.00"/><circle cx="3059.4" cy="1387.2" r="4.5" fill-opacity="0.97" stroke-opacity="1.00"/><circle cx="3043.4" cy="1384.8" r="4.5" fill-opacity="0.90" stroke-opacity="1.00"/><circle cx="3060.6" cy="1399.3" r="4.5" fill-opacity="0.90" stroke-opacity="1.00"/><circle cx="3048.4" cy="1399.0" r="4.5" fill-opacity="0.87" stroke-opacity="1.00"/><circle cx="3036.2" cy="1416.1" r="4.5" fill-opacity="0.98" stroke-opacity="1.00"/><circle cx="3034.4" cy="1414.5" r="4.5" fill-opacity="0.99" stroke-opacity="1.00"/><circle cx="3037.4" cy="1389.1" r="4.5" fill-opacity="0.93" stroke-opacity="1.00"/><circle cx="3056.7" cy="1396.8" r="4.5" fill-opacity="0.86" stroke-opacity="1.00"/><circle cx="3032.3" cy="1384.6" r="4.5" fill-opacity="0.87" stroke-opacity="1.00"/><circle cx="3030.3" cy="1414.8" r="4.5" fill-opacity="0.99" stroke-opacity="1.00"/><circle cx="3052.5" cy="1416.8" r="4.5" fill-opacity="0.91" stroke-opacity="1.00"/><circle cx="3026.4" cy="1409.1" r="4.5" fill-opacity="0.93" stroke-opacity="1.00"/><circle cx="3027.9" cy="1400.4" r="4.5" fill-opacity="0.93" stroke-opacity="1.00"/><circle cx="3023.5" cy="1407.0" r="4.5" fill-opacity="0.95" stroke-opacity="1.00"/><circle cx="3046.8" cy="1401.7" r="4.5" fill-opacity="0.92" stroke-opacity="1.00"/><circle cx="3026.9" cy="1392.9" r="4.5" fill-opacity="0.99" stroke-opacity="1.00"/><circle cx="3049.4" cy="1381.2" r="4.5" fill-opacity="0.96" stroke-opacity="1.00"/><circle cx="3046.7" cy="1415.9" r="4.5" fill-opacity="0.89" stroke-opacity="1.00"/><circle cx="3061.1" cy="1383.7" r="4.5" fill-opacity="0.97" stroke-opacity="1.00"/><circle cx="3035.5" cy="1401.7" r="4.5" fill-opacity="0.90" stroke-opacity="1.00"/><circle cx="3043.3" cy="1408.3" r="4.5" fill-opacity="0.86" stroke-opacity="1.00"/><circle cx="3060.8" cy="1415.7" r="4.5" fill-opacity="0.93" stroke-opacity="1.00"/><circle cx="3047.0" cy="1393.0" r="4.5" fill-opacity="0.93" stroke-opacity="1.00"/><circle cx="3088.4" cy="1398.9" r="4.5" fill-opacity="1.00" stroke-opacity="1.00"/><circle cx="3109.3" cy="1380.3" r="4.5" fill-opacity="0.85" stroke-opacity="1.00"/><circle cx="3100.3" cy="1429.7" r="4.5" fill-opacity="0.90" stroke-opacity="1.00"/><circle cx="3084.7" cy="1398.8" r="4.5" fill-opacity="0.96" stroke-opacity="1.00"/><circle cx="3100.6" cy="1354.7" r="4.5" fill-opacity="0.89" stroke-opacity="1.00"/><circle cx="3116.8" cy="1355.7" r="4.5" fill-opacity="0.87" stroke-opacity="1.00"/><circle cx="3089.1" cy="1360.8" r="4.5" fill-opacity="0.90" stroke-opacity="1.00"/><circle cx="3111.5" cy="1358.8" r="4.5" fill-opacity="0.99" stroke-opacity="1.00"/><circle cx="3126.3" cy="1393.4" r="4.5" fill-opacity="0.93" stroke-opacity="1.00"/><circle cx="3118.6" cy="1367.3" r="4.5" fill-opacity="1.00" stroke-opacity="1.00"/><circle cx="3125.5" cy="1377.1" r="4.5" fill-opacity="1.00" stroke-opacity="1.00"/><circle cx="3124.5" cy="1416.6" r="4.5" fill-opacity="0.93" stroke-opacity="1.00"/><circle cx="3106.2" cy="1371.1" r="4.5" fill-opacity="0.97" stroke-opacity="1.00"/><circle cx="3119.9" cy="1394.3" r="4.5" fill-opacity="0.93" stroke-opacity="1.00"/><circle cx="3103.3" cy="1403.7" r="4.5" fill-opacity="0.94" stroke-opacity="1.00"/></g>
<g fill="#2c5fd8" stroke="#2c5fd8" stroke-width="1"><circle cx="3235.5" cy="1147.1" r="4.5" fill-opacity="0.99" stroke-opacity="1.00"/><circle cx="3277.7" cy="1170.6" r="4.5" fill-opacity="0.98" stroke-opacity="1.00"/><circle cx="3306.3" cy="1177.9" r="4.5" fill-opacity="0.97" stroke-opacity="1.00"/><circle cx="3308.6" cy="1180.4" r="4.5" fill-opacity="0.90" stroke-opacity="1.00"/><circle cx="3289.2" cy="1184.4" r="4.5" fill-opacity="0.90" stroke-opacity="1.00"/><circle cx="3277.7" cy="1191.7" r="4.5" fill-opacity="0.97" stroke-opacity="1.00"/><circle cx="3280.0" cy="1187.7" r="4.5" fill-opacity="0.89" stroke-opacity="1.00"/><circle cx="3269.7" cy="1190.1" r="4.5" fill-opacity="0.91" stroke-opacity="1.00"/><circle cx="3237.7" cy="1198.2" r="4.5" fill-opacity="0.93" stroke-opacity="1.00"/><circle cx="3242.3" cy="1200.7" r="4.5" fill-opacity="0.92" stroke-opacity="1.00"/><circle cx="3221.7" cy="1204.7" r="4.5" fill-opacity="0.93" stroke-opacity="1.00"/><circle cx="3220.6" cy="1208.8" r="4.5" fill-opacity="0.97" stroke-opacity="1.00"/><circle cx="3268.6" cy="1212.8" r="4.5" fill-opacity="0.98" stroke-opacity="1.00"/><circle cx="3280.0" cy="1214.4" r="4.5" fill-opacity="0.96" stroke-opacity="1.00"/><circle cx="3242.3" cy="1213.6" r="4.5" fill-opacity="0.95" stroke-opacity="1.00"/><circle cx="3292.6" cy="1214.4" r="4.5" fill-opacity="0.90" stroke-opacity="1.00"/><circle cx="3291.5" cy="1225.0" r="4.5" fill-opacity="0.89" stroke-opacity="1.00"/><circle cx="3252.6" cy="1230.7" r="4.5" fill-opacity="0.88" stroke-opacity="1.00"/><circle cx="3256.0" cy="1235.5" r="4.5" fill-opacity="0.92" stroke-opacity="1.00"/><circle cx="3251.5" cy="1241.2" r="4.5" fill-opacity="0.94" stroke-opacity="1.00"/><circle cx="3253.7" cy="1246.9" r="4.5" fill-opacity="0.91" stroke-opacity="1.00"/><circle cx="3257.2" cy="1238.0" r="4.5" fill-opacity="0.97" stroke-opacity="1.00"/><circle cx="3262.9" cy="1241.2" r="4.5" fill-opacity="0.92" stroke-opacity="1.00"/><circle cx="3356.6" cy="1208.8" r="4.5" fill-opacity="0.96" stroke-opacity="1.00"/><circle cx="3354.3" cy="1225.0" r="4.5" fill-opacity="0.98" stroke-opacity="1.00"/><circle cx="3339.5" cy="1196.6" r="4.5" fill-opacity="0.95" stroke-opacity="1.00"/><circle cx="3333.8" cy="1196.6" r="4.5" fill-opacity="0.90" stroke-opacity="1.00"/><circle cx="3348.6" cy="1196.6" r="4.5" fill-opacity="0.98" stroke-opacity="1.00"/><circle cx="3299.5" cy="1135.8" r="4.5" fill-opacity="0.92" stroke-opacity="1.00"/><circle cx="3174.9" cy="1229.0" r="4.5" fill-opacity="0.99" stroke-opacity="1.00"/><circle cx="3208.0" cy="1261.5" r="4.5" fill-opacity="0.96" stroke-opacity="1.00"/><circle cx="3218.3" cy="1267.2" r="4.5" fill-opacity="1.00" stroke-opacity="1.00"/><circle cx="3254.9" cy="1263.1" r="4.5" fill-opacity="0.97" stroke-opacity="1.00"/><circle cx="3277.7" cy="1267.2" r="4.5" fill-opacity="0.93" stroke-opacity="1.00"/><circle cx="3280.0" cy="1263.1" r="4.5" fill-opacity="0.91" stroke-opacity="1.00"/><circle cx="3309.7" cy="1174.7" r="4.5" fill-opacity="0.97" stroke-opacity="1.00"/><circle cx="3270.9" cy="1235.5" r="4.5" fill-opacity="0.93" stroke-opacity="1.00"/><circle cx="3304.0" cy="1143.9" r="4.5" fill-opacity="0.92" stroke-opacity="1.00"/><circle cx="3285.7" cy="1141.5" r="4.5" fill-opacity="0.96" stroke-opacity="1.00"/><circle cx="3392.9" cy="1129.6" r="4.5" fill-opacity="0.88" stroke-opacity="1.00"/><circle cx="3390.5" cy="1128.6" r="4.5" fill-opacity="0.94" stroke-opacity="1.00"/><circle cx="3400.2" cy="1126.9" r="4.5" fill-opacity="0.95" stroke-opacity="1.00"/><circle cx="3397.4" cy="1127.6" r="4.5" fill-opacity="0.98" stroke-opacity="1.00"/><circle cx="3404.0" cy="1126.7" r="4.5" fill-opacity="0.92" stroke-opacity="1.00"/><circle cx="3397.1" cy="1122.9" r="4.5" fill-opacity="0.96" stroke-opacity="1.00"/><circle cx="3397.6" cy="1128.0" r="4.5" fill-opacity="0.92" stroke-opacity="1.00"/><circle cx="3394.2" cy="1124.0" r="4.5" fill-opacity="0.88" stroke-opacity="1.00"/><circle cx="3398.1" cy="1128.6" r="4.5" fill-opacity="0.95" stroke-opacity="1.00"/><circle cx="3403.1" cy="1130.3" r="4.5" fill-opacity="0.92" stroke-opacity="1.00"/><circle cx="3382.2" cy="1129.1" r="4.5" fill-opacity="0.94" stroke-opacity="1.00"/><circle cx="3383.8" cy="1127.2" r="4.5" fill-opacity="0.92" stroke-opacity="1.00"/><circle cx="3395.9" cy="1127.4" r="4.5" fill-opacity="0.97" stroke-opacity="1.00"/><circle cx="3392.1" cy="1129.3" r="4.5" fill-opacity="0.91" stroke-opacity="1.00"/><circle cx="3094.9" cy="1360.4" r="4.5" fill-opacity="0.97" stroke-opacity="1.00"/><circle cx="3092.6" cy="1368.5" r="4.5" fill-opacity="0.95" stroke-opacity="1.00"/><circle cx="3090.3" cy="1374.2" r="4.5" fill-opacity="0.98" stroke-opacity="1.00"/><circle cx="3105.2" cy="1369.3" r="4.5" fill-opacity="0.91" stroke-opacity="1.00"/><circle cx="3109.7" cy="1362.0" r="4.5" fill-opacity="0.90" stroke-opacity="1.00"/><circle cx="3116.6" cy="1358.8" r="4.5" fill-opacity="0.88" stroke-opacity="1.00"/><circle cx="3096.0" cy="1381.5" r="4.5" fill-opacity="0.90" stroke-opacity="1.00"/><circle cx="3098.3" cy="1384.8" r="4.5" fill-opacity="0.98" stroke-opacity="1.00"/><circle cx="3097.2" cy="1389.6" r="4.5" fill-opacity="1.00" stroke-opacity="1.00"/><circle cx="3104.0" cy="1389.6" r="4.5" fill-opacity="0.89" stroke-opacity="1.00"/><circle cx="3094.9" cy="1394.5" r="4.5" fill-opacity="0.91" stroke-opacity="1.00"/><circle cx="3097.2" cy="1398.5" r="4.5" fill-opacity="0.94" stroke-opacity="1.00"/><circle cx="3089.2" cy="1371.0" r="4.5" fill-opacity="0.94" stroke-opacity="1.00"/><circle cx="3107.4" cy="1378.3" r="4.5" fill-opacity="0.97" stroke-opacity="1.00"/><circle cx="3113.2" cy="1383.9" r="4.5" fill-opacity="0.94" stroke-opacity="1.00"/><circle cx="3110.9" cy="1403.4" r="4.5" fill-opacity="0.88" stroke-opacity="1.00"/><circle cx="3120.0" cy="1399.3" r="4.5" fill-opacity="0.95" stroke-opacity="1.00"/><circle cx="3105.2" cy="1415.6" r="4.5" fill-opacity="0.90" stroke-opacity="1.00"/><circle cx="3106.3" cy="1418.0" r="4.5" fill-opacity="0.92" stroke-opacity="1.00"/><circle cx="3097.2" cy="1419.6" r="4.5" fill-opacity="0.92" stroke-opacity="1.00"/></g>
<circle cx="3048.0" cy="1398.5" r="4.6" fill="#3db135"/>
<rect x="3010.3" y="1104.2" width="416.1" height="339.9" fill="none" stroke="#333" stroke-width="1.6"/>
<line x1="3032.0" y1="1444.1" x2="3032.0" y2="1449.1" stroke="#333" stroke-width="1.3"/>
<text x="3032.0" y="1465.1" font-family="Liberation Sans" font-size="14.5" text-anchor="middle" fill="#222">−65</text>
<line x1="3089.2" y1="1444.1" x2="3089.2" y2="1449.1" stroke="#333" stroke-width="1.3"/>
<text x="3089.2" y="1465.1" font-family="Liberation Sans" font-size="14.5" text-anchor="middle" fill="#222">−60</text>
<line x1="3146.3" y1="1444.1" x2="3146.3" y2="1449.1" stroke="#333" stroke-width="1.3"/>
<text x="3146.3" y="1465.1" font-family="Liberation Sans" font-size="14.5" text-anchor="middle" fill="#222">−55</text>
<line x1="3203.5" y1="1444.1" x2="3203.5" y2="1449.1" stroke="#333" stroke-width="1.3"/>
<text x="3203.5" y="1465.1" font-family="Liberation Sans" font-size="14.5" text-anchor="middle" fill="#222">−50</text>
<line x1="3260.6" y1="1444.1" x2="3260.6" y2="1449.1" stroke="#333" stroke-width="1.3"/>
<text x="3260.6" y="1465.1" font-family="Liberation Sans" font-size="14.5" text-anchor="middle" fill="#222">−45</text>
<line x1="3317.8" y1="1444.1" x2="3317.8" y2="1449.1" stroke="#333" stroke-width="1.3"/>
<text x="3317.8" y="1465.1" font-family="Liberation Sans" font-size="14.5" text-anchor="middle" fill="#222">−40</text>
<line x1="3374.9" y1="1444.1" x2="3374.9" y2="1449.1" stroke="#333" stroke-width="1.3"/>
<text x="3374.9" y="1465.1" font-family="Liberation Sans" font-size="14.5" text-anchor="middle" fill="#222">−35</text>
<line x1="3005.3" y1="1439.9" x2="3010.3" y2="1439.9" stroke="#333" stroke-width="1.3"/>
<text x="3002.3" y="1444.9" font-family="Liberation Sans" font-size="14.5" text-anchor="end" fill="#222">−15</text>
<line x1="3005.3" y1="1399.3" x2="3010.3" y2="1399.3" stroke="#333" stroke-width="1.3"/>
<text x="3002.3" y="1404.3" font-family="Liberation Sans" font-size="14.5" text-anchor="end" fill="#222">−10</text>
<line x1="3005.3" y1="1358.8" x2="3010.3" y2="1358.8" stroke="#333" stroke-width="1.3"/>
<text x="3002.3" y="1363.8" font-family="Liberation Sans" font-size="14.5" text-anchor="end" fill="#222">−5</text>
<line x1="3005.3" y1="1318.2" x2="3010.3" y2="1318.2" stroke="#333" stroke-width="1.3"/>
<text x="3002.3" y="1323.2" font-family="Liberation Sans" font-size="14.5" text-anchor="end" fill="#222">0</text>
<line x1="3005.3" y1="1277.7" x2="3010.3" y2="1277.7" stroke="#333" stroke-width="1.3"/>
<text x="3002.3" y="1282.7" font-family="Liberation Sans" font-size="14.5" text-anchor="end" fill="#222">5</text>
<line x1="3005.3" y1="1237.2" x2="3010.3" y2="1237.2" stroke="#333" stroke-width="1.3"/>
<text x="3002.3" y="1242.2" font-family="Liberation Sans" font-size="14.5" text-anchor="end" fill="#222">10</text>
<line x1="3005.3" y1="1196.6" x2="3010.3" y2="1196.6" stroke="#333" stroke-width="1.3"/>
<text x="3002.3" y="1201.6" font-family="Liberation Sans" font-size="14.5" text-anchor="end" fill="#222">15</text>
<line x1="3005.3" y1="1156.0" x2="3010.3" y2="1156.0" stroke="#333" stroke-width="1.3"/>
<text x="3002.3" y="1161.0" font-family="Liberation Sans" font-size="14.5" text-anchor="end" fill="#222">20</text>
<line x1="3005.3" y1="1115.5" x2="3010.3" y2="1115.5" stroke="#333" stroke-width="1.3"/>
<text x="3002.3" y="1120.5" font-family="Liberation Sans" font-size="14.5" text-anchor="end" fill="#222">25</text>
<rect x="3277.7" y="1350.6" width="131.1" height="78.8" rx="10" fill="#fff" fill-opacity="0.85" stroke="#888" stroke-width="1.5"/>
<circle cx="3297.2" cy="1364.8" r="4.5" fill="#2c5fd8"/>
<text x="3311.7" y="1369.3" font-family="Liberation Serif" font-size="13.5" fill="#111">Batch Targets</text>
<circle cx="3297.2" cy="1389.6" r="4.5" fill="#e0703a"/>
<text x="3311.7" y="1394.1" font-family="Liberation Serif" font-size="13.5" fill="#111">Beam Search</text>
<circle cx="3297.2" cy="1414.4" r="4.5" fill="#3db135"/>
<text x="3311.7" y="1418.9" font-family="Liberation Serif" font-size="13.5" fill="#111">Ground Truth</text>
<rect x="3022.7" y="1382.6" width="57.5" height="33.2" fill="none" stroke="#555" stroke-width="2.6" stroke-dasharray="7,3.5"/>
</svg>
<div class="t" style="left:2183.7px;top:1490.5px;font-size:31px;line-height:31px;font-family:'Liberation Serif', serif;font-weight:normal;font-style:normal;color:#111;letter-spacing:0.584px;">(a) MLE</div>
<div class="t" style="left:2638.0px;top:1490.5px;font-size:31px;line-height:31px;font-family:'Liberation Serif', serif;font-weight:normal;font-style:normal;color:#111;letter-spacing:0.374px;">(b) Naive CL</div>
<div class="t" style="left:3139.0px;top:1490.5px;font-size:31px;line-height:31px;font-family:'Liberation Serif', serif;font-weight:normal;font-style:normal;color:#111;letter-spacing:1.487px;">(c) C<span style="font-size:0.8em">O</span>NT</div>
<div class="t" style="left:1942.6px;top:1526.8px;font-size:31px;line-height:31px;font-family:'Liberation Serif', serif;font-weight:normal;font-style:normal;color:#777;letter-spacing:-0.079px;">Learned representation of MLE model, naïve contrastive model and CoNT . Each point represents a target sequence. Batch target is</div>
<div class="t" style="left:1942.6px;top:1565.6px;font-size:31px;line-height:31px;font-family:'Liberation Serif', serif;font-weight:normal;font-style:normal;color:#777;letter-spacing:-0.084px;">blue; beam search hypothesis is orange; ground-truth sequence is green. Darker points indicate sequences with higher BLEU</div>
<svg width="3716" height="2088" style="left:0;top:0">
<line x1="2274.3" y1="1855.0" x2="2715.4" y2="1855.0" stroke="#bdbdbd" stroke-width="1.4" stroke-dasharray="8,5.5"/>
<line x1="2274.3" y1="1796.1" x2="2715.4" y2="1796.1" stroke="#bdbdbd" stroke-width="1.4" stroke-dasharray="8,5.5"/>
<line x1="2274.3" y1="1737.2" x2="2715.4" y2="1737.2" stroke="#bdbdbd" stroke-width="1.4" stroke-dasharray="8,5.5"/>
<line x1="2274.3" y1="1678.3" x2="2715.4" y2="1678.3" stroke="#bdbdbd" stroke-width="1.4" stroke-dasharray="8,5.5"/>
<line x1="2311.5" y1="1619.4" x2="2311.5" y2="1625.9" stroke="#aaa" stroke-width="1.3"/>
<line x1="2311.5" y1="1913.9" x2="2311.5" y2="1907.4" stroke="#aaa" stroke-width="1.3"/>
<text x="2311.5" y="1938.2" font-family="Liberation Serif" font-size="25.5" text-anchor="middle" fill="#111">0.0</text>
<line x1="2384.9" y1="1619.4" x2="2384.9" y2="1625.9" stroke="#aaa" stroke-width="1.3"/>
<line x1="2384.9" y1="1913.9" x2="2384.9" y2="1907.4" stroke="#aaa" stroke-width="1.3"/>
<text x="2384.9" y="1938.2" font-family="Liberation Serif" font-size="25.5" text-anchor="middle" fill="#111">0.3</text>
<line x1="2458.3" y1="1619.4" x2="2458.3" y2="1625.9" stroke="#aaa" stroke-width="1.3"/>
<line x1="2458.3" y1="1913.9" x2="2458.3" y2="1907.4" stroke="#aaa" stroke-width="1.3"/>
<text x="2458.3" y="1938.2" font-family="Liberation Serif" font-size="25.5" text-anchor="middle" fill="#111">0.5</text>
<line x1="2531.7" y1="1619.4" x2="2531.7" y2="1625.9" stroke="#aaa" stroke-width="1.3"/>
<line x1="2531.7" y1="1913.9" x2="2531.7" y2="1907.4" stroke="#aaa" stroke-width="1.3"/>
<text x="2531.7" y="1938.2" font-family="Liberation Serif" font-size="25.5" text-anchor="middle" fill="#111">0.7</text>
<line x1="2605.1" y1="1619.4" x2="2605.1" y2="1625.9" stroke="#aaa" stroke-width="1.3"/>
<line x1="2605.1" y1="1913.9" x2="2605.1" y2="1907.4" stroke="#aaa" stroke-width="1.3"/>
<text x="2605.1" y="1938.2" font-family="Liberation Serif" font-size="25.5" text-anchor="middle" fill="#111">0.9</text>
<line x1="2678.5" y1="1619.4" x2="2678.5" y2="1625.9" stroke="#aaa" stroke-width="1.3"/>
<line x1="2678.5" y1="1913.9" x2="2678.5" y2="1907.4" stroke="#aaa" stroke-width="1.3"/>
<text x="2678.5" y="1938.2" font-family="Liberation Serif" font-size="25.5" text-anchor="middle" fill="#111">1.0</text>
<line x1="2274.3" y1="1913.9" x2="2280.8" y2="1913.9" stroke="#aaa" stroke-width="1.3"/>
<line x1="2715.4" y1="1913.9" x2="2708.9" y2="1913.9" stroke="#aaa" stroke-width="1.3"/>
<text x="2267" y="1922.4" font-family="Liberation Serif" font-size="25.5" text-anchor="end" fill="#111">32</text>
<line x1="2274.3" y1="1855.0" x2="2280.8" y2="1855.0" stroke="#aaa" stroke-width="1.3"/>
<line x1="2715.4" y1="1855.0" x2="2708.9" y2="1855.0" stroke="#aaa" stroke-width="1.3"/>
<text x="2267" y="1863.5" font-family="Liberation Serif" font-size="25.5" text-anchor="end" fill="#111">33</text>
<line x1="2274.3" y1="1796.1" x2="2280.8" y2="1796.1" stroke="#aaa" stroke-width="1.3"/>
<line x1="2715.4" y1="1796.1" x2="2708.9" y2="1796.1" stroke="#aaa" stroke-width="1.3"/>
<text x="2267" y="1804.6" font-family="Liberation Serif" font-size="25.5" text-anchor="end" fill="#111">34</text>
<line x1="2274.3" y1="1737.2" x2="2280.8" y2="1737.2" stroke="#aaa" stroke-width="1.3"/>
<line x1="2715.4" y1="1737.2" x2="2708.9" y2="1737.2" stroke="#aaa" stroke-width="1.3"/>
<text x="2267" y="1745.7" font-family="Liberation Serif" font-size="25.5" text-anchor="end" fill="#111">35</text>
<line x1="2274.3" y1="1678.3" x2="2280.8" y2="1678.3" stroke="#aaa" stroke-width="1.3"/>
<line x1="2715.4" y1="1678.3" x2="2708.9" y2="1678.3" stroke="#aaa" stroke-width="1.3"/>
<text x="2267" y="1686.8" font-family="Liberation Serif" font-size="25.5" text-anchor="end" fill="#111">36</text>
<line x1="2274.3" y1="1619.4" x2="2280.8" y2="1619.4" stroke="#aaa" stroke-width="1.3"/>
<line x1="2715.4" y1="1619.4" x2="2708.9" y2="1619.4" stroke="#aaa" stroke-width="1.3"/>
<text x="2267" y="1627.9" font-family="Liberation Serif" font-size="25.5" text-anchor="end" fill="#111">37</text>
<rect x="2274.3" y="1619.4" width="441.1" height="294.5" fill="none" stroke="#555" stroke-width="1.5"/>
<path d="M2311.5,1755.5 C2325.0,1747.8 2358.0,1722.9 2384.9,1713.6 C2411.8,1704.4 2431.4,1705.6 2458.3,1704.8 C2485.2,1704.0 2504.8,1705.2 2531.7,1709.5 C2558.6,1713.8 2578.2,1721.6 2605.1,1728.4 C2632.0,1735.2 2665.0,1743.3 2678.5,1746.6" fill="none" stroke="#ea4558" stroke-width="3.4"/>
<path d="M2307.5,1751.5 L2315.5,1759.5 M2307.5,1759.5 L2315.5,1751.5" stroke="#ea4558" stroke-width="3.2"/>
<path d="M2380.9,1709.6 L2388.9,1717.6 M2380.9,1717.6 L2388.9,1709.6" stroke="#ea4558" stroke-width="3.2"/>
<path d="M2454.3,1700.8 L2462.3,1708.8 M2454.3,1708.8 L2462.3,1700.8" stroke="#ea4558" stroke-width="3.2"/>
<path d="M2527.7,1705.5 L2535.7,1713.5 M2527.7,1713.5 L2535.7,1705.5" stroke="#ea4558" stroke-width="3.2"/>
<path d="M2601.1,1724.4 L2609.1,1732.4 M2601.1,1732.4 L2609.1,1724.4" stroke="#ea4558" stroke-width="3.2"/>
<path d="M2674.5,1742.6 L2682.5,1750.6 M2674.5,1750.6 L2682.5,1742.6" stroke="#ea4558" stroke-width="3.2"/>
<path d="M2311.5,1769.0 C2325.0,1768.9 2358.0,1766.4 2384.9,1768.4 C2411.8,1770.5 2431.4,1775.2 2458.3,1780.2 C2485.2,1785.2 2504.8,1783.5 2531.7,1795.5 C2558.6,1807.5 2578.2,1832.8 2605.1,1845.6 C2632.0,1858.3 2665.0,1861.4 2678.5,1865.0" fill="none" stroke="#c9b096" stroke-width="3.0"/>
<circle cx="2311.5" cy="1769.0" r="5.4" fill="#fff" stroke="#c9b096" stroke-width="3"/>
<circle cx="2384.9" cy="1768.4" r="5.4" fill="#fff" stroke="#c9b096" stroke-width="3"/>
<circle cx="2458.3" cy="1780.2" r="5.4" fill="#fff" stroke="#c9b096" stroke-width="3"/>
<circle cx="2531.7" cy="1795.5" r="5.4" fill="#fff" stroke="#c9b096" stroke-width="3"/>
<circle cx="2605.1" cy="1845.6" r="5.4" fill="#fff" stroke="#c9b096" stroke-width="3"/>
<circle cx="2678.5" cy="1865.0" r="5.4" fill="#fff" stroke="#c9b096" stroke-width="3"/>
<rect x="2295.3" y="1634.5" width="134.0" height="56.3" fill="#fff" stroke="#a8a8a8" stroke-width="1.4"/>
<line x1="2303.3" y1="1650.4" x2="2334.3" y2="1650.4" stroke="#ea4558" stroke-width="3.4"/>
<circle cx="2318.8" cy="1650.4" r="2.4" fill="#ea4558"/>
<text x="2339.5" y="1656" font-family="Liberation Serif" font-size="21.5" text-anchor="start" fill="#111">Pair-wise</text>
<line x1="2303.3" y1="1674.7" x2="2334.3" y2="1674.7" stroke="#c9b096" stroke-width="3.4"/>
<circle cx="2318.8" cy="1674.7" r="4.3" fill="#c9b096"/>
<text x="2339.5" y="1680.3" font-family="Liberation Serif" font-size="21.5" text-anchor="start" fill="#111">InfoNCE</text>
<text x="2494" y="1969" font-family="Liberation Serif" font-style="italic" font-size="40" text-anchor="middle" fill="#111">α</text>
<text transform="translate(2228,1767) rotate(-90)" x="0" y="0" font-family="Liberation Serif" font-size="27.5" text-anchor="middle" fill="#111">BLEU score</text>
<line x1="2834.3" y1="1859.5" x2="3275.4" y2="1859.5" stroke="#bdbdbd" stroke-width="1.4" stroke-dasharray="8,5.5"/>
<line x1="2834.3" y1="1805.1" x2="3275.4" y2="1805.1" stroke="#bdbdbd" stroke-width="1.4" stroke-dasharray="8,5.5"/>
<line x1="2834.3" y1="1750.7" x2="3275.4" y2="1750.7" stroke="#bdbdbd" stroke-width="1.4" stroke-dasharray="8,5.5"/>
<line x1="2834.3" y1="1696.3" x2="3275.4" y2="1696.3" stroke="#bdbdbd" stroke-width="1.4" stroke-dasharray="8,5.5"/>
<line x1="2834.3" y1="1641.9" x2="3275.4" y2="1641.9" stroke="#bdbdbd" stroke-width="1.4" stroke-dasharray="8,5.5"/>
<line x1="2871.5" y1="1619.7" x2="2871.5" y2="1626.2" stroke="#aaa" stroke-width="1.3"/>
<line x1="2871.5" y1="1913.9" x2="2871.5" y2="1907.4" stroke="#aaa" stroke-width="1.3"/>
<text x="2871.5" y="1938.2" font-family="Liberation Serif" font-size="25.5" text-anchor="middle" fill="#111">0.0</text>
<line x1="2944.9" y1="1619.7" x2="2944.9" y2="1626.2" stroke="#aaa" stroke-width="1.3"/>
<line x1="2944.9" y1="1913.9" x2="2944.9" y2="1907.4" stroke="#aaa" stroke-width="1.3"/>
<text x="2944.9" y="1938.2" font-family="Liberation Serif" font-size="25.5" text-anchor="middle" fill="#111">0.3</text>
<line x1="3018.3" y1="1619.7" x2="3018.3" y2="1626.2" stroke="#aaa" stroke-width="1.3"/>
<line x1="3018.3" y1="1913.9" x2="3018.3" y2="1907.4" stroke="#aaa" stroke-width="1.3"/>
<text x="3018.3" y="1938.2" font-family="Liberation Serif" font-size="25.5" text-anchor="middle" fill="#111">0.5</text>
<line x1="3091.7" y1="1619.7" x2="3091.7" y2="1626.2" stroke="#aaa" stroke-width="1.3"/>
<line x1="3091.7" y1="1913.9" x2="3091.7" y2="1907.4" stroke="#aaa" stroke-width="1.3"/>
<text x="3091.7" y="1938.2" font-family="Liberation Serif" font-size="25.5" text-anchor="middle" fill="#111">0.7</text>
<line x1="3165.1" y1="1619.7" x2="3165.1" y2="1626.2" stroke="#aaa" stroke-width="1.3"/>
<line x1="3165.1" y1="1913.9" x2="3165.1" y2="1907.4" stroke="#aaa" stroke-width="1.3"/>
<text x="3165.1" y="1938.2" font-family="Liberation Serif" font-size="25.5" text-anchor="middle" fill="#111">0.9</text>
<line x1="3238.5" y1="1619.7" x2="3238.5" y2="1626.2" stroke="#aaa" stroke-width="1.3"/>
<line x1="3238.5" y1="1913.9" x2="3238.5" y2="1907.4" stroke="#aaa" stroke-width="1.3"/>
<text x="3238.5" y="1938.2" font-family="Liberation Serif" font-size="25.5" text-anchor="middle" fill="#111">1.0</text>
<line x1="2834.3" y1="1913.9" x2="2840.8" y2="1913.9" stroke="#aaa" stroke-width="1.3"/>
<line x1="3275.4" y1="1913.9" x2="3268.9" y2="1913.9" stroke="#aaa" stroke-width="1.3"/>
<text x="2827" y="1922.4" font-family="Liberation Serif" font-size="25.5" text-anchor="end" fill="#111">32</text>
<line x1="2834.3" y1="1859.5" x2="2840.8" y2="1859.5" stroke="#aaa" stroke-width="1.3"/>
<line x1="3275.4" y1="1859.5" x2="3268.9" y2="1859.5" stroke="#aaa" stroke-width="1.3"/>
<text x="2827" y="1868.0" font-family="Liberation Serif" font-size="25.5" text-anchor="end" fill="#111">33</text>
<line x1="2834.3" y1="1805.1" x2="2840.8" y2="1805.1" stroke="#aaa" stroke-width="1.3"/>
<line x1="3275.4" y1="1805.1" x2="3268.9" y2="1805.1" stroke="#aaa" stroke-width="1.3"/>
<text x="2827" y="1813.6" font-family="Liberation Serif" font-size="25.5" text-anchor="end" fill="#111">34</text>
<line x1="2834.3" y1="1750.7" x2="2840.8" y2="1750.7" stroke="#aaa" stroke-width="1.3"/>
<line x1="3275.4" y1="1750.7" x2="3268.9" y2="1750.7" stroke="#aaa" stroke-width="1.3"/>
<text x="2827" y="1759.2" font-family="Liberation Serif" font-size="25.5" text-anchor="end" fill="#111">35</text>
<line x1="2834.3" y1="1696.3" x2="2840.8" y2="1696.3" stroke="#aaa" stroke-width="1.3"/>
<line x1="3275.4" y1="1696.3" x2="3268.9" y2="1696.3" stroke="#aaa" stroke-width="1.3"/>
<text x="2827" y="1704.8" font-family="Liberation Serif" font-size="25.5" text-anchor="end" fill="#111">36</text>
<line x1="2834.3" y1="1641.9" x2="2840.8" y2="1641.9" stroke="#aaa" stroke-width="1.3"/>
<line x1="3275.4" y1="1641.9" x2="3268.9" y2="1641.9" stroke="#aaa" stroke-width="1.3"/>
<text x="2827" y="1650.4" font-family="Liberation Serif" font-size="25.5" text-anchor="end" fill="#111">37</text>
<rect x="2834.3" y="1619.7" width="441.1" height="294.2" fill="none" stroke="#555" stroke-width="1.5"/>
<path d="M2871.5,1790.4 C2885.0,1789.4 2918.0,1787.0 2944.9,1785.0 C2971.8,1783.0 2991.4,1779.9 3018.3,1779.5 C3045.2,1779.1 3064.8,1777.1 3091.7,1782.8 C3118.6,1788.5 3138.2,1799.1 3165.1,1810.5 C3192.0,1822.0 3225.0,1839.0 3238.5,1845.4" fill="none" stroke="#5b80e4" stroke-width="2.8"/>
<path d="M2866.0,1790.4 L2877.0,1790.4 M2871.5,1784.9 L2871.5,1795.9" stroke="#5b80e4" stroke-width="3"/>
<path d="M2939.4,1785.0 L2950.4,1785.0 M2944.9,1779.5 L2944.9,1790.5" stroke="#5b80e4" stroke-width="3"/>
<path d="M3012.8,1779.5 L3023.8,1779.5 M3018.3,1774.0 L3018.3,1785.0" stroke="#5b80e4" stroke-width="3"/>
<path d="M3086.2,1782.8 L3097.2,1782.8 M3091.7,1777.3 L3091.7,1788.3" stroke="#5b80e4" stroke-width="3"/>
<path d="M3159.6,1810.5 L3170.6,1810.5 M3165.1,1805.0 L3165.1,1816.0" stroke="#5b80e4" stroke-width="3"/>
<path d="M3233.0,1845.4 L3244.0,1845.4 M3238.5,1839.9 L3238.5,1850.9" stroke="#5b80e4" stroke-width="3"/>
<path d="M2871.5,1795.9 C2885.0,1795.8 2918.0,1794.8 2944.9,1795.3 C2971.8,1795.8 2991.4,1795.8 3018.3,1798.6 C3045.2,1801.4 3064.8,1797.4 3091.7,1810.5 C3118.6,1823.7 3138.2,1852.6 3165.1,1870.4 C3192.0,1888.1 3225.0,1900.6 3238.5,1907.4" fill="none" stroke="#e2733a" stroke-width="3.2"/>
<circle cx="2871.5" cy="1795.9" r="5.4" fill="#fff" stroke="#e2733a" stroke-width="3"/>
<circle cx="2944.9" cy="1795.3" r="5.4" fill="#fff" stroke="#e2733a" stroke-width="3"/>
<circle cx="3018.3" cy="1798.6" r="5.4" fill="#fff" stroke="#e2733a" stroke-width="3"/>
<circle cx="3091.7" cy="1810.5" r="5.4" fill="#fff" stroke="#e2733a" stroke-width="3"/>
<circle cx="3165.1" cy="1870.4" r="5.4" fill="#fff" stroke="#e2733a" stroke-width="3"/>
<circle cx="3238.5" cy="1907.4" r="5.4" fill="#fff" stroke="#e2733a" stroke-width="3"/>
<path d="M2871.5,1767.6 C2885.0,1760.4 2918.0,1736.9 2944.9,1728.4 C2971.8,1719.9 2991.4,1721.8 3018.3,1721.3 C3045.2,1720.8 3064.8,1721.8 3091.7,1725.7 C3118.6,1729.6 3138.2,1736.4 3165.1,1742.5 C3192.0,1748.7 3225.0,1756.3 3238.5,1759.4" fill="none" stroke="#ea4558" stroke-width="3.4"/>
<path d="M2867.5,1763.6 L2875.5,1771.6 M2867.5,1771.6 L2875.5,1763.6" stroke="#ea4558" stroke-width="3.2"/>
<path d="M2940.9,1724.4 L2948.9,1732.4 M2940.9,1732.4 L2948.9,1724.4" stroke="#ea4558" stroke-width="3.2"/>
<path d="M3014.3,1717.3 L3022.3,1725.3 M3014.3,1725.3 L3022.3,1717.3" stroke="#ea4558" stroke-width="3.2"/>
<path d="M3087.7,1721.7 L3095.7,1729.7 M3087.7,1729.7 L3095.7,1721.7" stroke="#ea4558" stroke-width="3.2"/>
<path d="M3161.1,1738.5 L3169.1,1746.5 M3161.1,1746.5 L3169.1,1738.5" stroke="#ea4558" stroke-width="3.2"/>
<path d="M3234.5,1755.4 L3242.5,1763.4 M3234.5,1763.4 L3242.5,1755.4" stroke="#ea4558" stroke-width="3.2"/>
<rect x="2852.4" y="1635" width="136.3" height="80.3" fill="#fff" stroke="#a8a8a8" stroke-width="1.4"/>
<line x1="2860.4" y1="1651.5" x2="2891.4" y2="1651.5" stroke="#ea4558" stroke-width="3.4"/>
<circle cx="2875.9" cy="1651.5" r="2.4" fill="#ea4558"/>
<text x="2938" y="1657.1" font-family="Liberation Serif" font-size="21.5" text-anchor="middle" fill="#111">C<tspan font-size="0.8em">O</tspan>NT</text>
<line x1="2860.4" y1="1675.8" x2="2891.4" y2="1675.8" stroke="#5b80e4" stroke-width="3.4"/>
<circle cx="2875.9" cy="1675.8" r="2.4" fill="#5b80e4"/>
<text x="2938" y="1681.4" font-family="Liberation Serif" font-size="21.5" text-anchor="middle" fill="#111">Naive CL</text>
<line x1="2860.4" y1="1700.0" x2="2891.4" y2="1700.0" stroke="#e2733a" stroke-width="3.4"/>
<circle cx="2875.9" cy="1700.0" r="4.3" fill="#e2733a"/>
<text x="2938" y="1705.6" font-family="Liberation Serif" font-size="21.5" text-anchor="middle" fill="#111">MLE</text>
<text x="3054.5" y="1969" font-family="Liberation Serif" font-style="italic" font-size="40" text-anchor="middle" fill="#111">α</text>
<text transform="translate(2788,1767) rotate(-90)" x="0" y="0" font-family="Liberation Serif" font-size="27.5" text-anchor="middle" fill="#111">BLEU score</text>
</svg>
<div class="t" style="left:1951.4px;top:1975.2px;font-size:31px;line-height:31px;font-family:'Liberation Serif', serif;font-weight:normal;font-style:normal;color:#777;letter-spacing:-0.003px;">Ablation study on the balance factor α on the test set of IWSLT’14 De-En where α = 0.0 means selecting output only relying on</div>
<div class="t" style="left:1951.4px;top:2014.5px;font-size:31px;line-height:31px;font-family:'Liberation Serif', serif;font-weight:normal;font-style:normal;color:#777;letter-spacing:0.015px;">likelihood and α = 1.0 means choosing output with only sequence similarity.</div>
</body></html>
